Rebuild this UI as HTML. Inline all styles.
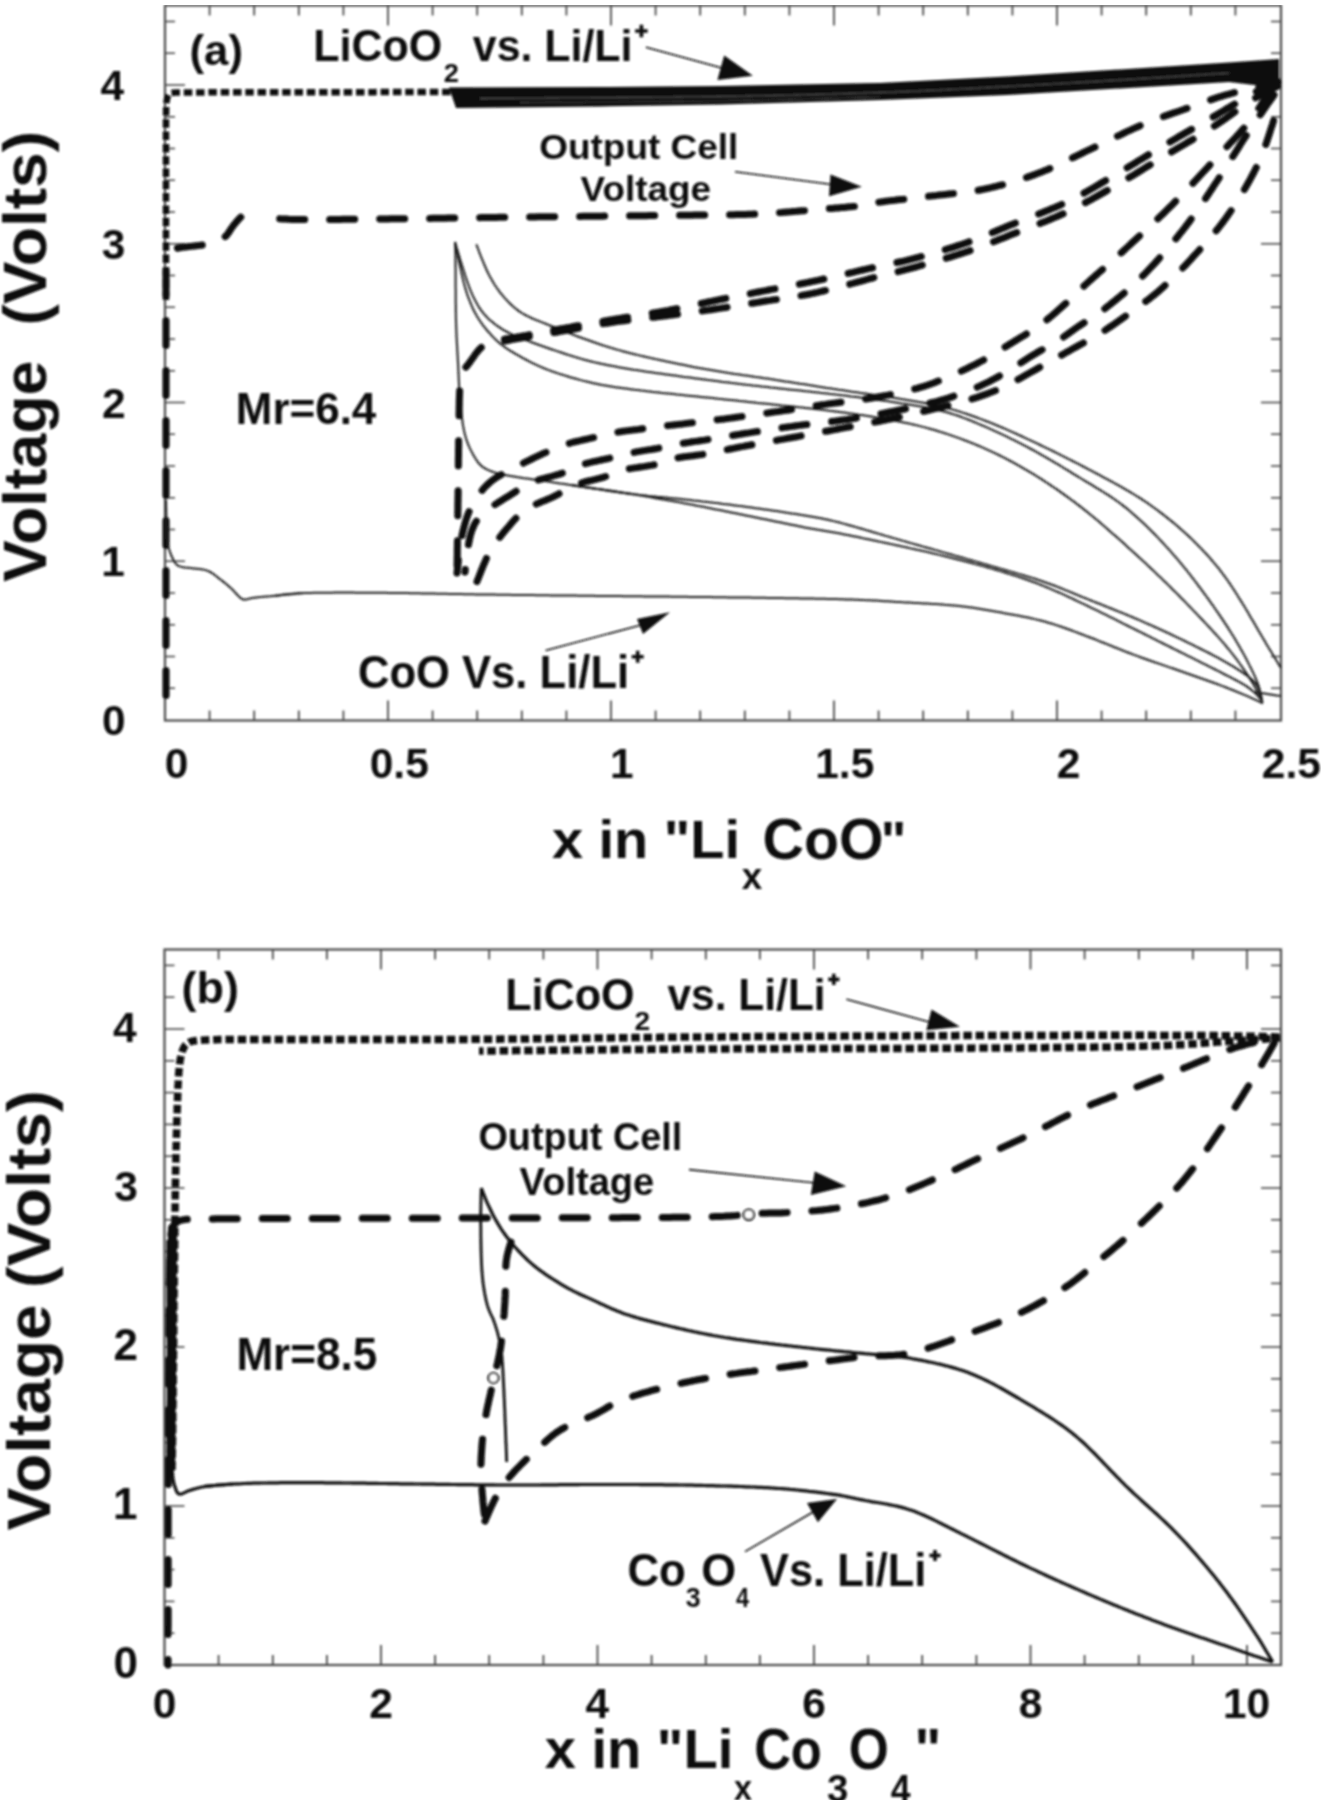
<!DOCTYPE html>
<html><head><meta charset="utf-8"><style>
html,body{margin:0;padding:0;background:#fff;}
svg{display:block;}
text{font-family:'Liberation Sans', sans-serif;font-weight:bold;}
</style></head><body>
<svg width="1322" height="1800" viewBox="0 0 1322 1800">
<rect width="1322" height="1800" fill="#fff"/>
<g filter="url(#soft)">
<line x1="209.6" y1="720.5" x2="209.6" y2="710.5" stroke="#4a4a4a" stroke-width="1.8"/>
<line x1="209.6" y1="5.5" x2="209.6" y2="15.5" stroke="#4a4a4a" stroke-width="1.8"/>
<line x1="254.2" y1="720.5" x2="254.2" y2="710.5" stroke="#4a4a4a" stroke-width="1.8"/>
<line x1="254.2" y1="5.5" x2="254.2" y2="15.5" stroke="#4a4a4a" stroke-width="1.8"/>
<line x1="298.8" y1="720.5" x2="298.8" y2="710.5" stroke="#4a4a4a" stroke-width="1.8"/>
<line x1="298.8" y1="5.5" x2="298.8" y2="15.5" stroke="#4a4a4a" stroke-width="1.8"/>
<line x1="343.4" y1="720.5" x2="343.4" y2="710.5" stroke="#4a4a4a" stroke-width="1.8"/>
<line x1="343.4" y1="5.5" x2="343.4" y2="15.5" stroke="#4a4a4a" stroke-width="1.8"/>
<line x1="388.0" y1="720.5" x2="388.0" y2="700.5" stroke="#4a4a4a" stroke-width="1.8"/>
<line x1="388.0" y1="5.5" x2="388.0" y2="25.5" stroke="#4a4a4a" stroke-width="1.8"/>
<line x1="432.6" y1="720.5" x2="432.6" y2="710.5" stroke="#4a4a4a" stroke-width="1.8"/>
<line x1="432.6" y1="5.5" x2="432.6" y2="15.5" stroke="#4a4a4a" stroke-width="1.8"/>
<line x1="477.2" y1="720.5" x2="477.2" y2="710.5" stroke="#4a4a4a" stroke-width="1.8"/>
<line x1="477.2" y1="5.5" x2="477.2" y2="15.5" stroke="#4a4a4a" stroke-width="1.8"/>
<line x1="521.8" y1="720.5" x2="521.8" y2="710.5" stroke="#4a4a4a" stroke-width="1.8"/>
<line x1="521.8" y1="5.5" x2="521.8" y2="15.5" stroke="#4a4a4a" stroke-width="1.8"/>
<line x1="566.4" y1="720.5" x2="566.4" y2="710.5" stroke="#4a4a4a" stroke-width="1.8"/>
<line x1="566.4" y1="5.5" x2="566.4" y2="15.5" stroke="#4a4a4a" stroke-width="1.8"/>
<line x1="611.0" y1="720.5" x2="611.0" y2="700.5" stroke="#4a4a4a" stroke-width="1.8"/>
<line x1="611.0" y1="5.5" x2="611.0" y2="25.5" stroke="#4a4a4a" stroke-width="1.8"/>
<line x1="655.6" y1="720.5" x2="655.6" y2="710.5" stroke="#4a4a4a" stroke-width="1.8"/>
<line x1="655.6" y1="5.5" x2="655.6" y2="15.5" stroke="#4a4a4a" stroke-width="1.8"/>
<line x1="700.2" y1="720.5" x2="700.2" y2="710.5" stroke="#4a4a4a" stroke-width="1.8"/>
<line x1="700.2" y1="5.5" x2="700.2" y2="15.5" stroke="#4a4a4a" stroke-width="1.8"/>
<line x1="744.8" y1="720.5" x2="744.8" y2="710.5" stroke="#4a4a4a" stroke-width="1.8"/>
<line x1="744.8" y1="5.5" x2="744.8" y2="15.5" stroke="#4a4a4a" stroke-width="1.8"/>
<line x1="789.4" y1="720.5" x2="789.4" y2="710.5" stroke="#4a4a4a" stroke-width="1.8"/>
<line x1="789.4" y1="5.5" x2="789.4" y2="15.5" stroke="#4a4a4a" stroke-width="1.8"/>
<line x1="834.0" y1="720.5" x2="834.0" y2="700.5" stroke="#4a4a4a" stroke-width="1.8"/>
<line x1="834.0" y1="5.5" x2="834.0" y2="25.5" stroke="#4a4a4a" stroke-width="1.8"/>
<line x1="878.6" y1="720.5" x2="878.6" y2="710.5" stroke="#4a4a4a" stroke-width="1.8"/>
<line x1="878.6" y1="5.5" x2="878.6" y2="15.5" stroke="#4a4a4a" stroke-width="1.8"/>
<line x1="923.2" y1="720.5" x2="923.2" y2="710.5" stroke="#4a4a4a" stroke-width="1.8"/>
<line x1="923.2" y1="5.5" x2="923.2" y2="15.5" stroke="#4a4a4a" stroke-width="1.8"/>
<line x1="967.8" y1="720.5" x2="967.8" y2="710.5" stroke="#4a4a4a" stroke-width="1.8"/>
<line x1="967.8" y1="5.5" x2="967.8" y2="15.5" stroke="#4a4a4a" stroke-width="1.8"/>
<line x1="1012.4" y1="720.5" x2="1012.4" y2="710.5" stroke="#4a4a4a" stroke-width="1.8"/>
<line x1="1012.4" y1="5.5" x2="1012.4" y2="15.5" stroke="#4a4a4a" stroke-width="1.8"/>
<line x1="1057.0" y1="720.5" x2="1057.0" y2="700.5" stroke="#4a4a4a" stroke-width="1.8"/>
<line x1="1057.0" y1="5.5" x2="1057.0" y2="25.5" stroke="#4a4a4a" stroke-width="1.8"/>
<line x1="1101.6" y1="720.5" x2="1101.6" y2="710.5" stroke="#4a4a4a" stroke-width="1.8"/>
<line x1="1101.6" y1="5.5" x2="1101.6" y2="15.5" stroke="#4a4a4a" stroke-width="1.8"/>
<line x1="1146.2" y1="720.5" x2="1146.2" y2="710.5" stroke="#4a4a4a" stroke-width="1.8"/>
<line x1="1146.2" y1="5.5" x2="1146.2" y2="15.5" stroke="#4a4a4a" stroke-width="1.8"/>
<line x1="1190.8" y1="720.5" x2="1190.8" y2="710.5" stroke="#4a4a4a" stroke-width="1.8"/>
<line x1="1190.8" y1="5.5" x2="1190.8" y2="15.5" stroke="#4a4a4a" stroke-width="1.8"/>
<line x1="1235.4" y1="720.5" x2="1235.4" y2="710.5" stroke="#4a4a4a" stroke-width="1.8"/>
<line x1="1235.4" y1="5.5" x2="1235.4" y2="15.5" stroke="#4a4a4a" stroke-width="1.8"/>
<line x1="165.0" y1="688.2" x2="175.0" y2="688.2" stroke="#4a4a4a" stroke-width="1.6"/>
<line x1="1281.0" y1="688.2" x2="1271.0" y2="688.2" stroke="#4a4a4a" stroke-width="1.6"/>
<line x1="165.0" y1="656.5" x2="175.0" y2="656.5" stroke="#4a4a4a" stroke-width="1.6"/>
<line x1="1281.0" y1="656.5" x2="1271.0" y2="656.5" stroke="#4a4a4a" stroke-width="1.6"/>
<line x1="165.0" y1="624.8" x2="175.0" y2="624.8" stroke="#4a4a4a" stroke-width="1.6"/>
<line x1="1281.0" y1="624.8" x2="1271.0" y2="624.8" stroke="#4a4a4a" stroke-width="1.6"/>
<line x1="165.0" y1="593.0" x2="175.0" y2="593.0" stroke="#4a4a4a" stroke-width="1.6"/>
<line x1="1281.0" y1="593.0" x2="1271.0" y2="593.0" stroke="#4a4a4a" stroke-width="1.6"/>
<line x1="165.0" y1="561.2" x2="185.0" y2="561.2" stroke="#4a4a4a" stroke-width="1.6"/>
<line x1="1281.0" y1="561.2" x2="1261.0" y2="561.2" stroke="#4a4a4a" stroke-width="1.6"/>
<line x1="165.0" y1="529.5" x2="175.0" y2="529.5" stroke="#4a4a4a" stroke-width="1.6"/>
<line x1="1281.0" y1="529.5" x2="1271.0" y2="529.5" stroke="#4a4a4a" stroke-width="1.6"/>
<line x1="165.0" y1="497.8" x2="175.0" y2="497.8" stroke="#4a4a4a" stroke-width="1.6"/>
<line x1="1281.0" y1="497.8" x2="1271.0" y2="497.8" stroke="#4a4a4a" stroke-width="1.6"/>
<line x1="165.0" y1="466.0" x2="175.0" y2="466.0" stroke="#4a4a4a" stroke-width="1.6"/>
<line x1="1281.0" y1="466.0" x2="1271.0" y2="466.0" stroke="#4a4a4a" stroke-width="1.6"/>
<line x1="165.0" y1="434.2" x2="175.0" y2="434.2" stroke="#4a4a4a" stroke-width="1.6"/>
<line x1="1281.0" y1="434.2" x2="1271.0" y2="434.2" stroke="#4a4a4a" stroke-width="1.6"/>
<line x1="165.0" y1="402.5" x2="185.0" y2="402.5" stroke="#4a4a4a" stroke-width="1.6"/>
<line x1="1281.0" y1="402.5" x2="1261.0" y2="402.5" stroke="#4a4a4a" stroke-width="1.6"/>
<line x1="165.0" y1="370.8" x2="175.0" y2="370.8" stroke="#4a4a4a" stroke-width="1.6"/>
<line x1="1281.0" y1="370.8" x2="1271.0" y2="370.8" stroke="#4a4a4a" stroke-width="1.6"/>
<line x1="165.0" y1="339.0" x2="175.0" y2="339.0" stroke="#4a4a4a" stroke-width="1.6"/>
<line x1="1281.0" y1="339.0" x2="1271.0" y2="339.0" stroke="#4a4a4a" stroke-width="1.6"/>
<line x1="165.0" y1="307.2" x2="175.0" y2="307.2" stroke="#4a4a4a" stroke-width="1.6"/>
<line x1="1281.0" y1="307.2" x2="1271.0" y2="307.2" stroke="#4a4a4a" stroke-width="1.6"/>
<line x1="165.0" y1="275.5" x2="175.0" y2="275.5" stroke="#4a4a4a" stroke-width="1.6"/>
<line x1="1281.0" y1="275.5" x2="1271.0" y2="275.5" stroke="#4a4a4a" stroke-width="1.6"/>
<line x1="165.0" y1="243.8" x2="185.0" y2="243.8" stroke="#4a4a4a" stroke-width="1.6"/>
<line x1="1281.0" y1="243.8" x2="1261.0" y2="243.8" stroke="#4a4a4a" stroke-width="1.6"/>
<line x1="165.0" y1="212.0" x2="175.0" y2="212.0" stroke="#4a4a4a" stroke-width="1.6"/>
<line x1="1281.0" y1="212.0" x2="1271.0" y2="212.0" stroke="#4a4a4a" stroke-width="1.6"/>
<line x1="165.0" y1="180.2" x2="175.0" y2="180.2" stroke="#4a4a4a" stroke-width="1.6"/>
<line x1="1281.0" y1="180.2" x2="1271.0" y2="180.2" stroke="#4a4a4a" stroke-width="1.6"/>
<line x1="165.0" y1="148.5" x2="175.0" y2="148.5" stroke="#4a4a4a" stroke-width="1.6"/>
<line x1="1281.0" y1="148.5" x2="1271.0" y2="148.5" stroke="#4a4a4a" stroke-width="1.6"/>
<line x1="165.0" y1="116.8" x2="175.0" y2="116.8" stroke="#4a4a4a" stroke-width="1.6"/>
<line x1="1281.0" y1="116.8" x2="1271.0" y2="116.8" stroke="#4a4a4a" stroke-width="1.6"/>
<line x1="165.0" y1="85.0" x2="185.0" y2="85.0" stroke="#4a4a4a" stroke-width="1.6"/>
<line x1="1281.0" y1="85.0" x2="1261.0" y2="85.0" stroke="#4a4a4a" stroke-width="1.6"/>
<line x1="165.0" y1="53.2" x2="175.0" y2="53.2" stroke="#4a4a4a" stroke-width="1.6"/>
<line x1="1281.0" y1="53.2" x2="1271.0" y2="53.2" stroke="#4a4a4a" stroke-width="1.6"/>
<line x1="165.0" y1="21.5" x2="175.0" y2="21.5" stroke="#4a4a4a" stroke-width="1.6"/>
<line x1="1281.0" y1="21.5" x2="1271.0" y2="21.5" stroke="#4a4a4a" stroke-width="1.6"/>
<rect x="165.0" y="5.5" width="1116.0" height="715.0" fill="none" stroke="#4a4a4a" stroke-width="2.2"/>
<path d="M166.0,300.0 L166.0,297.0 L166.0,294.0 L166.0,291.0 L166.0,288.0 L166.0,285.0 L166.0,282.0 L166.0,279.0 L166.0,275.9 L166.0,272.9 L166.0,269.9 L166.0,266.9 L166.0,263.9 L166.0,260.9 L166.0,257.9 L166.0,254.9 L166.0,251.9 L166.0,248.9 L166.0,245.9 L166.0,242.9 L166.0,239.9 L166.0,236.9 L166.0,233.9 L166.0,230.9 L166.0,227.8 L166.0,224.8 L166.0,221.8 L166.0,218.8 L166.0,215.8 L166.0,212.8 L166.0,209.8 L166.0,206.8 L166.0,203.8 L166.0,200.8 L166.0,197.8 L166.0,194.8 L166.0,191.8 L166.0,188.8 L166.0,185.8 L166.0,182.7 L166.0,179.7 L166.0,176.7 L166.0,173.7 L166.0,170.7 L166.0,167.7 L166.0,164.7 L166.0,161.7 L166.0,158.7 L166.0,155.7 L166.0,152.7 L166.0,149.7 L166.0,146.7 L166.0,143.7 L166.0,140.7 L166.0,137.6 L166.0,134.6 L166.0,131.6 L166.0,128.6 L166.0,125.6 L166.0,122.6 L166.0,119.6 L166.0,116.6 L166.1,113.6 L166.1,110.6 L166.2,107.6 L166.3,104.6 L166.6,101.7 L167.0,99.0 L167.6,96.7 L168.4,95.0 L169.5,93.8 L171.0,93.1 L173.0,92.8 L175.6,92.6 L178.5,92.5 L181.4,92.5 L184.4,92.5 L187.4,92.4 L190.4,92.4 L193.4,92.4 L196.5,92.4 L199.5,92.4 L202.5,92.4 L205.5,92.4 L208.5,92.3 L211.5,92.3 L214.5,92.3 L217.5,92.3 L220.5,92.3 L223.5,92.3 L226.5,92.3 L229.5,92.3 L232.5,92.3 L235.5,92.3 L238.5,92.3 L241.5,92.3 L244.6,92.3 L247.6,92.3 L250.6,92.3 L253.6,92.3 L256.6,92.3 L259.6,92.3 L262.6,92.3 L265.6,92.3 L268.6,92.3 L271.6,92.3 L274.6,92.3 L277.6,92.3 L280.6,92.3 L283.6,92.3 L286.6,92.3 L289.7,92.3 L292.7,92.3 L295.7,92.3 L298.7,92.3 L301.7,92.3 L304.7,92.3 L307.7,92.3 L310.7,92.3 L313.7,92.3 L316.7,92.3 L319.7,92.3 L322.7,92.3 L325.7,92.3 L328.7,92.2 L331.7,92.2 L334.7,92.2 L337.8,92.2 L340.8,92.2 L343.8,92.2 L346.8,92.2 L349.8,92.2 L352.8,92.2 L355.8,92.2 L358.8,92.2 L361.8,92.2 L364.8,92.2 L367.8,92.2 L370.8,92.2 L373.8,92.2 L376.8,92.1 L379.8,92.1 L382.9,92.1 L385.9,92.1 L388.9,92.1 L391.9,92.1 L394.9,92.1 L397.9,92.1 L400.9,92.1 L403.9,92.1 L406.9,92.1 L409.9,92.1 L412.9,92.1 L415.9,92.1 L418.9,92.1 L421.9,92.1 L424.9,92.1 L428.0,92.0 L431.0,92.0 L434.0,92.0 L437.0,92.0 L440.0,92.0 L443.0,92.0 L446.0,92.0 L449.0,92.0 L451.0,92.0" fill="none" stroke="#0d0d0d" stroke-width="6.5" stroke-linecap="butt" stroke-linejoin="round" stroke-dasharray="8.5 3.8" stroke-dashoffset="0.00" />
<polygon points="449,87.5 600,87 720,86 880,83 1007,76.5 1120,69.5 1229,62.5 1279,59 1279,88 1229,82 1120,88.5 1007,95 880,100 720,104.5 600,106.5 456,108" fill="#0c0c0c"/>
<path d="M480.0,98.5 L483.0,98.5 L486.0,98.5 L489.0,98.4 L492.0,98.4 L495.0,98.4 L498.0,98.4 L501.0,98.3 L504.1,98.3 L507.1,98.3 L510.1,98.3 L513.1,98.3 L516.1,98.2 L519.1,98.2 L522.1,98.2 L525.1,98.2 L528.1,98.2 L531.1,98.1 L534.1,98.1 L537.1,98.1 L540.1,98.1 L543.1,98.1 L546.1,98.0 L549.1,98.0 L552.2,98.0 L555.2,98.0 L558.2,98.0 L561.2,97.9 L564.2,97.9 L567.2,97.9 L570.2,97.9 L573.2,97.9 L576.2,97.8 L579.2,97.8 L582.2,97.8 L585.2,97.8 L588.2,97.8 L591.2,97.7 L594.2,97.7 L597.3,97.7 L600.3,97.7 L603.3,97.7 L606.3,97.6 L609.3,97.6 L612.3,97.6 L615.3,97.6 L618.3,97.5 L621.3,97.5 L624.3,97.5 L627.3,97.5 L630.3,97.4 L633.3,97.4 L636.3,97.4 L639.3,97.4 L642.3,97.3 L645.4,97.3 L648.4,97.3 L651.4,97.3 L654.4,97.2 L657.4,97.2 L660.4,97.2 L663.4,97.2 L666.4,97.1 L669.4,97.1 L672.4,97.1 L675.4,97.0 L678.4,97.0 L681.4,97.0 L684.4,96.9 L687.4,96.9 L690.4,96.9 L693.5,96.8 L696.5,96.8 L699.5,96.8 L702.5,96.7 L705.5,96.7 L708.5,96.7 L711.5,96.6 L714.5,96.6 L717.5,96.5 L720.5,96.5 L723.5,96.4 L726.5,96.4 L729.5,96.4 L732.5,96.3 L735.5,96.3 L738.5,96.2 L741.6,96.2 L744.6,96.1 L747.6,96.0 L750.6,96.0 L753.6,95.9 L756.6,95.9 L759.6,95.8 L762.6,95.8 L765.6,95.7 L768.6,95.6 L771.6,95.6 L774.6,95.5 L777.6,95.4 L780.6,95.4 L783.6,95.3 L786.6,95.2 L789.6,95.2 L792.7,95.1 L795.7,95.0 L798.7,95.0 L801.7,94.9 L804.7,94.8 L807.7,94.7 L810.7,94.7 L813.7,94.6 L816.7,94.5 L819.7,94.4 L822.7,94.3 L825.7,94.2 L828.7,94.2 L831.7,94.1 L834.7,94.0 L837.7,93.9 L840.7,93.8 L843.7,93.7 L846.7,93.6 L849.8,93.5 L852.8,93.4 L855.8,93.3 L858.8,93.2 L861.8,93.1 L864.8,93.0 L867.8,92.9 L870.8,92.8 L873.8,92.7 L876.8,92.6 L879.8,92.5 L882.8,92.4 L885.8,92.3 L888.8,92.2 L891.8,92.1 L894.8,92.0 L897.8,91.8 L900.8,91.7 L903.8,91.6 L906.8,91.5 L909.8,91.3 L912.8,91.2 L915.9,91.1 L918.9,91.0 L921.9,90.8 L924.9,90.7 L927.9,90.5 L930.9,90.4 L933.9,90.3 L936.9,90.1 L939.9,90.0 L942.9,89.8 L945.9,89.7 L948.9,89.5 L951.9,89.4 L954.9,89.2 L957.9,89.1 L960.9,88.9 L963.9,88.8 L966.9,88.6 L969.9,88.5 L972.9,88.3 L975.9,88.1 L978.9,88.0 L981.9,87.8 L984.9,87.7 L987.9,87.5 L990.9,87.3 L993.9,87.2 L996.9,87.0 L999.9,86.9 L1002.9,86.7 L1005.9,86.6 L1008.9,86.4 L1011.9,86.2 L1014.9,86.1 L1017.9,85.9 L1020.9,85.8 L1023.9,85.6 L1026.9,85.4 L1029.9,85.3 L1033.0,85.1 L1036.0,84.9 L1039.0,84.8 L1042.0,84.6 L1045.0,84.4 L1048.0,84.3 L1051.0,84.1 L1054.0,83.9 L1057.0,83.8 L1060.0,83.6 L1063.0,83.4 L1066.0,83.2 L1069.0,83.1 L1072.0,82.9 L1075.0,82.7 L1078.0,82.5 L1081.0,82.4 L1084.0,82.2 L1087.0,82.0 L1090.0,81.8 L1093.0,81.6 L1096.0,81.5 L1099.0,81.3 L1102.0,81.1 L1105.0,80.9 L1108.0,80.7 L1111.0,80.5 L1114.0,80.4 L1117.0,80.2 L1120.0,80.0 L1123.0,79.8 L1126.0,79.6 L1129.0,79.4 L1132.0,79.3 L1135.0,79.1 L1138.0,78.9 L1141.0,78.7 L1144.0,78.5 L1147.0,78.3 L1150.0,78.1 L1153.0,77.9 L1156.0,77.7 L1159.0,77.6 L1162.0,77.4 L1165.0,77.2 L1168.0,77.0 L1171.0,76.8 L1174.0,76.6 L1177.0,76.4 L1180.0,76.2 L1183.0,76.0 L1186.0,75.8 L1189.0,75.6 L1192.0,75.4 L1195.0,75.2 L1198.0,75.0 L1201.0,74.8 L1204.0,74.6 L1207.0,74.4 L1210.0,74.2 L1213.0,74.0 L1216.0,73.8 L1219.0,73.6 L1222.0,73.5 L1225.0,73.3 L1228.0,73.1 L1229.0,73.0" fill="none" stroke="#666" stroke-width="1.3" stroke-linecap="butt" stroke-linejoin="round" opacity="0.7"/>
<path d="M520.0,102.5 L523.0,102.5 L526.0,102.5 L529.0,102.4 L532.0,102.4 L535.0,102.4 L538.1,102.4 L541.1,102.4 L544.1,102.4 L547.1,102.3 L550.1,102.3 L553.1,102.3 L556.1,102.3 L559.1,102.3 L562.1,102.3 L565.1,102.2 L568.1,102.2 L571.1,102.2 L574.2,102.2 L577.2,102.2 L580.2,102.2 L583.2,102.2 L586.2,102.1 L589.2,102.1 L592.2,102.1 L595.2,102.1 L598.2,102.1 L601.2,102.1 L604.2,102.0 L607.3,102.0 L610.3,102.0 L613.3,102.0 L616.3,102.0 L619.3,101.9 L622.3,101.9 L625.3,101.9 L628.3,101.9 L631.3,101.9 L634.3,101.8 L637.3,101.8 L640.4,101.8 L643.4,101.8 L646.4,101.8 L649.4,101.7 L652.4,101.7 L655.4,101.7 L658.4,101.7 L661.4,101.6 L664.4,101.6 L667.4,101.6 L670.4,101.6 L673.4,101.5 L676.5,101.5 L679.5,101.5 L682.5,101.5 L685.5,101.4 L688.5,101.4 L691.5,101.4 L694.5,101.3 L697.5,101.3 L700.5,101.3 L703.5,101.2 L706.5,101.2 L709.6,101.1 L712.6,101.1 L715.6,101.1 L718.6,101.0 L721.6,101.0 L724.6,100.9 L727.6,100.9 L730.6,100.8 L733.6,100.8 L736.6,100.7 L739.6,100.7 L742.6,100.6 L745.7,100.5 L748.7,100.5 L751.7,100.4 L754.7,100.3 L757.7,100.3 L760.7,100.2 L763.7,100.1 L766.7,100.1 L769.7,100.0 L772.7,99.9 L775.7,99.9 L778.7,99.8 L781.7,99.7 L784.8,99.6 L787.8,99.6 L790.8,99.5 L793.8,99.4 L796.8,99.3 L799.8,99.2 L802.8,99.2 L805.8,99.1 L808.8,99.0 L811.8,98.9 L814.8,98.8 L817.8,98.8 L820.8,98.7 L823.9,98.6 L826.9,98.5 L829.9,98.4 L832.9,98.3 L835.9,98.2 L838.9,98.2 L841.9,98.1 L844.9,98.0 L847.9,97.9 L850.9,97.8 L853.9,97.7 L856.9,97.6 L859.9,97.6 L863.0,97.5 L866.0,97.4 L869.0,97.3 L872.0,97.2 L875.0,97.1 L878.0,97.1 L880.0,97.0" fill="none" stroke="#777" stroke-width="1.0" stroke-linecap="butt" stroke-linejoin="round" opacity="0.5"/>
<path d="M166.0,720.0 L166.0,717.0 L166.0,714.0 L166.0,711.0 L166.0,708.0 L166.0,705.0 L166.0,702.0 L166.0,699.0 L166.0,695.9 L166.0,692.9 L166.0,689.9 L166.0,686.9 L166.0,683.9 L166.0,680.9 L166.0,677.9 L166.0,674.9 L166.0,671.9 L166.0,668.9 L166.0,665.9 L166.0,662.9 L166.0,659.9 L166.0,656.9 L166.0,653.9 L166.0,650.8 L166.0,647.8 L166.0,644.8 L166.0,641.8 L166.0,638.8 L166.0,635.8 L166.0,632.8 L166.0,629.8 L166.0,626.8 L166.0,623.8 L166.0,620.8 L166.0,617.8 L166.0,614.8 L166.0,611.8 L166.0,608.8 L166.0,605.8 L166.0,602.7 L166.0,599.7 L166.0,596.7 L166.0,593.7 L166.0,590.7 L166.0,587.7 L166.0,584.7 L166.0,581.7 L166.0,578.7 L166.0,575.7 L166.0,572.7 L166.0,569.7 L166.0,566.7 L166.0,563.7 L166.0,560.7 L166.0,557.6 L166.0,554.6 L166.0,551.6 L166.0,548.6 L166.0,545.6 L166.0,542.6 L166.0,539.6 L166.0,536.6 L166.0,533.6 L166.0,530.6 L166.0,527.6 L166.0,524.6 L166.0,521.6 L166.0,518.6 L166.0,515.6 L166.0,512.5 L166.0,509.5 L166.0,506.5 L166.0,503.5 L166.0,500.5 L166.0,497.5 L166.0,494.5 L166.0,491.5 L166.0,488.5 L166.0,485.5 L166.0,482.5 L166.0,479.5 L166.0,476.5 L166.0,473.5 L166.0,470.5 L166.0,467.4 L166.0,464.4 L166.0,461.4 L166.0,458.4 L166.0,455.4 L166.0,452.4 L166.0,449.4 L166.0,446.4 L166.0,443.4 L166.0,440.4 L166.0,437.4 L166.0,434.4 L166.0,431.4 L166.0,428.4 L166.0,425.4 L166.0,422.4 L166.0,419.3 L166.0,416.3 L166.0,413.3 L166.0,410.3 L166.0,407.3 L166.0,404.3 L166.0,401.3 L166.0,398.3 L166.0,395.3 L166.0,392.3 L166.0,389.3 L166.0,386.3 L166.0,383.3 L166.0,380.3 L166.0,377.3 L166.0,374.2 L166.0,371.2 L166.0,368.2 L166.0,365.2 L166.0,362.2 L166.0,359.2 L166.0,356.2 L166.0,353.2 L166.0,350.2 L166.0,347.2 L166.0,344.2 L166.0,341.2 L166.0,338.2 L166.0,335.2 L166.0,332.2 L166.0,329.1 L166.0,326.1 L166.0,323.1 L166.0,320.1 L166.0,317.1 L166.0,314.1 L166.0,311.1 L166.0,308.1 L166.0,305.1 L166.0,302.1 L166.0,299.1 L166.0,296.1 L166.0,293.1 L166.0,290.1 L166.0,287.1 L166.0,284.0 L166.0,281.0 L166.0,278.0 L166.0,275.0 L166.0,272.0 L166.0,269.0 L166.0,266.0 L166.0,263.0 L166.0,262.0" fill="none" stroke="#0a0a0a" stroke-width="7.0" stroke-linecap="round" stroke-linejoin="round" stroke-dasharray="25 25" stroke-dashoffset="25.45" />
<path d="M166.0,262.0 L167.3,259.3 L168.7,256.6 L170.4,254.1 L172.3,251.7 L174.2,249.6 L176.8,248.4 L179.7,247.7 L182.7,247.3 L185.7,246.9 L188.8,246.6 L191.8,246.3 L194.8,245.9 L197.8,245.6 L200.8,245.2 L203.8,244.9 L206.8,244.4 L209.8,243.9 L212.8,243.3 L215.7,242.4 L218.5,241.3 L221.2,239.9 L223.6,238.1 L225.8,236.1 L227.8,233.8 L229.5,231.3 L231.1,228.7 L232.9,226.2 L234.7,223.9 L236.7,221.5 L238.7,219.2 L240.8,217.1 L243.2,215.2 L245.7,213.6 L248.6,212.8 L251.5,212.9 L254.5,213.6 L257.3,214.6 L260.1,215.7 L262.0,216.5" fill="none" stroke="#0a0a0a" stroke-width="7.0" stroke-linecap="round" stroke-linejoin="round" stroke-dasharray="25 25" stroke-dashoffset="31.53" />
<path d="M268.0,217.5 L271.0,217.9 L274.0,218.2 L276.9,218.5 L279.9,218.8 L282.9,219.0 L285.9,219.1 L288.9,219.3 L291.9,219.4 L294.9,219.4 L297.9,219.5 L300.9,219.5 L303.9,219.5 L306.9,219.5 L310.0,219.5 L313.0,219.5 L316.0,219.5 L319.0,219.5 L322.0,219.5 L325.0,219.5 L328.0,219.4 L331.0,219.4 L334.0,219.4 L337.0,219.4 L340.0,219.4 L343.0,219.3 L346.0,219.3 L349.0,219.3 L352.0,219.3 L355.0,219.2 L358.0,219.2 L361.0,219.2 L364.0,219.1 L367.0,219.1 L370.0,219.1 L373.0,219.0 L376.0,219.0 L379.0,219.0 L382.0,218.9 L385.0,218.9 L388.0,218.9 L391.0,218.8 L394.0,218.8 L397.0,218.8 L400.1,218.7 L403.1,218.7 L406.1,218.7 L409.1,218.6 L412.1,218.6 L415.1,218.6 L418.1,218.5 L421.1,218.5 L424.1,218.5 L427.1,218.4 L430.1,218.4 L433.1,218.3 L436.1,218.3 L439.1,218.3 L442.1,218.2 L445.1,218.2 L448.1,218.1 L451.1,218.1 L454.1,218.0 L457.1,218.0 L460.1,217.9 L463.1,217.9 L466.1,217.9 L469.1,217.8 L472.1,217.8 L475.1,217.7 L478.1,217.7 L481.1,217.6 L484.1,217.6 L487.1,217.5 L490.1,217.5 L493.1,217.4 L496.2,217.4 L499.2,217.3 L502.2,217.3 L505.2,217.3 L508.2,217.2 L511.2,217.2 L514.2,217.1 L517.2,217.1 L520.2,217.1 L523.2,217.0 L526.2,217.0 L529.2,216.9 L532.2,216.9 L535.2,216.9 L538.2,216.8 L541.2,216.8 L544.2,216.8 L547.2,216.7 L550.2,216.7 L553.2,216.7 L556.2,216.6 L559.2,216.6 L562.2,216.6 L565.2,216.5 L568.2,216.5 L571.2,216.5 L574.2,216.4 L577.2,216.4 L580.2,216.4 L583.2,216.3 L586.2,216.3 L589.2,216.3 L592.3,216.2 L595.3,216.2 L598.3,216.2 L601.3,216.2 L604.3,216.1 L607.3,216.1 L610.3,216.1 L613.3,216.0 L616.3,216.0 L619.3,216.0 L622.3,215.9 L625.3,215.9 L628.3,215.9 L631.3,215.8 L634.3,215.8 L637.3,215.8 L640.3,215.7 L643.3,215.7 L646.3,215.7 L649.3,215.6 L652.3,215.6 L655.3,215.6 L658.3,215.5 L661.3,215.5 L664.3,215.5 L667.3,215.4 L670.3,215.4 L673.3,215.4 L676.3,215.3 L679.3,215.3 L682.3,215.3 L685.4,215.2 L688.4,215.2 L691.4,215.2 L694.4,215.1 L697.4,215.1 L700.4,215.1 L703.4,215.0 L706.4,215.0 L709.4,214.9 L712.4,214.9 L715.4,214.9 L718.4,214.8 L721.4,214.8 L724.4,214.8 L727.4,214.7 L730.4,214.7 L733.4,214.7 L736.4,214.6 L739.4,214.6 L742.4,214.5 L745.4,214.4 L748.4,214.3 L751.4,214.2 L754.4,214.1 L757.4,214.0 L760.4,213.8 L763.4,213.7 L766.4,213.5 L769.4,213.3 L772.4,213.1 L775.4,212.9 L778.4,212.7 L781.4,212.5 L784.4,212.2 L787.4,212.0 L790.4,211.8 L793.4,211.5 L796.4,211.3 L799.4,211.0 L802.4,210.8 L805.3,210.6 L808.3,210.3 L811.3,210.1 L814.3,209.8 L817.3,209.6 L820.3,209.4 L823.3,209.1 L826.3,208.9 L829.3,208.6 L832.3,208.4 L835.3,208.1 L838.3,207.9 L841.3,207.6 L844.3,207.4 L847.3,207.1 L850.2,206.8 L853.2,206.5 L856.2,206.2 L859.2,205.8 L862.2,205.3 L865.1,204.8 L868.1,204.3 L871.0,203.7 L873.9,203.1 L876.9,202.6 L879.9,202.1 L882.8,201.7 L885.8,201.3 L888.8,200.9 L891.8,200.5 L894.8,200.2 L897.7,199.8 L900.7,199.5 L903.7,199.2 L906.7,198.8 L909.7,198.5 L912.7,198.1 L915.7,197.8 L918.6,197.5 L921.6,197.1 L924.6,196.8 L927.6,196.4 L930.6,196.1 L933.5,195.7 L936.5,195.4 L939.5,195.0 L942.5,194.7 L945.5,194.4 L948.5,194.1 L951.5,193.8 L954.5,193.5 L957.4,193.1 L960.4,192.8 L963.4,192.4 L966.4,192.1 L969.4,191.7 L972.3,191.2 L975.3,190.8 L978.3,190.3 L981.2,189.7 L984.2,189.1 L987.1,188.5 L990.0,187.9 L992.9,187.2 L995.9,186.5 L998.8,185.7 L1001.7,185.0 L1004.6,184.2 L1007.5,183.4 L1010.4,182.6 L1013.2,181.7 L1016.1,180.8 L1019.0,179.9 L1021.8,179.0 L1024.7,178.1 L1027.5,177.1 L1030.4,176.1 L1033.2,175.1 L1036.0,174.1 L1038.8,173.0 L1041.6,171.9 L1044.4,170.8 L1047.2,169.7 L1049.9,168.5 L1052.7,167.3 L1055.4,166.0 L1058.2,164.8 L1060.9,163.5 L1063.6,162.2 L1066.3,160.9 L1069.0,159.6 L1071.7,158.3 L1074.4,157.0 L1077.1,155.7 L1079.8,154.3 L1082.5,153.0 L1085.2,151.7 L1087.9,150.4 L1090.6,149.1 L1093.3,147.8 L1096.1,146.6 L1098.8,145.3 L1101.5,144.0 L1104.2,142.7 L1106.9,141.4 L1109.6,140.0 L1112.3,138.7 L1115.0,137.4 L1117.7,136.1 L1120.4,134.8 L1123.1,133.5 L1125.8,132.2 L1128.5,130.9 L1131.3,129.7 L1134.0,128.4 L1136.7,127.2 L1139.5,126.0 L1142.2,124.8 L1145.0,123.6 L1147.8,122.5 L1150.6,121.4 L1153.4,120.3 L1156.2,119.2 L1159.0,118.2 L1161.8,117.1 L1164.6,116.1 L1167.5,115.1 L1170.3,114.1 L1173.1,113.1 L1176.0,112.2 L1178.8,111.2 L1181.7,110.2 L1184.5,109.2 L1187.3,108.3 L1190.2,107.3 L1193.0,106.3 L1195.8,105.2 L1198.7,104.2 L1201.5,103.2 L1204.3,102.2 L1207.1,101.1 L1209.9,100.1 L1212.8,99.1 L1215.6,98.1 L1218.5,97.2 L1221.3,96.3 L1224.2,95.4 L1227.1,94.6 L1230.0,93.8 L1232.9,93.0 L1235.8,92.3 L1238.7,91.6 L1241.7,91.0 L1244.6,90.3 L1247.5,89.7 L1250.5,89.1 L1253.4,88.5 L1256.4,87.9 L1259.3,87.3 L1262.3,86.7 L1265.2,86.1 L1268.1,85.6 L1271.1,85.0 L1274.0,84.4 L1276.0,84.0" fill="none" stroke="#0a0a0a" stroke-width="7.0" stroke-linecap="round" stroke-linejoin="round" stroke-dasharray="25 25" stroke-dashoffset="38.22" />
<path d="M166.0,500.0 L166.1,503.0 L166.1,506.1 L166.2,509.1 L166.2,512.1 L166.3,515.1 L166.3,518.2 L166.4,521.2 L166.4,524.2 L166.5,527.2 L166.6,530.3 L166.7,533.3 L166.9,536.3 L167.1,539.3 L167.5,542.3 L168.0,545.3 L168.8,548.2 L169.7,551.1 L170.7,554.0 L171.9,556.8 L173.2,559.5 L174.6,562.1 L176.4,564.5 L178.8,566.1 L181.7,566.9 L184.7,567.4 L187.7,567.7 L190.7,568.1 L193.7,568.4 L196.7,568.7 L199.7,569.0 L202.7,569.4 L205.6,570.1 L208.5,571.1 L211.1,572.5 L213.7,574.2 L216.1,576.0 L218.4,577.9 L220.8,579.8 L223.2,581.6 L225.6,583.5 L227.9,585.4 L230.2,587.4 L232.4,589.5 L234.4,591.7 L236.5,594.0 L238.6,596.1 L240.8,598.2 L243.2,599.6 L246.0,599.6 L248.9,598.8 L251.8,598.1 L254.8,597.7 L257.8,597.3 L260.8,597.1 L263.8,596.8 L266.8,596.5 L269.9,596.3 L272.9,596.0 L275.9,595.7 L278.9,595.4 L281.9,595.1 L284.9,594.8 L287.9,594.5 L291.0,594.2 L294.0,593.9 L297.0,593.6 L300.0,593.3 L303.0,593.0" fill="none" stroke="#1c1c1c" stroke-width="2.0" stroke-linecap="butt" stroke-linejoin="round" />
<path d="M275.0,595.8 L278.0,595.4 L281.0,595.0 L283.9,594.6 L286.9,594.3 L289.9,594.0 L292.9,593.7 L295.9,593.5 L298.9,593.3 L301.9,593.2 L304.9,593.0 L307.9,593.0 L310.9,592.9 L313.9,592.8 L316.9,592.8 L319.9,592.7 L322.9,592.7 L325.9,592.7 L328.9,592.7 L331.9,592.7 L334.9,592.6 L337.9,592.6 L341.0,592.6 L344.0,592.6 L347.0,592.6 L350.0,592.6 L353.0,592.6 L356.0,592.7 L359.0,592.7 L362.0,592.7 L365.0,592.7 L368.0,592.7 L371.0,592.7 L374.0,592.7 L377.0,592.8 L380.0,592.8 L383.0,592.8 L386.0,592.8 L389.0,592.9 L392.0,592.9 L395.1,593.0 L398.1,593.0 L401.1,593.0 L404.1,593.1 L407.1,593.1 L410.1,593.2 L413.1,593.2 L416.1,593.3 L419.1,593.3 L422.1,593.4 L425.1,593.4 L428.1,593.5 L431.1,593.6 L434.1,593.6 L437.1,593.7 L440.1,593.7 L443.1,593.8 L446.1,593.8 L449.1,593.9 L452.2,594.0 L455.2,594.0 L458.2,594.1 L461.2,594.1 L464.2,594.2 L467.2,594.2 L470.2,594.3 L473.2,594.3 L476.2,594.4 L479.2,594.4 L482.2,594.5 L485.2,594.5 L488.2,594.5 L491.2,594.6 L494.2,594.6 L497.2,594.7 L500.2,594.7 L503.2,594.8 L506.2,594.8 L509.3,594.8 L512.3,594.9 L515.3,594.9 L518.3,595.0 L521.3,595.0 L524.3,595.0 L527.3,595.1 L530.3,595.1 L533.3,595.1 L536.3,595.2 L539.3,595.2 L542.3,595.3 L545.3,595.3 L548.3,595.3 L551.3,595.4 L554.3,595.4 L557.3,595.4 L560.3,595.5 L563.4,595.5 L566.4,595.5 L569.4,595.6 L572.4,595.6 L575.4,595.6 L578.4,595.7 L581.4,595.7 L584.4,595.7 L587.4,595.8 L590.4,595.8 L593.4,595.8 L596.4,595.9 L599.4,595.9 L602.4,595.9 L605.4,596.0 L608.4,596.0 L611.4,596.0 L614.4,596.1 L617.4,596.1 L620.5,596.1 L623.5,596.2 L626.5,596.2 L629.5,596.2 L632.5,596.2 L635.5,596.3 L638.5,596.3 L641.5,596.3 L644.5,596.4 L647.5,596.4 L650.5,596.4 L653.5,596.5 L656.5,596.5 L659.5,596.5 L662.5,596.6 L665.5,596.6 L668.5,596.6 L671.5,596.7 L674.6,596.7 L677.6,596.7 L680.6,596.8 L683.6,596.8 L686.6,596.8 L689.6,596.9 L692.6,596.9 L695.6,596.9 L698.6,597.0 L701.6,597.0 L704.6,597.1 L707.6,597.1 L710.6,597.1 L713.6,597.2 L716.6,597.2 L719.6,597.3 L722.6,597.3 L725.6,597.3 L728.7,597.4 L731.7,597.4 L734.7,597.4 L737.7,597.5 L740.7,597.5 L743.7,597.6 L746.7,597.6 L749.7,597.6 L752.7,597.7 L755.7,597.7 L758.7,597.8 L761.7,597.8 L764.7,597.8 L767.7,597.9 L770.7,597.9 L773.7,598.0 L776.7,598.0 L779.7,598.1 L782.7,598.1 L785.8,598.2 L788.8,598.2 L791.8,598.2 L794.8,598.3 L797.8,598.3 L800.8,598.4 L803.8,598.4 L806.8,598.5 L809.8,598.6 L812.8,598.6 L815.8,598.7 L818.8,598.7 L821.8,598.8 L824.8,598.8 L827.8,598.9 L830.8,599.0 L833.8,599.1 L836.8,599.1 L839.8,599.2 L842.8,599.3 L845.9,599.4 L848.9,599.5 L851.9,599.6 L854.9,599.7 L857.9,599.8 L860.9,599.9 L863.9,600.1 L866.9,600.2 L869.9,600.3 L872.9,600.5 L875.9,600.6 L878.9,600.8 L881.9,601.0 L884.9,601.2 L887.9,601.3 L890.9,601.5 L893.9,601.7 L896.9,601.9 L899.9,602.1 L902.9,602.3 L905.9,602.4 L908.9,602.6 L911.9,602.8 L914.9,603.0 L917.9,603.1 L920.9,603.3 L923.9,603.5 L926.9,603.6 L929.9,603.8 L932.9,604.0 L935.9,604.1 L938.9,604.3 L941.9,604.5 L944.9,604.8 L947.9,605.0 L950.9,605.2 L953.9,605.5 L956.9,605.8 L959.9,606.1 L962.8,606.4 L965.8,606.8 L968.8,607.2 L971.8,607.6 L974.7,608.0 L977.7,608.5 L980.7,609.0 L983.6,609.5 L986.6,610.0 L989.6,610.5 L992.5,611.0 L995.5,611.6 L998.4,612.1 L1001.4,612.6 L1004.4,613.2 L1007.3,613.7 L1010.3,614.2 L1013.2,614.7 L1016.2,615.3 L1019.2,615.8 L1022.1,616.4 L1025.1,617.0 L1028.0,617.6 L1030.9,618.2 L1033.9,618.9 L1036.8,619.6 L1039.7,620.3 L1042.6,621.0 L1045.5,621.8 L1048.4,622.7 L1051.3,623.5 L1054.1,624.4 L1057.0,625.4 L1059.8,626.3 L1062.7,627.3 L1065.5,628.3 L1068.3,629.3 L1071.2,630.3 L1074.0,631.4 L1076.8,632.4 L1079.6,633.5 L1082.4,634.5 L1085.2,635.6 L1088.1,636.7 L1090.9,637.8 L1093.7,638.8 L1096.5,639.9 L1099.2,641.1 L1102.0,642.2 L1104.8,643.3 L1107.6,644.4 L1110.4,645.5 L1113.2,646.7 L1116.0,647.8 L1118.8,648.9 L1121.6,650.0 L1124.3,651.1 L1127.1,652.2 L1130.0,653.3 L1132.8,654.4 L1135.6,655.4 L1138.4,656.4 L1141.2,657.5 L1144.1,658.5 L1146.9,659.5 L1149.7,660.5 L1152.6,661.5 L1155.4,662.5 L1158.2,663.4 L1161.1,664.4 L1163.9,665.4 L1166.8,666.4 L1169.6,667.4 L1172.5,668.3 L1175.3,669.3 L1178.1,670.3 L1181.0,671.3 L1183.8,672.3 L1186.6,673.3 L1189.5,674.3 L1192.3,675.2 L1195.2,676.2 L1198.0,677.2 L1200.8,678.2 L1203.7,679.2 L1206.5,680.2 L1209.3,681.2 L1212.2,682.2 L1215.0,683.3 L1217.8,684.3 L1220.6,685.4 L1223.4,686.4 L1226.2,687.5 L1229.0,688.6 L1231.8,689.7 L1234.6,690.8 L1237.4,692.0 L1240.2,693.1 L1243.0,694.3 L1245.7,695.4 L1248.5,696.6 L1251.2,697.8 L1254.0,699.1 L1256.7,700.4 L1259.4,701.7 L1262.1,703.0 L1263.0,703.4" fill="none" stroke="#1c1c1c" stroke-width="2.0" stroke-linecap="butt" stroke-linejoin="round" />
<path d="M1255.0,692.0 L1258.1,692.5 L1261.2,693.0 L1264.4,693.4 L1267.5,693.9 L1270.6,694.4 L1273.7,694.9 L1276.8,695.4 L1280.0,695.8 L1281.0,696.0" fill="none" stroke="#1c1c1c" stroke-width="2.0" stroke-linecap="butt" stroke-linejoin="round" />
<path d="M476.3,244.4 L477.4,247.2 L478.5,250.0 L479.5,252.8 L480.6,255.6 L481.7,258.4 L482.9,261.2 L484.0,264.0 L485.2,266.7 L486.4,269.5 L487.7,272.2 L489.0,274.9 L490.4,277.5 L491.9,280.1 L493.4,282.7 L495.0,285.2 L496.7,287.7 L498.4,290.2 L500.2,292.6 L502.1,294.9 L504.0,297.2 L506.0,299.4 L508.1,301.6 L510.2,303.7 L512.4,305.8 L514.6,307.7 L516.9,309.6 L519.3,311.4 L521.8,313.0 L524.4,314.5 L527.0,315.9 L529.7,317.2 L532.4,318.5 L535.2,319.6 L538.0,320.7 L540.8,321.9 L543.5,322.9 L546.3,324.0 L549.1,325.2 L551.9,326.3 L554.7,327.4 L557.5,328.5 L560.3,329.6 L563.1,330.7 L565.9,331.8 L568.7,332.9 L571.5,334.0 L574.3,335.1 L577.1,336.2 L579.9,337.2 L582.7,338.3 L585.6,339.3 L588.4,340.3 L591.2,341.3 L594.0,342.3 L596.9,343.3 L599.7,344.3 L602.6,345.2 L605.5,346.1 L608.3,347.0 L611.2,347.9 L614.1,348.8 L617.0,349.6 L619.9,350.4 L622.7,351.2 L625.7,352.0 L628.6,352.8 L631.5,353.5 L634.4,354.2 L637.3,354.9 L640.2,355.6 L643.2,356.3 L646.1,357.0 L649.0,357.6 L652.0,358.3 L654.9,358.9 L657.8,359.6 L660.8,360.2 L663.7,360.8 L666.7,361.5 L669.6,362.1 L672.5,362.7 L675.5,363.3 L678.4,363.9 L681.4,364.5 L684.3,365.1 L687.3,365.7 L690.2,366.3 L693.2,366.9 L696.1,367.4 L699.1,368.0 L702.0,368.5 L705.0,369.1 L707.9,369.6 L710.9,370.1 L713.9,370.6 L716.8,371.1 L719.8,371.6 L722.8,372.1 L725.7,372.5 L728.7,373.0 L731.7,373.4 L734.6,373.9 L737.6,374.3 L740.6,374.7 L743.6,375.2 L746.5,375.6 L749.5,376.0 L752.5,376.4 L755.5,376.9 L758.4,377.3 L761.4,377.7 L764.4,378.2 L767.4,378.6 L770.3,379.1 L773.3,379.5 L776.3,380.0 L779.3,380.4 L782.2,380.9 L785.2,381.4 L788.2,381.8 L791.1,382.3 L794.1,382.8 L797.1,383.2 L800.0,383.7 L803.0,384.1 L806.0,384.6 L809.0,385.1 L811.9,385.5 L814.9,386.0 L817.9,386.5 L820.8,386.9 L823.8,387.4 L826.8,387.9 L829.7,388.3 L832.7,388.8 L835.7,389.2 L838.7,389.7 L841.6,390.1 L844.6,390.6 L847.6,391.0 L850.5,391.5 L853.5,391.9 L856.5,392.3 L859.5,392.8 L862.4,393.2 L865.4,393.6 L868.4,394.1 L871.4,394.5 L874.3,394.9 L877.3,395.3 L880.3,395.8 L883.3,396.2 L886.2,396.7 L889.2,397.1 L892.2,397.6 L895.2,398.0 L898.1,398.5 L901.1,399.0 L904.1,399.4 L907.0,399.9 L910.0,400.4 L913.0,400.9 L915.9,401.4 L918.9,402.0 L921.8,402.5 L924.8,403.0 L927.7,403.6 L930.7,404.2 L933.6,404.8 L936.6,405.4 L939.5,406.1 L942.4,406.8 L945.3,407.5 L948.2,408.3 L951.1,409.1 L954.0,409.9 L956.9,410.8 L959.8,411.6 L962.6,412.6 L965.5,413.5 L968.3,414.5 L971.2,415.5 L974.0,416.5 L976.8,417.5 L979.6,418.6 L982.4,419.6 L985.2,420.7 L988.0,421.8 L990.8,422.9 L993.6,424.0 L996.4,425.2 L999.2,426.3 L1002.0,427.5 L1004.7,428.7 L1007.5,429.9 L1010.2,431.1 L1013.0,432.3 L1015.7,433.5 L1018.5,434.8 L1021.2,436.0 L1023.9,437.3 L1026.6,438.6 L1029.4,439.8 L1032.1,441.1 L1034.8,442.4 L1037.5,443.7 L1040.2,445.0 L1042.9,446.3 L1045.6,447.6 L1048.3,448.9 L1051.0,450.2 L1053.7,451.5 L1056.4,452.9 L1059.1,454.2 L1061.8,455.6 L1064.5,456.9 L1067.2,458.3 L1069.9,459.6 L1072.5,461.0 L1075.2,462.4 L1077.9,463.7 L1080.6,465.1 L1083.2,466.5 L1085.9,467.9 L1088.5,469.3 L1091.2,470.7 L1093.9,472.1 L1096.5,473.5 L1099.2,474.9 L1101.8,476.3 L1104.5,477.8 L1107.1,479.2 L1109.8,480.6 L1112.4,482.0 L1115.0,483.5 L1117.7,484.9 L1120.3,486.4 L1122.9,487.9 L1125.5,489.4 L1128.1,490.9 L1130.7,492.4 L1133.3,494.0 L1135.8,495.5 L1138.4,497.1 L1140.9,498.7 L1143.4,500.4 L1145.9,502.0 L1148.4,503.7 L1150.9,505.5 L1153.3,507.2 L1155.8,509.0 L1158.2,510.8 L1160.6,512.6 L1163.0,514.4 L1165.3,516.2 L1167.7,518.1 L1170.0,520.0 L1172.4,521.9 L1174.7,523.8 L1177.0,525.7 L1179.3,527.7 L1181.5,529.7 L1183.8,531.7 L1186.0,533.7 L1188.2,535.7 L1190.4,537.8 L1192.6,539.9 L1194.7,542.0 L1196.8,544.1 L1198.9,546.2 L1201.0,548.4 L1203.1,550.6 L1205.1,552.8 L1207.2,555.0 L1209.2,557.2 L1211.2,559.5 L1213.1,561.8 L1215.1,564.1 L1217.0,566.4 L1218.9,568.7 L1220.7,571.1 L1222.5,573.5 L1224.3,575.9 L1226.1,578.3 L1227.8,580.8 L1229.5,583.2 L1231.2,585.7 L1232.9,588.2 L1234.5,590.8 L1236.1,593.3 L1237.7,595.8 L1239.3,598.4 L1240.9,600.9 L1242.5,603.5 L1244.1,606.0 L1245.6,608.6 L1247.2,611.2 L1248.7,613.8 L1250.2,616.4 L1251.7,619.0 L1253.3,621.6 L1254.8,624.2 L1256.3,626.8 L1257.8,629.4 L1259.3,632.0 L1260.8,634.5 L1262.3,637.1 L1263.9,639.7 L1265.4,642.3 L1266.9,644.9 L1268.5,647.5 L1270.0,650.0 L1271.6,652.6 L1273.2,655.2 L1274.7,657.7 L1276.3,660.3 L1277.9,662.9 L1279.4,665.4 L1281.0,668.0" fill="none" stroke="#1c1c1c" stroke-width="2.0" stroke-linecap="butt" stroke-linejoin="round" />
<path d="M455.0,242.0 L455.9,244.9 L456.7,247.8 L457.6,250.6 L458.4,253.5 L459.3,256.4 L460.1,259.3 L461.0,262.1 L461.9,265.0 L462.8,267.9 L463.7,270.8 L464.6,273.6 L465.5,276.5 L466.5,279.3 L467.4,282.2 L468.5,285.0 L469.5,287.8 L470.6,290.6 L471.8,293.3 L473.0,296.1 L474.3,298.8 L475.7,301.4 L477.1,304.0 L478.6,306.6 L480.3,309.1 L482.0,311.5 L483.9,313.8 L485.9,316.0 L487.9,318.2 L490.1,320.2 L492.4,322.1 L494.7,324.0 L497.1,325.8 L499.6,327.4 L502.1,329.1 L504.7,330.6 L507.3,332.0 L509.9,333.4 L512.6,334.7 L515.4,335.9 L518.1,337.1 L520.9,338.2 L523.7,339.3 L526.5,340.4 L529.3,341.4 L532.2,342.5 L535.0,343.5 L537.8,344.5 L540.6,345.5 L543.5,346.5 L546.3,347.5 L549.1,348.5 L552.0,349.5 L554.8,350.4 L557.7,351.4 L560.5,352.3 L563.4,353.3 L566.2,354.2 L569.1,355.1 L571.9,356.0 L574.8,356.9 L577.7,357.8 L580.6,358.6 L583.5,359.5 L586.4,360.2 L589.3,361.0 L592.2,361.7 L595.1,362.4 L598.0,363.0 L601.0,363.7 L603.9,364.3 L606.8,364.9 L609.8,365.5 L612.7,366.1 L615.7,366.6 L618.6,367.2 L621.6,367.7 L624.6,368.2 L627.5,368.7 L630.5,369.2 L633.4,369.7 L636.4,370.1 L639.4,370.6 L642.4,371.0 L645.3,371.5 L648.3,371.9 L651.3,372.3 L654.2,372.8 L657.2,373.2 L660.2,373.6 L663.2,374.0 L666.1,374.4 L669.1,374.8 L672.1,375.2 L675.1,375.6 L678.0,376.1 L681.0,376.5 L684.0,376.9 L687.0,377.2 L689.9,377.6 L692.9,378.0 L695.9,378.4 L698.9,378.8 L701.9,379.2 L704.8,379.6 L707.8,380.0 L710.8,380.3 L713.8,380.7 L716.8,381.1 L719.7,381.5 L722.7,381.9 L725.7,382.2 L728.7,382.6 L731.7,383.0 L734.6,383.3 L737.6,383.7 L740.6,384.1 L743.6,384.4 L746.6,384.8 L749.6,385.1 L752.5,385.5 L755.5,385.8 L758.5,386.1 L761.5,386.5 L764.5,386.8 L767.5,387.1 L770.4,387.5 L773.4,387.8 L776.4,388.1 L779.4,388.4 L782.4,388.7 L785.4,389.1 L788.4,389.4 L791.3,389.7 L794.3,390.0 L797.3,390.3 L800.3,390.6 L803.3,390.9 L806.3,391.3 L809.3,391.6 L812.3,391.9 L815.2,392.2 L818.2,392.5 L821.2,392.9 L824.2,393.2 L827.2,393.5 L830.2,393.9 L833.2,394.2 L836.1,394.6 L839.1,394.9 L842.1,395.3 L845.1,395.6 L848.1,396.0 L851.0,396.4 L854.0,396.7 L857.0,397.1 L860.0,397.5 L863.0,397.9 L865.9,398.3 L868.9,398.6 L871.9,399.0 L874.9,399.4 L877.8,399.9 L880.8,400.3 L883.8,400.7 L886.8,401.1 L889.7,401.6 L892.7,402.0 L895.7,402.4 L898.7,402.9 L901.6,403.4 L904.6,403.8 L907.6,404.3 L910.5,404.8 L913.5,405.3 L916.4,405.8 L919.4,406.3 L922.4,406.8 L925.3,407.3 L928.3,407.9 L931.2,408.5 L934.1,409.1 L937.1,409.8 L940.0,410.5 L942.9,411.2 L945.8,412.0 L948.7,412.8 L951.5,413.7 L954.4,414.6 L957.3,415.5 L960.1,416.5 L962.9,417.6 L965.7,418.6 L968.5,419.7 L971.3,420.8 L974.1,422.0 L976.8,423.1 L979.6,424.3 L982.4,425.5 L985.1,426.7 L987.9,427.9 L990.6,429.1 L993.3,430.4 L996.1,431.6 L998.8,432.9 L1001.5,434.2 L1004.2,435.4 L1006.9,436.7 L1009.6,438.1 L1012.3,439.4 L1015.0,440.7 L1017.7,442.1 L1020.4,443.4 L1023.1,444.8 L1025.7,446.2 L1028.4,447.6 L1031.0,449.0 L1033.7,450.4 L1036.3,451.9 L1038.9,453.3 L1041.5,454.8 L1044.2,456.3 L1046.8,457.8 L1049.4,459.3 L1051.9,460.8 L1054.5,462.4 L1057.1,463.9 L1059.7,465.4 L1062.2,467.0 L1064.8,468.6 L1067.4,470.1 L1069.9,471.7 L1072.5,473.3 L1075.0,474.8 L1077.6,476.4 L1080.2,478.0 L1082.7,479.5 L1085.3,481.1 L1087.9,482.6 L1090.5,484.2 L1093.0,485.7 L1095.6,487.3 L1098.2,488.8 L1100.7,490.4 L1103.3,492.0 L1105.8,493.6 L1108.4,495.2 L1110.9,496.8 L1113.4,498.5 L1115.8,500.2 L1118.3,502.0 L1120.7,503.8 L1123.1,505.6 L1125.4,507.4 L1127.8,509.3 L1130.1,511.2 L1132.3,513.2 L1134.6,515.2 L1136.9,517.2 L1139.1,519.2 L1141.3,521.2 L1143.5,523.3 L1145.6,525.3 L1147.8,527.4 L1149.9,529.5 L1152.1,531.7 L1154.2,533.8 L1156.3,535.9 L1158.4,538.1 L1160.4,540.3 L1162.5,542.5 L1164.5,544.7 L1166.5,546.9 L1168.6,549.1 L1170.6,551.4 L1172.5,553.6 L1174.5,555.9 L1176.5,558.2 L1178.4,560.4 L1180.3,562.7 L1182.3,565.1 L1184.2,567.4 L1186.1,569.7 L1187.9,572.0 L1189.8,574.4 L1191.7,576.8 L1193.5,579.1 L1195.3,581.5 L1197.1,583.9 L1198.9,586.3 L1200.7,588.7 L1202.5,591.1 L1204.3,593.6 L1206.1,596.0 L1207.8,598.4 L1209.6,600.9 L1211.3,603.3 L1213.1,605.7 L1214.8,608.2 L1216.5,610.7 L1218.2,613.1 L1219.9,615.6 L1221.6,618.1 L1223.3,620.6 L1224.9,623.1 L1226.6,625.6 L1228.2,628.1 L1229.8,630.7 L1231.4,633.2 L1233.0,635.8 L1234.6,638.3 L1236.1,640.9 L1237.6,643.5 L1239.1,646.1 L1240.6,648.7 L1242.1,651.3 L1243.5,653.9 L1245.0,656.6 L1246.4,659.2 L1247.8,661.9 L1249.1,664.6 L1250.5,667.3 L1251.8,669.9 L1253.1,672.6 L1254.4,675.4 L1255.6,678.1 L1256.7,680.9 L1257.8,683.7 L1258.8,686.5 L1259.6,689.3 L1260.4,692.2 L1261.0,695.1 L1261.6,698.0 L1262.0,700.0" fill="none" stroke="#1c1c1c" stroke-width="2.0" stroke-linecap="butt" stroke-linejoin="round" />
<path d="M455.0,242.0 L455.6,244.9 L456.2,247.9 L456.7,250.8 L457.3,253.8 L457.9,256.7 L458.6,259.7 L459.2,262.6 L459.8,265.6 L460.5,268.5 L461.1,271.4 L461.8,274.3 L462.5,277.3 L463.2,280.2 L463.9,283.1 L464.7,286.0 L465.5,288.9 L466.4,291.8 L467.3,294.6 L468.3,297.4 L469.4,300.2 L470.5,303.0 L471.7,305.8 L472.9,308.5 L474.2,311.2 L475.6,313.8 L477.1,316.4 L478.7,319.0 L480.3,321.5 L482.0,323.9 L483.8,326.3 L485.7,328.7 L487.6,331.0 L489.6,333.2 L491.6,335.5 L493.7,337.6 L495.8,339.7 L498.0,341.7 L500.3,343.7 L502.6,345.5 L505.0,347.3 L507.5,349.0 L510.0,350.6 L512.6,352.1 L515.1,353.7 L517.8,355.2 L520.4,356.6 L523.0,358.1 L525.6,359.5 L528.3,360.9 L531.0,362.3 L533.7,363.6 L536.4,364.9 L539.1,366.1 L541.9,367.3 L544.6,368.5 L547.4,369.6 L550.2,370.6 L553.1,371.7 L555.9,372.6 L558.7,373.6 L561.6,374.5 L564.5,375.4 L567.3,376.3 L570.2,377.2 L573.1,378.0 L576.0,378.8 L578.9,379.6 L581.8,380.4 L584.7,381.1 L587.6,381.8 L590.6,382.5 L593.5,383.2 L596.4,383.8 L599.4,384.4 L602.3,385.0 L605.3,385.5 L608.2,386.0 L611.2,386.5 L614.2,387.0 L617.1,387.4 L620.1,387.8 L623.1,388.2 L626.1,388.6 L629.0,389.0 L632.0,389.4 L635.0,389.8 L638.0,390.1 L641.0,390.5 L644.0,390.8 L646.9,391.2 L649.9,391.5 L652.9,391.9 L655.9,392.2 L658.9,392.5 L661.9,392.9 L664.9,393.2 L667.8,393.5 L670.8,393.8 L673.8,394.1 L676.8,394.5 L679.8,394.8 L682.8,395.1 L685.8,395.4 L688.8,395.7 L691.8,396.0 L694.7,396.3 L697.7,396.6 L700.7,396.9 L703.7,397.2 L706.7,397.5 L709.7,397.8 L712.7,398.1 L715.7,398.4 L718.7,398.8 L721.6,399.1 L724.6,399.4 L727.6,399.7 L730.6,400.0 L733.6,400.3 L736.6,400.6 L739.6,401.0 L742.6,401.3 L745.6,401.6 L748.5,401.9 L751.5,402.2 L754.5,402.5 L757.5,402.9 L760.5,403.2 L763.5,403.5 L766.5,403.8 L769.5,404.1 L772.4,404.4 L775.4,404.7 L778.4,405.0 L781.4,405.4 L784.4,405.7 L787.4,406.0 L790.4,406.3 L793.4,406.6 L796.4,406.9 L799.3,407.3 L802.3,407.6 L805.3,407.9 L808.3,408.2 L811.3,408.6 L814.3,408.9 L817.3,409.3 L820.2,409.6 L823.2,410.0 L826.2,410.3 L829.2,410.7 L832.2,411.0 L835.2,411.4 L838.1,411.8 L841.1,412.2 L844.1,412.6 L847.1,413.0 L850.1,413.4 L853.0,413.8 L856.0,414.2 L859.0,414.7 L862.0,415.1 L864.9,415.6 L867.9,416.0 L870.9,416.5 L873.8,417.0 L876.8,417.4 L879.8,417.9 L882.7,418.5 L885.7,419.0 L888.6,419.5 L891.6,420.1 L894.5,420.6 L897.5,421.2 L900.4,421.8 L903.4,422.4 L906.3,423.0 L909.3,423.6 L912.2,424.3 L915.1,424.9 L918.0,425.6 L921.0,426.4 L923.9,427.1 L926.8,427.9 L929.7,428.7 L932.6,429.5 L935.4,430.3 L938.3,431.2 L941.2,432.1 L944.0,433.0 L946.9,433.9 L949.7,434.9 L952.6,435.9 L955.4,436.9 L958.3,437.9 L961.1,438.9 L963.9,440.0 L966.7,441.0 L969.5,442.1 L972.3,443.2 L975.1,444.4 L977.8,445.5 L980.6,446.7 L983.4,447.9 L986.1,449.1 L988.8,450.3 L991.6,451.6 L994.3,452.9 L997.0,454.2 L999.7,455.5 L1002.4,456.9 L1005.1,458.2 L1007.7,459.6 L1010.4,461.0 L1013.0,462.4 L1015.7,463.9 L1018.3,465.3 L1020.9,466.8 L1023.5,468.3 L1026.1,469.8 L1028.7,471.3 L1031.3,472.9 L1033.9,474.4 L1036.4,476.0 L1039.0,477.6 L1041.5,479.2 L1044.0,480.8 L1046.5,482.5 L1049.0,484.1 L1051.5,485.8 L1054.0,487.5 L1056.5,489.2 L1059.0,490.9 L1061.4,492.6 L1063.9,494.4 L1066.3,496.1 L1068.8,497.9 L1071.2,499.7 L1073.6,501.4 L1076.0,503.3 L1078.4,505.1 L1080.8,506.9 L1083.1,508.7 L1085.5,510.6 L1087.9,512.5 L1090.2,514.4 L1092.5,516.3 L1094.8,518.2 L1097.1,520.1 L1099.4,522.0 L1101.7,524.0 L1104.0,525.9 L1106.3,527.9 L1108.5,529.9 L1110.8,531.9 L1113.0,533.9 L1115.3,535.8 L1117.5,537.8 L1119.8,539.8 L1122.0,541.8 L1124.3,543.8 L1126.5,545.9 L1128.7,547.9 L1131.0,549.9 L1133.2,551.9 L1135.4,553.9 L1137.6,556.0 L1139.8,558.0 L1142.0,560.0 L1144.2,562.1 L1146.4,564.1 L1148.6,566.2 L1150.8,568.3 L1153.0,570.3 L1155.2,572.4 L1157.3,574.5 L1159.5,576.6 L1161.7,578.6 L1163.8,580.7 L1166.0,582.8 L1168.1,584.9 L1170.3,587.0 L1172.4,589.2 L1174.5,591.3 L1176.7,593.4 L1178.8,595.5 L1180.9,597.7 L1183.0,599.8 L1185.1,601.9 L1187.2,604.1 L1189.3,606.2 L1191.4,608.4 L1193.5,610.6 L1195.6,612.7 L1197.6,614.9 L1199.7,617.1 L1201.8,619.3 L1203.8,621.4 L1205.9,623.6 L1207.9,625.8 L1210.0,628.0 L1212.0,630.2 L1214.1,632.5 L1216.1,634.7 L1218.1,636.9 L1220.1,639.2 L1222.1,641.4 L1224.0,643.7 L1226.0,646.0 L1227.9,648.3 L1229.8,650.6 L1231.7,653.0 L1233.5,655.3 L1235.4,657.7 L1237.2,660.1 L1238.9,662.5 L1240.7,665.0 L1242.4,667.4 L1244.1,669.9 L1245.8,672.4 L1247.5,674.9 L1249.1,677.4 L1250.7,679.9 L1252.3,682.5 L1253.8,685.1 L1255.3,687.7 L1256.8,690.3 L1258.3,692.9 L1259.7,695.6 L1261.1,698.2 L1262.0,700.0" fill="none" stroke="#1c1c1c" stroke-width="2.0" stroke-linecap="butt" stroke-linejoin="round" />
<path d="M455.0,242.0 L455.1,245.0 L455.2,248.0 L455.3,251.0 L455.4,254.0 L455.4,257.1 L455.5,260.1 L455.5,263.1 L455.5,266.1 L455.6,269.1 L455.6,272.1 L455.6,275.1 L455.6,278.1 L455.6,281.2 L455.6,284.2 L455.6,287.2 L455.7,290.2 L455.7,293.2 L455.7,296.2 L455.7,299.2 L455.7,302.2 L455.8,305.3 L455.8,308.3 L455.8,311.3 L455.9,314.3 L455.9,317.3 L456.0,320.3 L456.1,323.3 L456.2,326.3 L456.3,329.3 L456.4,332.4 L456.5,335.4 L456.7,338.4 L456.8,341.4 L457.0,344.4 L457.2,347.4 L457.3,350.4 L457.5,353.4 L457.7,356.4 L457.8,359.4 L458.0,362.4 L458.2,365.4 L458.3,368.4 L458.4,371.5 L458.6,374.5 L458.7,377.5 L458.8,380.5 L459.0,383.5 L459.1,386.5 L459.3,389.5 L459.5,392.5 L459.7,395.5 L459.9,398.5 L460.2,401.5 L460.5,404.5 L460.8,407.5 L461.1,410.5 L461.4,413.5 L461.8,416.5 L462.2,419.5 L462.6,422.5 L463.0,425.4 L463.6,428.4 L464.2,431.4 L464.9,434.3 L465.7,437.2 L466.6,440.1 L467.6,442.9 L468.7,445.7 L469.9,448.4 L471.3,451.1 L472.7,453.8 L474.2,456.4 L475.8,459.0 L477.4,461.5 L479.3,463.8 L481.4,465.9 L483.7,467.7 L486.3,469.2 L489.0,470.4 L491.8,471.5 L494.7,472.4 L497.6,473.2 L500.5,473.9 L503.5,474.6 L506.4,475.2 L509.4,475.8 L512.3,476.3 L515.3,476.8 L518.3,477.3 L521.2,477.7 L524.2,478.2 L527.2,478.6 L530.2,479.0 L533.2,479.4 L536.2,479.8 L539.1,480.3 L542.1,480.7 L545.1,481.1 L548.1,481.6 L551.1,482.0 L554.0,482.5 L557.0,482.9 L560.0,483.4 L563.0,483.8 L565.9,484.2 L568.9,484.7 L571.9,485.1 L574.9,485.6 L577.9,486.0 L580.8,486.5 L583.8,486.9 L586.8,487.4 L589.8,487.8 L592.8,488.2 L595.7,488.7 L598.7,489.1 L601.7,489.6 L604.7,490.0 L607.7,490.5 L610.6,490.9 L613.6,491.3 L616.6,491.8 L619.6,492.2 L622.6,492.7 L625.5,493.1 L628.5,493.6 L631.5,494.0" fill="none" stroke="#1c1c1c" stroke-width="2.0" stroke-linecap="butt" stroke-linejoin="round" />
<path d="M571.0,485.0 L574.0,485.5 L576.9,485.9 L579.9,486.4 L582.9,486.8 L585.8,487.3 L588.8,487.8 L591.8,488.2 L594.8,488.7 L597.7,489.1 L600.7,489.6 L603.7,490.0 L606.6,490.5 L609.6,490.9 L612.6,491.4 L615.5,491.8 L618.5,492.2 L621.5,492.6 L624.5,493.0 L627.5,493.4 L630.4,493.8 L633.4,494.2 L636.4,494.5 L639.4,494.9 L642.4,495.2 L645.4,495.5 L648.3,495.9 L651.3,496.2 L654.3,496.5 L657.3,496.8 L660.3,497.0 L663.3,497.3 L666.3,497.6 L669.3,497.9 L672.3,498.2 L675.3,498.5 L678.2,498.8 L681.2,499.1 L684.2,499.4 L687.2,499.7 L690.2,500.0 L693.2,500.4 L696.2,500.7 L699.2,501.0 L702.1,501.4 L705.1,501.7 L708.1,502.1 L711.1,502.4 L714.1,502.8 L717.1,503.1 L720.0,503.5 L723.0,503.9 L726.0,504.2 L729.0,504.6 L732.0,505.0 L734.9,505.4 L737.9,505.8 L740.9,506.1 L743.9,506.5 L746.9,506.9 L749.8,507.3 L752.8,507.7 L755.8,508.2 L758.8,508.6 L761.7,509.0 L764.7,509.4 L767.7,509.8 L770.7,510.3 L773.6,510.7 L776.6,511.1 L779.6,511.6 L782.5,512.0 L785.5,512.5 L788.5,512.9 L791.5,513.4 L794.4,513.8 L797.4,514.3 L800.4,514.8 L803.3,515.2 L806.3,515.7 L809.3,516.2 L812.2,516.7 L815.2,517.2 L818.1,517.8 L821.1,518.3 L824.0,518.9 L827.0,519.5 L829.9,520.2 L832.8,520.9 L835.7,521.6 L838.6,522.3 L841.5,523.1 L844.4,523.9 L847.3,524.7 L850.2,525.5 L853.1,526.3 L856.0,527.1 L858.9,528.0 L861.8,528.8 L864.7,529.6 L867.6,530.5 L870.4,531.3 L873.3,532.2 L876.2,533.0 L879.1,533.9 L882.0,534.7 L884.8,535.6 L887.7,536.4 L890.6,537.3 L893.5,538.1 L896.4,538.9 L899.3,539.8 L902.2,540.6 L905.0,541.4 L907.9,542.3 L910.8,543.1 L913.7,543.9 L916.6,544.7 L919.5,545.5 L922.4,546.4 L925.3,547.2 L928.2,548.0 L931.1,548.8 L933.9,549.6 L936.8,550.4 L939.7,551.3 L942.6,552.1 L945.5,552.9 L948.4,553.7 L951.3,554.5 L954.2,555.4 L957.1,556.2 L960.0,557.0 L962.9,557.8 L965.7,558.6 L968.6,559.5 L971.5,560.3 L974.4,561.1 L977.3,561.9 L980.2,562.8 L983.1,563.6 L986.0,564.4 L988.9,565.3 L991.7,566.1 L994.6,566.9 L997.5,567.8 L1000.4,568.6 L1003.3,569.4 L1006.2,570.3 L1009.1,571.1 L1011.9,571.9 L1014.8,572.8 L1017.7,573.6 L1020.6,574.4 L1023.5,575.3 L1026.4,576.2 L1029.2,577.0 L1032.1,577.9 L1035.0,578.8 L1037.8,579.8 L1040.7,580.7 L1043.5,581.7 L1046.3,582.7 L1049.2,583.7 L1052.0,584.8 L1054.8,585.8 L1057.6,586.9 L1060.4,588.0 L1063.2,589.1 L1065.9,590.3 L1068.7,591.4 L1071.5,592.5 L1074.3,593.7 L1077.1,594.8 L1079.8,596.0 L1082.6,597.1 L1085.4,598.2 L1088.2,599.4 L1091.0,600.5 L1093.8,601.6 L1096.6,602.7 L1099.4,603.8 L1102.2,604.9 L1104.9,606.0 L1107.7,607.1 L1110.5,608.2 L1113.3,609.3 L1116.1,610.5 L1118.9,611.6 L1121.7,612.7 L1124.5,613.9 L1127.2,615.0 L1130.0,616.2 L1132.8,617.3 L1135.5,618.5 L1138.3,619.7 L1141.1,620.9 L1143.8,622.1 L1146.6,623.3 L1149.3,624.5 L1152.0,625.7 L1154.8,627.0 L1157.5,628.2 L1160.3,629.5 L1163.0,630.7 L1165.7,632.0 L1168.4,633.2 L1171.2,634.5 L1173.9,635.8 L1176.6,637.1 L1179.3,638.4 L1182.0,639.7 L1184.7,641.0 L1187.4,642.3 L1190.1,643.6 L1192.8,644.9 L1195.5,646.3 L1198.2,647.6 L1200.9,649.0 L1203.6,650.3 L1206.2,651.7 L1208.9,653.0 L1211.6,654.4 L1214.2,655.8 L1216.9,657.2 L1219.5,658.6 L1222.2,660.1 L1224.8,661.6 L1227.4,663.1 L1230.0,664.6 L1232.6,666.1 L1235.1,667.7 L1237.7,669.3 L1240.2,670.9 L1242.7,672.6 L1245.2,674.3 L1247.6,676.0 L1249.9,677.8 L1252.1,679.7 L1254.1,681.8 L1256.0,684.0 L1257.5,686.3 L1258.8,688.9 L1259.9,691.5 L1260.7,694.3 L1261.3,697.1 L1261.8,700.0 L1262.0,701.0" fill="none" stroke="#1c1c1c" stroke-width="2.0" stroke-linecap="butt" stroke-linejoin="round" />
<path d="M571.0,485.0 L574.0,485.4 L577.0,485.9 L579.9,486.3 L582.9,486.7 L585.9,487.2 L588.9,487.6 L591.8,488.0 L594.8,488.5 L597.8,488.9 L600.8,489.3 L603.7,489.8 L606.7,490.2 L609.7,490.6 L612.7,491.1 L615.6,491.5 L618.6,492.0 L621.6,492.5 L624.6,492.9 L627.5,493.4 L630.5,493.9 L633.5,494.3 L636.4,494.8 L639.4,495.3 L642.4,495.8 L645.3,496.3 L648.3,496.8 L651.3,497.3 L654.2,497.9 L657.2,498.4 L660.1,498.9 L663.1,499.4 L666.1,499.9 L669.0,500.5 L672.0,501.0 L674.9,501.5 L677.9,502.1 L680.9,502.6 L683.8,503.2 L686.8,503.7 L689.7,504.3 L692.7,504.8 L695.6,505.4 L698.6,506.0 L701.5,506.5 L704.5,507.1 L707.4,507.7 L710.4,508.3 L713.3,508.9 L716.3,509.5 L719.2,510.0 L722.2,510.6 L725.1,511.2 L728.1,511.8 L731.0,512.4 L734.0,513.0 L736.9,513.6 L739.9,514.2 L742.8,514.8 L745.8,515.4 L748.7,516.0 L751.7,516.6 L754.6,517.2 L757.6,517.8 L760.5,518.4 L763.5,519.0 L766.4,519.6 L769.4,520.2 L772.3,520.8 L775.2,521.4 L778.2,522.0 L781.1,522.6 L784.1,523.2 L787.0,523.8 L790.0,524.4 L792.9,525.0 L795.9,525.6 L798.8,526.2 L801.8,526.8 L804.7,527.4 L807.7,527.9 L810.6,528.5 L813.6,529.0 L816.6,529.6 L819.5,530.1 L822.5,530.6 L825.4,531.1 L828.4,531.6 L831.4,532.1 L834.3,532.6 L837.3,533.1 L840.3,533.6 L843.2,534.2 L846.2,534.8 L849.1,535.3 L852.1,535.9 L855.0,536.5 L858.0,537.1 L860.9,537.7 L863.9,538.4 L866.8,539.0 L869.7,539.6 L872.7,540.2 L875.6,540.8 L878.6,541.4 L881.5,542.1 L884.5,542.7 L887.4,543.3 L890.3,543.9 L893.3,544.6 L896.2,545.2 L899.2,545.8 L902.1,546.5 L905.0,547.1 L908.0,547.7 L910.9,548.4 L913.9,549.0 L916.8,549.7 L919.7,550.3 L922.7,551.0 L925.6,551.6 L928.5,552.3 L931.5,553.0 L934.4,553.7 L937.3,554.4 L940.2,555.1 L943.1,555.8 L946.1,556.5 L949.0,557.3 L951.9,558.0 L954.8,558.7 L957.7,559.5 L960.6,560.2 L963.6,561.0 L966.5,561.8 L969.4,562.5 L972.3,563.3 L975.2,564.1 L978.1,564.8 L981.0,565.6 L983.9,566.4 L986.8,567.2 L989.7,568.1 L992.6,568.9 L995.5,569.7 L998.3,570.6 L1001.2,571.4 L1004.1,572.3 L1007.0,573.2 L1009.9,574.1 L1012.7,575.0 L1015.6,575.9 L1018.4,576.8 L1021.3,577.8 L1024.1,578.8 L1027.0,579.8 L1029.8,580.8 L1032.6,581.8 L1035.5,582.8 L1038.3,583.9 L1041.1,585.0 L1043.9,586.1 L1046.6,587.2 L1049.4,588.4 L1052.2,589.6 L1055.0,590.8 L1057.7,592.0 L1060.5,593.2 L1063.2,594.4 L1065.9,595.7 L1068.6,597.0 L1071.4,598.2 L1074.1,599.5 L1076.8,600.8 L1079.5,602.1 L1082.2,603.4 L1085.0,604.7 L1087.7,606.0 L1090.4,607.3 L1093.1,608.6 L1095.8,609.9 L1098.5,611.2 L1101.2,612.6 L1103.9,613.9 L1106.6,615.2 L1109.3,616.6 L1112.0,617.9 L1114.7,619.2 L1117.4,620.6 L1120.0,621.9 L1122.7,623.3 L1125.4,624.6 L1128.1,626.0 L1130.8,627.3 L1133.5,628.6 L1136.2,630.0 L1138.9,631.3 L1141.6,632.7 L1144.3,634.0 L1146.9,635.4 L1149.6,636.7 L1152.3,638.1 L1155.0,639.4 L1157.7,640.8 L1160.4,642.1 L1163.1,643.5 L1165.8,644.8 L1168.5,646.2 L1171.1,647.5 L1173.8,648.9 L1176.5,650.2 L1179.2,651.5 L1181.9,652.9 L1184.6,654.2 L1187.3,655.6 L1190.0,656.9 L1192.7,658.2 L1195.4,659.6 L1198.1,660.9 L1200.8,662.3 L1203.4,663.6 L1206.1,664.9 L1208.8,666.3 L1211.5,667.7 L1214.2,669.0 L1216.9,670.4 L1219.6,671.7 L1222.2,673.1 L1224.9,674.5 L1227.6,675.8 L1230.3,677.2 L1232.9,678.6 L1235.6,680.0 L1238.2,681.4 L1240.9,682.9 L1243.5,684.4 L1246.0,685.9 L1248.5,687.6 L1250.8,689.4 L1253.1,691.3 L1255.3,693.3 L1257.3,695.4 L1259.3,697.6 L1261.2,700.0 L1263.0,702.3" fill="none" stroke="#1c1c1c" stroke-width="2.0" stroke-linecap="butt" stroke-linejoin="round" />
<path d="M457.0,573.0 L457.0,570.0 L457.1,567.0 L457.1,564.0 L457.2,561.0 L457.2,558.0 L457.3,555.0 L457.3,552.0 L457.3,549.0 L457.4,546.0 L457.4,543.0 L457.5,539.9 L457.5,536.9 L457.5,533.9 L457.6,530.9 L457.6,527.9 L457.7,524.9 L457.7,521.9 L457.7,518.9 L457.8,515.9 L457.8,512.9 L457.9,509.9 L457.9,506.9 L457.9,503.9 L458.0,500.9 L458.0,497.9 L458.1,494.9 L458.1,491.9 L458.1,488.9 L458.2,485.9 L458.2,482.9 L458.2,479.8 L458.3,476.8 L458.3,473.8 L458.3,470.8 L458.3,467.8 L458.4,464.8 L458.4,461.8 L458.4,458.8 L458.5,455.8 L458.5,452.8 L458.5,449.8 L458.6,446.8 L458.6,443.8 L458.6,440.8 L458.7,437.8 L458.7,434.8 L458.8,431.8 L458.8,428.8 L458.9,425.8 L458.9,422.8 L459.0,419.7 L459.1,416.7 L459.1,413.7 L459.2,410.7 L459.2,407.7 L459.3,404.7 L459.3,401.7 L459.4,398.7 L459.5,395.7 L459.6,392.7 L459.7,389.7 L459.9,386.7 L460.2,383.7 L460.6,380.7 L461.1,377.8 L461.8,374.9 L462.8,372.0 L464.2,369.4 L466.0,367.0 L467.9,364.7 L469.7,362.3 L471.5,359.8 L473.2,357.4 L474.9,354.9 L476.7,352.5 L478.6,350.2 L480.7,348.0 L483.0,346.1 L485.5,344.5 L488.3,343.3 L491.1,342.3 L494.0,341.5 L496.9,340.8 L499.8,340.1 L502.7,339.4 L505.7,338.9 L508.7,338.5 L511.7,338.1 L514.6,337.6 L517.6,337.0 L520.5,336.5 L523.5,335.9 L526.4,335.4 L529.4,334.8 L532.3,334.2 L535.3,333.7 L538.3,333.1 L541.2,332.6 L544.2,332.0 L547.1,331.5 L550.1,330.9 L553.0,330.3 L556.0,329.8 L558.9,329.3 L561.9,328.7 L564.8,328.2 L567.8,327.6 L570.8,327.1 L573.7,326.5 L576.7,326.0 L579.6,325.5 L582.6,324.9 L585.5,324.4 L588.5,323.9 L591.5,323.3 L594.4,322.8 L597.4,322.3 L600.3,321.8 L603.3,321.3 L606.3,320.8 L609.2,320.2 L612.2,319.7 L615.1,319.2 L618.1,318.7 L621.1,318.3 L624.0,317.8 L627.0,317.3 L630.0,316.8 L632.9,316.3 L635.9,315.9 L638.9,315.4 L641.8,314.9 L644.8,314.4 L647.8,314.0 L650.7,313.5 L653.7,313.0 L656.7,312.5 L659.6,312.0 L662.6,311.4 L665.5,310.9 L668.5,310.4 L671.5,309.8 L674.4,309.2 L677.4,308.6 L680.3,308.0 L683.2,307.4 L686.2,306.8 L689.1,306.2 L692.1,305.5 L695.0,304.9 L697.9,304.2 L700.9,303.6 L703.8,303.0 L706.7,302.3 L709.7,301.7 L712.6,301.1 L715.6,300.5 L718.5,299.9 L721.4,299.3 L724.4,298.7 L727.3,298.1 L730.3,297.5 L733.2,296.9 L736.2,296.3 L739.1,295.8 L742.1,295.2 L745.0,294.6 L748.0,294.0 L750.9,293.5 L753.9,292.9 L756.8,292.3 L759.8,291.7 L762.7,291.1 L765.7,290.6 L768.6,290.0 L771.6,289.4 L774.5,288.9 L777.5,288.3 L780.4,287.7 L783.4,287.2 L786.3,286.6 L789.3,286.1 L792.2,285.5 L795.2,284.9 L798.1,284.4 L801.1,283.8 L804.0,283.2 L807.0,282.6 L809.9,282.0 L812.9,281.4 L815.8,280.8 L818.8,280.1 L821.7,279.5 L824.6,278.8 L827.6,278.2 L830.5,277.5 L833.4,276.8 L836.3,276.2 L839.3,275.5 L842.2,274.8 L845.1,274.1 L848.1,273.4 L851.0,272.8 L853.9,272.1 L856.8,271.4 L859.8,270.7 L862.7,270.0 L865.6,269.3 L868.5,268.6 L871.5,268.0 L874.4,267.3 L877.3,266.6 L880.2,265.9 L883.2,265.3 L886.1,264.7 L889.1,264.1 L892.0,263.5 L895.0,262.9 L897.9,262.3 L900.9,261.7 L903.8,261.1 L906.7,260.4 L909.6,259.6 L912.5,258.9 L915.4,258.1 L918.3,257.3 L921.2,256.5 L924.1,255.7 L927.0,254.9 L929.9,254.1 L932.8,253.3 L935.7,252.4 L938.6,251.6 L941.5,250.8 L944.3,249.9 L947.2,249.0 L950.1,248.2 L953.0,247.3 L955.8,246.4 L958.7,245.4 L961.6,244.5 L964.4,243.5 L967.2,242.6 L970.1,241.5 L972.9,240.5 L975.7,239.4 L978.5,238.4 L981.3,237.2 L984.1,236.1 L986.9,235.0 L989.6,233.8 L992.4,232.6 L995.2,231.5 L997.9,230.3 L1000.7,229.1 L1003.5,228.0 L1006.2,226.8 L1009.0,225.6 L1011.8,224.5 L1014.6,223.4 L1017.4,222.3 L1020.2,221.2 L1023.0,220.1 L1025.8,219.0 L1028.6,217.9 L1031.4,216.8 L1034.2,215.7 L1037.0,214.6 L1039.8,213.6 L1042.6,212.5 L1045.4,211.3 L1048.2,210.2 L1050.9,209.1 L1053.7,207.9 L1056.5,206.8 L1059.2,205.6 L1062.0,204.3 L1064.7,203.1 L1067.4,201.8 L1070.1,200.5 L1072.8,199.1 L1075.5,197.7 L1078.1,196.3 L1080.8,194.9 L1083.4,193.5 L1086.0,192.0 L1088.6,190.5 L1091.3,189.0 L1093.9,187.5 L1096.4,186.0 L1099.0,184.4 L1101.6,182.9 L1104.2,181.4 L1106.8,179.8 L1109.4,178.3 L1112.0,176.8 L1114.6,175.3 L1117.1,173.7 L1119.7,172.2 L1122.3,170.7 L1124.9,169.1 L1127.5,167.6 L1130.0,166.0 L1132.6,164.5 L1135.2,162.9 L1137.7,161.3 L1140.3,159.8 L1142.9,158.2 L1145.4,156.6 L1148.0,155.1 L1150.5,153.5 L1153.1,151.9 L1155.7,150.4 L1158.3,148.8 L1160.8,147.3 L1163.4,145.7 L1166.0,144.2 L1168.6,142.7 L1171.2,141.2 L1173.8,139.7 L1176.4,138.2 L1179.0,136.6 L1181.6,135.1 L1184.2,133.6 L1186.8,132.1 L1189.4,130.6 L1192.0,129.1 L1194.6,127.6 L1197.2,126.1 L1199.8,124.6 L1202.4,123.1 L1205.0,121.6 L1207.6,120.1 L1210.2,118.6 L1212.8,117.1 L1215.4,115.6 L1218.0,114.1 L1220.6,112.5 L1223.2,111.0 L1225.7,109.4 L1228.3,107.9 L1230.9,106.3 L1233.5,104.8 L1236.0,103.2 L1238.6,101.7 L1241.2,100.1 L1243.8,98.6 L1246.4,97.1 L1249.0,95.6 L1251.6,94.2 L1254.3,92.8 L1257.0,91.4 L1259.7,90.1 L1262.4,88.8 L1265.1,87.6 L1267.9,86.4 L1270.6,85.2 L1273.4,84.0 L1276.2,82.8 L1278.0,82.0" fill="none" stroke="#0a0a0a" stroke-width="7.0" stroke-linecap="round" stroke-linejoin="round" stroke-dasharray="25 25" stroke-dashoffset="42.83" />
<path d="M500.0,342.0 L502.9,341.4 L505.9,340.8 L508.8,340.2 L511.8,339.6 L514.7,339.1 L517.7,338.6 L520.6,338.0 L523.6,337.5 L526.6,337.1 L529.5,336.6 L532.5,336.1 L535.5,335.6 L538.4,335.1 L541.4,334.6 L544.4,334.1 L547.3,333.6 L550.3,333.1 L553.2,332.6 L556.2,332.2 L559.2,331.6 L562.1,331.1 L565.1,330.6 L568.0,330.1 L571.0,329.6 L574.0,329.0 L576.9,328.5 L579.9,327.9 L582.8,327.3 L585.8,326.8 L588.7,326.2 L591.7,325.7 L594.6,325.2 L597.6,324.6 L600.5,324.1 L603.5,323.6 L606.5,323.2 L609.4,322.7 L612.4,322.3 L615.4,321.8 L618.4,321.4 L621.3,321.0 L624.3,320.7 L627.3,320.3 L630.3,319.9 L633.3,319.6 L636.2,319.2 L639.2,318.9 L642.2,318.5 L645.2,318.2 L648.2,317.8 L651.2,317.5 L654.1,317.2 L657.1,316.8 L660.1,316.4 L663.1,316.1 L666.1,315.7 L669.1,315.3 L672.0,314.9 L675.0,314.6 L678.0,314.2 L681.0,313.8 L683.9,313.4 L686.9,313.0 L689.9,312.6 L692.9,312.2 L695.9,311.8 L698.8,311.4 L701.8,311.0 L704.8,310.5 L707.7,310.1 L710.7,309.7 L713.7,309.2 L716.7,308.8 L719.6,308.4 L722.6,307.9 L725.6,307.5 L728.5,307.0 L731.5,306.5 L734.5,306.1 L737.4,305.6 L740.4,305.1 L743.4,304.7 L746.3,304.2 L749.3,303.7 L752.3,303.2 L755.2,302.7 L758.2,302.3 L761.2,301.8 L764.1,301.3 L767.1,300.8 L770.1,300.4 L773.0,299.9 L776.0,299.5 L779.0,299.0 L782.0,298.6 L784.9,298.1 L787.9,297.7 L790.9,297.2 L793.8,296.8 L796.8,296.3 L799.8,295.8 L802.7,295.3 L805.7,294.8 L808.6,294.2 L811.6,293.6 L814.5,293.0 L817.4,292.4 L820.4,291.7 L823.3,291.0 L826.2,290.3 L829.1,289.6 L832.0,288.9 L835.0,288.1 L837.9,287.4 L840.8,286.6 L843.7,285.8 L846.6,285.1 L849.5,284.3 L852.4,283.5 L855.3,282.7 L858.2,281.9 L861.1,281.1 L864.0,280.3 L866.9,279.5 L869.8,278.7 L872.7,278.0 L875.6,277.2 L878.5,276.4 L881.4,275.7 L884.3,274.9 L887.2,274.2 L890.1,273.5 L893.0,272.8 L896.0,272.1 L898.9,271.4 L901.8,270.7 L904.7,269.9 L907.6,269.2 L910.5,268.4 L913.4,267.6 L916.3,266.8 L919.2,266.0 L922.1,265.2 L925.0,264.4 L927.9,263.5 L930.8,262.7 L933.6,261.9 L936.5,261.1 L939.4,260.2 L942.3,259.4 L945.2,258.5 L948.1,257.7 L950.9,256.8 L953.8,255.9 L956.7,255.0 L959.5,254.1 L962.4,253.2 L965.2,252.2 L968.1,251.3 L970.9,250.3 L973.8,249.3 L976.6,248.3 L979.4,247.2 L982.2,246.2 L985.0,245.1 L987.8,244.0 L990.6,242.9 L993.4,241.8 L996.2,240.7 L999.0,239.6 L1001.8,238.5 L1004.6,237.4 L1007.4,236.3 L1010.1,235.1 L1012.9,234.0 L1015.7,232.9 L1018.5,231.8 L1021.3,230.7 L1024.1,229.7 L1026.9,228.6 L1029.7,227.5 L1032.5,226.4 L1035.3,225.3 L1038.1,224.2 L1040.9,223.1 L1043.7,222.0 L1046.5,220.9 L1049.3,219.7 L1052.0,218.6 L1054.8,217.4 L1057.6,216.2 L1060.3,215.0 L1063.1,213.8 L1065.8,212.5 L1068.5,211.2 L1071.2,209.9 L1073.9,208.6 L1076.6,207.3 L1079.3,205.9 L1081.9,204.5 L1084.6,203.1 L1087.2,201.7 L1089.9,200.2 L1092.5,198.8 L1095.1,197.3 L1097.7,195.9 L1100.4,194.4 L1103.0,192.9 L1105.6,191.4 L1108.2,189.9 L1110.8,188.4 L1113.4,186.9 L1116.0,185.4 L1118.6,183.9 L1121.2,182.4 L1123.8,180.9 L1126.3,179.3 L1128.9,177.8 L1131.5,176.2 L1134.1,174.7 L1136.6,173.1 L1139.2,171.6 L1141.8,170.0 L1144.3,168.4 L1146.9,166.8 L1149.4,165.3 L1152.0,163.7 L1154.6,162.1 L1157.1,160.6 L1159.7,159.0 L1162.3,157.5 L1164.8,155.9 L1167.4,154.4 L1170.0,152.8 L1172.6,151.3 L1175.2,149.8 L1177.7,148.2 L1180.3,146.7 L1182.9,145.2 L1185.5,143.7 L1188.1,142.1 L1190.7,140.6 L1193.3,139.1 L1195.8,137.5 L1198.4,136.0 L1201.0,134.4 L1203.6,132.9 L1206.1,131.3 L1208.7,129.7 L1211.2,128.1 L1213.7,126.5 L1216.2,124.8 L1218.7,123.2 L1221.2,121.5 L1223.7,119.8 L1226.2,118.1 L1228.6,116.3 L1231.1,114.6 L1233.5,112.8 L1236.0,111.1 L1238.4,109.4 L1240.8,107.6 L1243.3,105.9 L1245.8,104.2 L1248.3,102.5 L1250.8,100.9 L1253.3,99.3 L1255.9,97.7 L1258.5,96.2 L1261.1,94.7 L1263.7,93.3 L1266.4,91.9 L1269.1,90.5 L1271.7,89.2 L1274.4,87.8 L1277.1,86.5 L1278.0,86.0" fill="none" stroke="#0a0a0a" stroke-width="7.0" stroke-linecap="round" stroke-linejoin="round" stroke-dasharray="25 25" stroke-dashoffset="45.26" />
<path d="M1272.0,88.0 L1270.4,90.5 L1268.7,93.0 L1267.1,95.6 L1265.5,98.1 L1263.8,100.6 L1262.2,103.1 L1260.6,105.6 L1258.9,108.1 L1257.2,110.6 L1255.5,113.1 L1253.7,115.5 L1252.0,117.9 L1250.2,120.3 L1248.3,122.7 L1246.4,125.0 L1244.5,127.4 L1242.6,129.6 L1240.6,131.9 L1238.6,134.1 L1236.6,136.4 L1234.5,138.6 L1232.5,140.8 L1230.4,142.9 L1228.4,145.1 L1226.3,147.3 L1224.2,149.5 L1222.2,151.7 L1220.1,153.9 L1218.1,156.1 L1216.0,158.3 L1214.0,160.5 L1211.9,162.7 L1209.9,164.9 L1207.9,167.1 L1205.8,169.3 L1203.8,171.5 L1201.8,173.7 L1199.7,175.9 L1197.7,178.1 L1195.6,180.3 L1193.6,182.5 L1191.5,184.7 L1189.5,186.9 L1187.4,189.1 L1185.3,191.2 L1183.3,193.4 L1181.2,195.6 L1179.1,197.7 L1177.0,199.9 L1174.9,202.0 L1172.8,204.2 L1170.7,206.3 L1168.5,208.4 L1166.4,210.5 L1164.3,212.6 L1162.1,214.7 L1159.9,216.8 L1157.8,218.9 L1155.6,220.9 L1153.4,223.0 L1151.2,225.1 L1149.0,227.1 L1146.8,229.2 L1144.6,231.2 L1142.4,233.3 L1140.2,235.3 L1138.0,237.3 L1135.8,239.4 L1133.6,241.4 L1131.4,243.4 L1129.2,245.5 L1127.0,247.5 L1124.8,249.5 L1122.6,251.6 L1120.3,253.6 L1118.1,255.6 L1115.9,257.6 L1113.6,259.6 L1111.4,261.6 L1109.1,263.6 L1106.9,265.6 L1104.6,267.6 L1102.4,269.6 L1100.1,271.5 L1097.9,273.5 L1095.6,275.5 L1093.4,277.5 L1091.1,279.5 L1088.9,281.5 L1086.7,283.5 L1084.5,285.5 L1082.3,287.6 L1080.1,289.6 L1077.9,291.7 L1075.7,293.8 L1073.6,295.9 L1071.4,298.0 L1069.3,300.1 L1067.1,302.2 L1064.9,304.2 L1062.7,306.2 L1060.5,308.2 L1058.2,310.2 L1056.0,312.2 L1053.7,314.1 L1051.4,316.1 L1049.1,318.0 L1046.7,319.9 L1044.3,321.7 L1041.9,323.5 L1039.5,325.3 L1037.1,327.0 L1034.6,328.7 L1032.1,330.3 L1029.5,332.0 L1027.0,333.6 L1024.5,335.2 L1021.9,336.7 L1019.3,338.3 L1016.8,339.9 L1014.2,341.4 L1011.7,343.0 L1009.1,344.6 L1006.5,346.2 L1004.0,347.7 L1001.4,349.3 L998.9,350.9 L996.3,352.5 L993.8,354.1 L991.2,355.6 L988.6,357.1 L986.0,358.6 L983.4,360.1 L980.7,361.5 L978.1,362.9 L975.4,364.3 L972.7,365.6 L970.0,366.9 L967.3,368.3 L964.6,369.6 L961.9,370.9 L959.2,372.1 L956.5,373.4 L953.7,374.6 L951.0,375.9 L948.2,377.1 L945.5,378.2 L942.7,379.4 L939.9,380.5 L937.1,381.6 L934.3,382.7 L931.5,383.7 L928.7,384.7 L925.8,385.7 L923.0,386.6 L920.1,387.4 L917.2,388.3 L914.3,389.1 L911.4,389.8 L908.5,390.6 L905.6,391.3 L902.7,391.9 L899.7,392.6 L896.8,393.2 L893.9,393.9 L890.9,394.5 L888.0,395.1 L885.0,395.6 L882.1,396.2 L879.1,396.8 L876.2,397.3 L873.2,397.8 L870.2,398.3 L867.3,398.8 L864.3,399.2 L861.3,399.7 L858.4,400.1 L855.4,400.5 L852.4,400.8 L849.4,401.2 L846.5,401.6 L843.5,402.0 L840.5,402.3 L837.5,402.7 L834.5,403.1 L831.6,403.5 L828.6,403.9 L825.6,404.4 L822.6,404.8 L819.7,405.2 L816.7,405.7 L813.7,406.1 L810.8,406.6 L807.8,407.0 L804.8,407.5 L801.9,407.9 L798.9,408.4 L795.9,408.8 L792.9,409.3 L790.0,409.7 L787.0,410.2 L784.0,410.6 L781.1,411.0 L778.1,411.5 L775.1,411.9 L772.2,412.3 L769.2,412.8 L766.2,413.2 L763.2,413.6 L760.3,414.0 L757.3,414.4 L754.3,414.9 L751.3,415.3 L748.4,415.7 L745.4,416.1 L742.4,416.5 L739.4,416.9 L736.5,417.3 L733.5,417.7 L730.5,418.1 L727.5,418.5 L724.6,418.9 L721.6,419.2 L718.6,419.6 L715.6,420.0 L712.6,420.3 L709.6,420.7 L706.7,421.0 L703.7,421.4 L700.7,421.7 L697.7,422.1 L694.7,422.4 L691.8,422.8 L688.8,423.1 L685.8,423.5 L682.8,423.9 L679.8,424.2 L676.8,424.6 L673.9,424.9 L670.9,425.3 L667.9,425.6 L664.9,426.0 L661.9,426.4 L659.0,426.7 L656.0,427.1 L653.0,427.5 L650.0,427.8 L647.0,428.2 L644.1,428.6 L641.1,429.0 L638.1,429.4 L635.1,429.7 L632.1,430.1 L629.2,430.5 L626.2,430.9 L623.2,431.3 L620.2,431.7 L617.3,432.2 L614.3,432.7 L611.4,433.2 L608.4,433.8 L605.5,434.5 L602.6,435.2 L599.7,436.0 L596.8,436.7 L593.9,437.5 L590.9,438.2 L588.0,438.9 L585.1,439.5 L582.2,440.2 L579.2,440.9 L576.3,441.5 L573.4,442.2 L570.5,443.0 L567.6,443.8 L564.7,444.7 L561.9,445.7 L559.1,446.7 L556.3,447.8 L553.5,448.9 L550.7,450.1 L548.0,451.3 L545.3,452.6 L542.5,453.8 L539.8,455.1 L537.1,456.4 L534.4,457.7 L531.7,459.0 L529.0,460.3 L526.3,461.6 L523.6,463.0 L520.9,464.4 L518.3,465.7 L515.6,467.1 L513.0,468.5 L510.3,469.9 L507.6,471.3 L505.0,472.6 L502.3,474.1 L499.7,475.5 L497.1,477.1 L494.6,478.7 L492.2,480.5 L489.9,482.4 L487.7,484.4 L485.5,486.5 L483.5,488.7 L481.6,491.0 L479.7,493.3 L477.9,495.7 L476.2,498.2 L474.6,500.7 L473.1,503.3 L471.7,506.0 L470.4,508.6 L469.2,511.4 L468.0,514.2 L467.0,517.0 L466.1,519.8 L465.2,522.7 L464.4,525.6 L463.6,528.5 L462.9,531.4 L462.2,534.3 L461.6,537.3 L461.1,540.2 L460.6,543.2 L460.1,546.2 L459.7,549.1 L459.3,552.1 L459.0,555.1 L458.6,558.1 L458.3,561.1 L458.0,564.0 L457.7,567.0 L457.3,570.0 L457.0,573.0" fill="none" stroke="#0a0a0a" stroke-width="7.0" stroke-linecap="round" stroke-linejoin="round" stroke-dasharray="25 25" stroke-dashoffset="0.90" />
<path d="M1274.0,95.0 L1272.3,97.5 L1270.6,99.9 L1268.8,102.4 L1267.1,104.9 L1265.4,107.3 L1263.7,109.8 L1262.0,112.2 L1260.3,114.7 L1258.6,117.2 L1256.9,119.7 L1255.2,122.1 L1253.5,124.6 L1251.8,127.1 L1250.1,129.6 L1248.5,132.1 L1246.8,134.6 L1245.2,137.1 L1243.5,139.7 L1241.9,142.2 L1240.3,144.7 L1238.7,147.3 L1237.1,149.8 L1235.5,152.4 L1233.9,154.9 L1232.3,157.4 L1230.7,160.0 L1229.1,162.5 L1227.5,165.0 L1225.9,167.6 L1224.2,170.1 L1222.6,172.6 L1221.0,175.1 L1219.3,177.6 L1217.7,180.1 L1216.0,182.6 L1214.3,185.2 L1212.7,187.7 L1211.0,190.2 L1209.4,192.7 L1207.7,195.2 L1206.1,197.7 L1204.4,200.2 L1202.7,202.7 L1201.0,205.1 L1199.3,207.6 L1197.6,210.1 L1195.9,212.6 L1194.2,215.0 L1192.4,217.4 L1190.6,219.9 L1188.8,222.3 L1187.0,224.7 L1185.2,227.1 L1183.4,229.4 L1181.5,231.8 L1179.6,234.1 L1177.8,236.5 L1175.9,238.8 L1174.0,241.1 L1172.0,243.4 L1170.1,245.7 L1168.2,248.0 L1166.2,250.3 L1164.2,252.6 L1162.3,254.8 L1160.3,257.1 L1158.3,259.3 L1156.3,261.6 L1154.3,263.8 L1152.2,266.0 L1150.2,268.2 L1148.1,270.4 L1146.0,272.6 L1143.9,274.7 L1141.8,276.8 L1139.7,278.9 L1137.5,281.0 L1135.3,283.1 L1133.1,285.1 L1130.9,287.2 L1128.7,289.1 L1126.4,291.1 L1124.1,293.1 L1121.8,295.0 L1119.5,296.9 L1117.2,298.8 L1114.9,300.7 L1112.5,302.6 L1110.2,304.5 L1107.8,306.3 L1105.4,308.2 L1103.0,310.0 L1100.6,311.7 L1098.1,313.4 L1095.7,315.1 L1093.2,316.8 L1090.6,318.4 L1088.1,320.1 L1085.6,321.7 L1083.1,323.3 L1080.6,325.0 L1078.1,326.7 L1075.6,328.4 L1073.2,330.1 L1070.7,331.9 L1068.3,333.6 L1065.8,335.4 L1063.4,337.1 L1060.9,338.7 L1058.3,340.3 L1055.8,341.9 L1053.2,343.4 L1050.6,344.9 L1048.0,346.4 L1045.4,347.9 L1042.8,349.4 L1040.1,350.9 L1037.5,352.4 L1035.0,353.9 L1032.4,355.4 L1029.8,357.0 L1027.3,358.6 L1024.8,360.3 L1022.3,361.9 L1019.8,363.6 L1017.2,365.2 L1014.7,366.8 L1012.2,368.4 L1009.6,370.0 L1007.0,371.5 L1004.4,373.1 L1001.9,374.6 L999.3,376.1 L996.6,377.6 L994.0,379.0 L991.4,380.4 L988.7,381.8 L986.0,383.1 L983.3,384.4 L980.6,385.7 L977.8,386.9 L975.1,388.1 L972.3,389.3 L969.5,390.4 L966.7,391.5 L963.9,392.6 L961.1,393.7 L958.3,394.7 L955.5,395.7 L952.6,396.6 L949.8,397.6 L946.9,398.5 L944.0,399.4 L941.2,400.2 L938.3,401.0 L935.4,401.8 L932.5,402.5 L929.5,403.3 L926.6,404.0 L923.7,404.7 L920.8,405.4 L917.9,406.1 L914.9,406.7 L912.0,407.4 L909.1,408.0 L906.1,408.6 L903.2,409.3 L900.2,409.9 L897.3,410.5 L894.4,411.1 L891.4,411.7 L888.5,412.3 L885.5,412.9 L882.6,413.5 L879.6,414.0 L876.7,414.6 L873.7,415.1 L870.8,415.7 L867.8,416.2 L864.9,416.7 L861.9,417.2 L858.9,417.7 L856.0,418.1 L853.0,418.6 L850.0,419.0 L847.1,419.5 L844.1,419.9 L841.1,420.3 L838.1,420.7 L835.2,421.1 L832.2,421.5 L829.2,421.8 L826.2,422.2 L823.2,422.5 L820.2,422.9 L817.3,423.2 L814.3,423.6 L811.3,423.9 L808.3,424.3 L805.3,424.6 L802.3,425.0 L799.4,425.4 L796.4,425.8 L793.4,426.2 L790.4,426.6 L787.5,427.0 L784.5,427.4 L781.5,427.9 L778.6,428.3 L775.6,428.7 L772.6,429.2 L769.6,429.6 L766.7,430.1 L763.7,430.5 L760.7,431.0 L757.8,431.5 L754.8,431.9 L751.8,432.4 L748.9,432.9 L745.9,433.3 L742.9,433.8 L740.0,434.3 L737.0,434.7 L734.0,435.2 L731.1,435.7 L728.1,436.2 L725.1,436.7 L722.2,437.2 L719.2,437.7 L716.3,438.2 L713.3,438.6 L710.3,439.1 L707.4,439.6 L704.4,440.1 L701.4,440.5 L698.5,441.0 L695.5,441.4 L692.5,441.8 L689.5,442.3 L686.6,442.7 L683.6,443.2 L680.7,443.7 L677.7,444.3 L674.8,444.9 L671.8,445.5 L668.9,446.1 L665.9,446.8 L663.0,447.4 L660.1,447.9 L657.1,448.5 L654.1,449.0 L651.2,449.5 L648.2,449.9 L645.3,450.4 L642.3,450.9 L639.3,451.4 L636.4,451.9 L633.4,452.5 L630.5,453.1 L627.6,453.8 L624.6,454.5 L621.7,455.2 L618.8,456.0 L615.9,456.7 L613.0,457.5 L610.1,458.1 L607.1,458.8 L604.2,459.4 L601.3,460.0 L598.3,460.6 L595.4,461.3 L592.5,461.9 L589.5,462.6 L586.6,463.3 L583.7,464.2 L580.9,465.1 L578.1,466.2 L575.4,467.4 L572.6,468.6 L569.9,469.9 L567.2,471.2 L564.5,472.4 L561.7,473.4 L558.8,474.4 L555.9,475.2 L553.0,476.0 L550.1,476.8 L547.2,477.5 L544.3,478.3 L541.4,479.1 L538.5,479.9 L535.7,480.8 L532.9,481.9 L530.1,483.0 L527.4,484.4 L524.8,485.8 L522.2,487.3 L519.7,488.9 L517.2,490.6 L514.7,492.2 L512.2,493.8 L509.6,495.4 L507.1,497.0 L504.5,498.6 L501.9,500.2 L499.4,501.8 L496.9,503.4 L494.4,505.0 L491.9,506.7 L489.5,508.5 L487.1,510.3 L484.7,512.2 L482.5,514.1 L480.3,516.2 L478.3,518.4 L476.6,520.8 L475.0,523.3 L473.7,526.0 L472.5,528.8 L471.5,531.6 L470.7,534.4 L469.9,537.3 L469.3,540.3 L468.7,543.2 L468.2,546.2 L467.7,549.1 L467.3,552.1 L466.9,555.1 L466.5,558.1 L466.2,561.1 L465.9,564.0 L465.5,567.0 L465.2,570.0 L465.0,572.0" fill="none" stroke="#0a0a0a" stroke-width="7.0" stroke-linecap="round" stroke-linejoin="round" stroke-dasharray="25 25" stroke-dashoffset="0.83" />
<path d="M1277.0,110.0 L1276.1,112.9 L1275.2,115.7 L1274.2,118.6 L1273.3,121.4 L1272.5,124.3 L1271.5,127.2 L1270.6,130.0 L1269.7,132.9 L1268.8,135.8 L1267.8,138.6 L1266.9,141.4 L1265.9,144.3 L1264.8,147.1 L1263.8,149.9 L1262.7,152.7 L1261.6,155.5 L1260.5,158.3 L1259.3,161.0 L1258.0,163.8 L1256.8,166.5 L1255.4,169.2 L1254.1,171.9 L1252.7,174.5 L1251.3,177.2 L1249.9,179.8 L1248.4,182.5 L1246.9,185.1 L1245.5,187.7 L1243.9,190.3 L1242.4,192.9 L1240.8,195.4 L1239.3,198.0 L1237.7,200.5 L1236.1,203.1 L1234.4,205.6 L1232.8,208.1 L1231.1,210.6 L1229.4,213.1 L1227.7,215.5 L1226.0,218.0 L1224.2,220.4 L1222.4,222.8 L1220.6,225.2 L1218.7,227.6 L1216.8,229.9 L1214.9,232.2 L1213.0,234.5 L1211.1,236.8 L1209.1,239.1 L1207.1,241.4 L1205.2,243.6 L1203.2,245.9 L1201.1,248.1 L1199.1,250.3 L1197.1,252.5 L1195.1,254.7 L1193.0,256.9 L1191.0,259.2 L1189.0,261.4 L1186.9,263.6 L1184.9,265.8 L1182.8,267.9 L1180.7,270.1 L1178.6,272.3 L1176.5,274.4 L1174.4,276.5 L1172.3,278.6 L1170.1,280.7 L1167.9,282.8 L1165.7,284.8 L1163.5,286.8 L1161.2,288.8 L1159.0,290.8 L1156.7,292.8 L1154.4,294.7 L1152.0,296.6 L1149.7,298.4 L1147.3,300.2 L1144.9,302.0 L1142.5,303.8 L1140.1,305.6 L1137.6,307.4 L1135.2,309.1 L1132.8,310.9 L1130.3,312.7 L1127.9,314.4 L1125.5,316.2 L1123.0,317.9 L1120.6,319.7 L1118.1,321.4 L1115.7,323.1 L1113.2,324.8 L1110.7,326.5 L1108.2,328.2 L1105.7,329.9 L1103.2,331.5 L1100.7,333.1 L1098.1,334.7 L1095.5,336.2 L1092.9,337.7 L1090.3,339.2 L1087.7,340.6 L1085.0,342.1 L1082.4,343.5 L1079.8,344.9 L1077.1,346.4 L1074.5,347.8 L1071.9,349.3 L1069.3,350.8 L1066.6,352.2 L1064.0,353.7 L1061.4,355.2 L1058.8,356.6 L1056.2,358.1 L1053.5,359.6 L1050.9,361.0 L1048.3,362.5 L1045.7,364.0 L1043.1,365.5 L1040.4,366.9 L1037.8,368.4 L1035.2,369.9 L1032.6,371.3 L1030.0,372.8 L1027.3,374.3 L1024.7,375.7 L1022.1,377.2 L1019.5,378.7 L1016.9,380.2 L1014.3,381.7 L1011.6,383.1 L1009.0,384.5 L1006.3,385.8 L1003.6,387.1 L1000.8,388.3 L998.1,389.5 L995.3,390.6 L992.5,391.8 L989.7,392.8 L986.9,393.9 L984.1,394.9 L981.2,395.9 L978.4,396.9 L975.5,397.8 L972.7,398.7 L969.8,399.6 L966.9,400.4 L964.0,401.3 L961.1,402.1 L958.2,402.9 L955.3,403.6 L952.4,404.4 L949.5,405.1 L946.6,405.9 L943.7,406.6 L940.8,407.3 L937.9,408.0 L934.9,408.7 L932.0,409.4 L929.1,410.1 L926.2,410.8 L923.3,411.5 L920.3,412.2 L917.4,412.9 L914.5,413.6 L911.5,414.2 L908.6,414.9 L905.7,415.6 L902.8,416.2 L899.8,416.9 L896.9,417.5 L894.0,418.1 L891.0,418.8 L888.1,419.4 L885.1,420.0 L882.2,420.6 L879.3,421.2 L876.3,421.8 L873.4,422.3 L870.4,422.9 L867.5,423.5 L864.5,424.0 L861.6,424.6 L858.6,425.1 L855.7,425.7 L852.7,426.2 L849.7,426.8 L846.8,427.3 L843.8,427.9 L840.9,428.4 L837.9,429.0 L835.0,429.6 L832.0,430.1 L829.1,430.7 L826.1,431.2 L823.2,431.8 L820.2,432.3 L817.3,432.9 L814.3,433.4 L811.4,434.0 L808.4,434.5 L805.5,435.1 L802.5,435.6 L799.6,436.1 L796.6,436.7 L793.6,437.2 L790.7,437.8 L787.7,438.3 L784.8,438.9 L781.8,439.4 L778.9,439.9 L775.9,440.5 L773.0,441.0 L770.0,441.5 L767.0,442.1 L764.1,442.6 L761.1,443.1 L758.2,443.7 L755.2,444.2 L752.3,444.7 L749.3,445.3 L746.4,445.8 L743.4,446.4 L740.5,446.9 L737.5,447.5 L734.6,448.1 L731.6,448.7 L728.7,449.3 L725.7,449.9 L722.8,450.5 L719.8,451.1 L716.9,451.7 L714.0,452.3 L711.0,452.9 L708.1,453.4 L705.1,454.0 L702.2,454.5 L699.2,454.9 L696.2,455.3 L693.2,455.7 L690.2,456.1 L687.3,456.4 L684.3,456.8 L681.3,457.2 L678.4,457.7 L675.4,458.4 L672.5,459.1 L669.7,460.0 L666.8,461.0 L664.0,462.0 L661.2,462.9 L658.3,463.7 L655.4,464.5 L652.4,465.1 L649.5,465.6 L646.5,466.1 L643.6,466.6 L640.6,467.0 L637.6,467.5 L634.7,467.9 L631.7,468.4 L628.7,468.9 L625.8,469.5 L622.9,470.2 L620.0,471.1 L617.2,472.1 L614.4,473.2 L611.6,474.3 L608.8,475.4 L606.0,476.4 L603.2,477.3 L600.3,478.2 L597.4,478.9 L594.5,479.6 L591.5,480.3 L588.6,481.0 L585.7,481.7 L582.8,482.5 L580.0,483.5 L577.2,484.5 L574.4,485.7 L571.7,487.0 L569.0,488.3 L566.4,489.7 L563.7,491.2 L561.1,492.6 L558.5,494.1 L555.8,495.5 L553.1,496.8 L550.4,498.1 L547.7,499.3 L544.9,500.5 L542.1,501.6 L539.4,502.7 L536.6,503.9 L533.9,505.2 L531.2,506.5 L528.6,508.0 L526.1,509.6 L523.6,511.3 L521.3,513.2 L519.1,515.2 L516.9,517.3 L514.8,519.4 L512.8,521.6 L510.8,523.9 L508.9,526.2 L506.9,528.5 L505.0,530.8 L503.1,533.1 L501.2,535.4 L499.3,537.8 L497.5,540.1 L495.7,542.6 L494.0,545.0 L492.3,547.5 L490.8,550.1 L489.3,552.7 L487.9,555.4 L486.6,558.1 L485.4,560.8 L484.2,563.5 L483.0,566.3 L481.9,569.1 L480.8,571.9 L479.7,574.7 L478.6,577.5 L477.5,580.3 L476.4,583.1 L476.0,584.0" fill="none" stroke="#0a0a0a" stroke-width="7.0" stroke-linecap="round" stroke-linejoin="round" stroke-dasharray="25 25" stroke-dashoffset="38.79" />
<line x1="645.9" y1="47.2" x2="722.0" y2="68.0" stroke="#111" stroke-width="1.6"/>
<polygon points="724.2,55.4 717.4,79.9 752.8,75.8" fill="#0a0a0a"/>
<line x1="735.0" y1="171.7" x2="832.0" y2="184.5" stroke="#111" stroke-width="1.6"/>
<polygon points="830.5,174.5 829.0,196.3 861.8,186.7" fill="#0a0a0a"/>
<line x1="545.6" y1="650.4" x2="645.0" y2="624.0" stroke="#111" stroke-width="1.6"/>
<polygon points="637.0,619.0 643.0,634.0 670.0,612.3" fill="#0a0a0a"/>
<text x="189.5" y="64.5" font-size="43.00" textLength="53.6" lengthAdjust="spacingAndGlyphs" fill="#111">(a)</text>
<text x="313.2" y="61.2" font-size="44.16" textLength="129.1" lengthAdjust="spacingAndGlyphs" fill="#111" >LiCoO</text>
<text x="443.7" y="82.0" font-size="26.07" textLength="15.2" lengthAdjust="spacingAndGlyphs" fill="#111" >2</text>
<text x="472.8" y="61.0" font-size="43.61" textLength="159.7" lengthAdjust="spacingAndGlyphs" fill="#111" >vs. Li/Li</text>
<path d="M635.1,31.0 H647.7 M641.4,24.7 V37.3" stroke="#111" stroke-width="3.6" fill="none"/>
<text x="539.3" y="159.0" font-size="35.47" textLength="198.9" lengthAdjust="spacingAndGlyphs" fill="#111" >Output Cell</text>
<text x="580.6" y="200.7" font-size="34.36" textLength="130.5" lengthAdjust="spacingAndGlyphs" fill="#111" >Voltage</text>
<text x="235.8" y="423.7" font-size="43.97" textLength="140.5" lengthAdjust="spacingAndGlyphs" fill="#111" >Mr=6.4</text>
<text x="358.0" y="687.7" font-size="45.96" textLength="271.1" lengthAdjust="spacingAndGlyphs" fill="#111" >CoO Vs. Li/Li</text>
<path d="M631.7,656.8 H643.7 M637.7,650.8 V662.8" stroke="#111" stroke-width="3.6" fill="none"/>
<text x="101.9" y="735.0" font-size="42.50" fill="#111">0</text>
<text x="101.3" y="576.2" font-size="42.50" fill="#111">1</text>
<text x="101.9" y="417.5" font-size="42.50" fill="#111">2</text>
<text x="101.7" y="258.8" font-size="42.50" fill="#111">3</text>
<text x="100.4" y="100.0" font-size="42.50" fill="#111">4</text>
<text x="164.7" y="778.3" font-size="42.50" fill="#111">0</text>
<text x="369.7" y="778.3" font-size="42.50" fill="#111">0.5</text>
<text x="609.9" y="778.3" font-size="42.50" fill="#111">1</text>
<text x="815.2" y="778.3" font-size="42.50" fill="#111">1.5</text>
<text x="1056.8" y="778.3" font-size="42.50" fill="#111">2</text>
<text x="1261.8" y="778.3" font-size="42.50" fill="#111">2.5</text>
<text x="551.9" y="857.5" font-size="54.37" textLength="188.1" lengthAdjust="spacingAndGlyphs" fill="#111" >x in &quot;Li</text>
<text x="741.7" y="889.0" font-size="36.34" textLength="20.5" lengthAdjust="spacingAndGlyphs" fill="#111" >x</text>
<text x="762.6" y="858.5" font-size="57.86" textLength="121.0" lengthAdjust="spacingAndGlyphs" fill="#111" >CoO</text>
<text x="880.7" y="858.5" font-size="54.00" fill="#111">&quot;</text>
<text transform="translate(46.0,581.9) rotate(-90)" x="0" y="0" font-size="61.50" textLength="221.3" lengthAdjust="spacingAndGlyphs" fill="#111">Voltage</text>
<text transform="translate(46.0,325.6) rotate(-90)" x="0" y="0" font-size="62.00" textLength="194.7" lengthAdjust="spacingAndGlyphs" fill="#111">(Volts)</text>
<line x1="218.6" y1="1665.0" x2="218.6" y2="1655.0" stroke="#4a4a4a" stroke-width="1.8"/>
<line x1="218.6" y1="949.5" x2="218.6" y2="959.5" stroke="#4a4a4a" stroke-width="1.8"/>
<line x1="272.8" y1="1665.0" x2="272.8" y2="1655.0" stroke="#4a4a4a" stroke-width="1.8"/>
<line x1="272.8" y1="949.5" x2="272.8" y2="959.5" stroke="#4a4a4a" stroke-width="1.8"/>
<line x1="326.9" y1="1665.0" x2="326.9" y2="1655.0" stroke="#4a4a4a" stroke-width="1.8"/>
<line x1="326.9" y1="949.5" x2="326.9" y2="959.5" stroke="#4a4a4a" stroke-width="1.8"/>
<line x1="381.0" y1="1665.0" x2="381.0" y2="1645.0" stroke="#4a4a4a" stroke-width="1.8"/>
<line x1="381.0" y1="949.5" x2="381.0" y2="969.5" stroke="#4a4a4a" stroke-width="1.8"/>
<line x1="435.1" y1="1665.0" x2="435.1" y2="1655.0" stroke="#4a4a4a" stroke-width="1.8"/>
<line x1="435.1" y1="949.5" x2="435.1" y2="959.5" stroke="#4a4a4a" stroke-width="1.8"/>
<line x1="489.2" y1="1665.0" x2="489.2" y2="1655.0" stroke="#4a4a4a" stroke-width="1.8"/>
<line x1="489.2" y1="949.5" x2="489.2" y2="959.5" stroke="#4a4a4a" stroke-width="1.8"/>
<line x1="543.4" y1="1665.0" x2="543.4" y2="1655.0" stroke="#4a4a4a" stroke-width="1.8"/>
<line x1="543.4" y1="949.5" x2="543.4" y2="959.5" stroke="#4a4a4a" stroke-width="1.8"/>
<line x1="597.5" y1="1665.0" x2="597.5" y2="1645.0" stroke="#4a4a4a" stroke-width="1.8"/>
<line x1="597.5" y1="949.5" x2="597.5" y2="969.5" stroke="#4a4a4a" stroke-width="1.8"/>
<line x1="651.6" y1="1665.0" x2="651.6" y2="1655.0" stroke="#4a4a4a" stroke-width="1.8"/>
<line x1="651.6" y1="949.5" x2="651.6" y2="959.5" stroke="#4a4a4a" stroke-width="1.8"/>
<line x1="705.8" y1="1665.0" x2="705.8" y2="1655.0" stroke="#4a4a4a" stroke-width="1.8"/>
<line x1="705.8" y1="949.5" x2="705.8" y2="959.5" stroke="#4a4a4a" stroke-width="1.8"/>
<line x1="759.9" y1="1665.0" x2="759.9" y2="1655.0" stroke="#4a4a4a" stroke-width="1.8"/>
<line x1="759.9" y1="949.5" x2="759.9" y2="959.5" stroke="#4a4a4a" stroke-width="1.8"/>
<line x1="814.0" y1="1665.0" x2="814.0" y2="1645.0" stroke="#4a4a4a" stroke-width="1.8"/>
<line x1="814.0" y1="949.5" x2="814.0" y2="969.5" stroke="#4a4a4a" stroke-width="1.8"/>
<line x1="868.1" y1="1665.0" x2="868.1" y2="1655.0" stroke="#4a4a4a" stroke-width="1.8"/>
<line x1="868.1" y1="949.5" x2="868.1" y2="959.5" stroke="#4a4a4a" stroke-width="1.8"/>
<line x1="922.2" y1="1665.0" x2="922.2" y2="1655.0" stroke="#4a4a4a" stroke-width="1.8"/>
<line x1="922.2" y1="949.5" x2="922.2" y2="959.5" stroke="#4a4a4a" stroke-width="1.8"/>
<line x1="976.4" y1="1665.0" x2="976.4" y2="1655.0" stroke="#4a4a4a" stroke-width="1.8"/>
<line x1="976.4" y1="949.5" x2="976.4" y2="959.5" stroke="#4a4a4a" stroke-width="1.8"/>
<line x1="1030.5" y1="1665.0" x2="1030.5" y2="1645.0" stroke="#4a4a4a" stroke-width="1.8"/>
<line x1="1030.5" y1="949.5" x2="1030.5" y2="969.5" stroke="#4a4a4a" stroke-width="1.8"/>
<line x1="1084.6" y1="1665.0" x2="1084.6" y2="1655.0" stroke="#4a4a4a" stroke-width="1.8"/>
<line x1="1084.6" y1="949.5" x2="1084.6" y2="959.5" stroke="#4a4a4a" stroke-width="1.8"/>
<line x1="1138.8" y1="1665.0" x2="1138.8" y2="1655.0" stroke="#4a4a4a" stroke-width="1.8"/>
<line x1="1138.8" y1="949.5" x2="1138.8" y2="959.5" stroke="#4a4a4a" stroke-width="1.8"/>
<line x1="1192.9" y1="1665.0" x2="1192.9" y2="1655.0" stroke="#4a4a4a" stroke-width="1.8"/>
<line x1="1192.9" y1="949.5" x2="1192.9" y2="959.5" stroke="#4a4a4a" stroke-width="1.8"/>
<line x1="1247.0" y1="1665.0" x2="1247.0" y2="1645.0" stroke="#4a4a4a" stroke-width="1.8"/>
<line x1="1247.0" y1="949.5" x2="1247.0" y2="969.5" stroke="#4a4a4a" stroke-width="1.8"/>
<line x1="164.5" y1="1633.2" x2="174.5" y2="1633.2" stroke="#4a4a4a" stroke-width="1.6"/>
<line x1="1281.0" y1="1633.2" x2="1271.0" y2="1633.2" stroke="#4a4a4a" stroke-width="1.6"/>
<line x1="164.5" y1="1601.4" x2="174.5" y2="1601.4" stroke="#4a4a4a" stroke-width="1.6"/>
<line x1="1281.0" y1="1601.4" x2="1271.0" y2="1601.4" stroke="#4a4a4a" stroke-width="1.6"/>
<line x1="164.5" y1="1569.6" x2="174.5" y2="1569.6" stroke="#4a4a4a" stroke-width="1.6"/>
<line x1="1281.0" y1="1569.6" x2="1271.0" y2="1569.6" stroke="#4a4a4a" stroke-width="1.6"/>
<line x1="164.5" y1="1537.8" x2="174.5" y2="1537.8" stroke="#4a4a4a" stroke-width="1.6"/>
<line x1="1281.0" y1="1537.8" x2="1271.0" y2="1537.8" stroke="#4a4a4a" stroke-width="1.6"/>
<line x1="164.5" y1="1506.0" x2="184.5" y2="1506.0" stroke="#4a4a4a" stroke-width="1.6"/>
<line x1="1281.0" y1="1506.0" x2="1261.0" y2="1506.0" stroke="#4a4a4a" stroke-width="1.6"/>
<line x1="164.5" y1="1474.2" x2="174.5" y2="1474.2" stroke="#4a4a4a" stroke-width="1.6"/>
<line x1="1281.0" y1="1474.2" x2="1271.0" y2="1474.2" stroke="#4a4a4a" stroke-width="1.6"/>
<line x1="164.5" y1="1442.4" x2="174.5" y2="1442.4" stroke="#4a4a4a" stroke-width="1.6"/>
<line x1="1281.0" y1="1442.4" x2="1271.0" y2="1442.4" stroke="#4a4a4a" stroke-width="1.6"/>
<line x1="164.5" y1="1410.6" x2="174.5" y2="1410.6" stroke="#4a4a4a" stroke-width="1.6"/>
<line x1="1281.0" y1="1410.6" x2="1271.0" y2="1410.6" stroke="#4a4a4a" stroke-width="1.6"/>
<line x1="164.5" y1="1378.8" x2="174.5" y2="1378.8" stroke="#4a4a4a" stroke-width="1.6"/>
<line x1="1281.0" y1="1378.8" x2="1271.0" y2="1378.8" stroke="#4a4a4a" stroke-width="1.6"/>
<line x1="164.5" y1="1347.0" x2="184.5" y2="1347.0" stroke="#4a4a4a" stroke-width="1.6"/>
<line x1="1281.0" y1="1347.0" x2="1261.0" y2="1347.0" stroke="#4a4a4a" stroke-width="1.6"/>
<line x1="164.5" y1="1315.2" x2="174.5" y2="1315.2" stroke="#4a4a4a" stroke-width="1.6"/>
<line x1="1281.0" y1="1315.2" x2="1271.0" y2="1315.2" stroke="#4a4a4a" stroke-width="1.6"/>
<line x1="164.5" y1="1283.4" x2="174.5" y2="1283.4" stroke="#4a4a4a" stroke-width="1.6"/>
<line x1="1281.0" y1="1283.4" x2="1271.0" y2="1283.4" stroke="#4a4a4a" stroke-width="1.6"/>
<line x1="164.5" y1="1251.6" x2="174.5" y2="1251.6" stroke="#4a4a4a" stroke-width="1.6"/>
<line x1="1281.0" y1="1251.6" x2="1271.0" y2="1251.6" stroke="#4a4a4a" stroke-width="1.6"/>
<line x1="164.5" y1="1219.8" x2="174.5" y2="1219.8" stroke="#4a4a4a" stroke-width="1.6"/>
<line x1="1281.0" y1="1219.8" x2="1271.0" y2="1219.8" stroke="#4a4a4a" stroke-width="1.6"/>
<line x1="164.5" y1="1188.0" x2="184.5" y2="1188.0" stroke="#4a4a4a" stroke-width="1.6"/>
<line x1="1281.0" y1="1188.0" x2="1261.0" y2="1188.0" stroke="#4a4a4a" stroke-width="1.6"/>
<line x1="164.5" y1="1156.2" x2="174.5" y2="1156.2" stroke="#4a4a4a" stroke-width="1.6"/>
<line x1="1281.0" y1="1156.2" x2="1271.0" y2="1156.2" stroke="#4a4a4a" stroke-width="1.6"/>
<line x1="164.5" y1="1124.4" x2="174.5" y2="1124.4" stroke="#4a4a4a" stroke-width="1.6"/>
<line x1="1281.0" y1="1124.4" x2="1271.0" y2="1124.4" stroke="#4a4a4a" stroke-width="1.6"/>
<line x1="164.5" y1="1092.6" x2="174.5" y2="1092.6" stroke="#4a4a4a" stroke-width="1.6"/>
<line x1="1281.0" y1="1092.6" x2="1271.0" y2="1092.6" stroke="#4a4a4a" stroke-width="1.6"/>
<line x1="164.5" y1="1060.8" x2="174.5" y2="1060.8" stroke="#4a4a4a" stroke-width="1.6"/>
<line x1="1281.0" y1="1060.8" x2="1271.0" y2="1060.8" stroke="#4a4a4a" stroke-width="1.6"/>
<line x1="164.5" y1="1029.0" x2="184.5" y2="1029.0" stroke="#4a4a4a" stroke-width="1.6"/>
<line x1="1281.0" y1="1029.0" x2="1261.0" y2="1029.0" stroke="#4a4a4a" stroke-width="1.6"/>
<line x1="164.5" y1="997.2" x2="174.5" y2="997.2" stroke="#4a4a4a" stroke-width="1.6"/>
<line x1="1281.0" y1="997.2" x2="1271.0" y2="997.2" stroke="#4a4a4a" stroke-width="1.6"/>
<line x1="164.5" y1="965.4" x2="174.5" y2="965.4" stroke="#4a4a4a" stroke-width="1.6"/>
<line x1="1281.0" y1="965.4" x2="1271.0" y2="965.4" stroke="#4a4a4a" stroke-width="1.6"/>
<rect x="164.5" y="949.5" width="1116.5" height="715.5" fill="none" stroke="#4a4a4a" stroke-width="2.2"/>
<path d="M172.0,1470.0 L172.0,1467.0 L172.1,1464.0 L172.1,1461.0 L172.2,1458.0 L172.2,1455.0 L172.3,1452.0 L172.3,1449.0 L172.4,1446.0 L172.4,1443.0 L172.5,1440.0 L172.5,1437.0 L172.5,1434.0 L172.6,1431.0 L172.6,1428.0 L172.7,1425.0 L172.7,1422.0 L172.8,1419.0 L172.8,1415.9 L172.8,1412.9 L172.9,1409.9 L172.9,1406.9 L173.0,1403.9 L173.0,1400.9 L173.0,1397.9 L173.1,1394.9 L173.1,1391.9 L173.1,1388.9 L173.2,1385.9 L173.2,1382.9 L173.2,1379.9 L173.2,1376.9 L173.3,1373.9 L173.3,1370.9 L173.3,1367.9 L173.4,1364.9 L173.4,1361.9 L173.4,1358.9 L173.4,1355.9 L173.5,1352.9 L173.5,1349.9 L173.5,1346.9 L173.6,1343.9 L173.6,1340.9 L173.6,1337.9 L173.6,1334.9 L173.7,1331.9 L173.7,1328.9 L173.7,1325.9 L173.8,1322.9 L173.8,1319.9 L173.8,1316.9 L173.8,1313.8 L173.9,1310.8 L173.9,1307.8 L173.9,1304.8 L174.0,1301.8 L174.0,1298.8 L174.0,1295.8 L174.1,1292.8 L174.1,1289.8 L174.1,1286.8 L174.2,1283.8 L174.2,1280.8 L174.2,1277.8 L174.3,1274.8 L174.3,1271.8 L174.3,1268.8 L174.4,1265.8 L174.4,1262.8 L174.4,1259.8 L174.5,1256.8 L174.5,1253.8 L174.5,1250.8 L174.6,1247.8 L174.6,1244.8 L174.7,1241.8 L174.7,1238.8 L174.7,1235.8 L174.8,1232.8 L174.8,1229.8 L174.8,1226.8 L174.9,1223.8 L174.9,1220.8 L174.9,1217.8 L175.0,1214.8 L175.0,1211.8 L175.1,1208.7 L175.1,1205.7 L175.1,1202.7 L175.2,1199.7 L175.2,1196.7 L175.3,1193.7 L175.3,1190.7 L175.4,1187.7 L175.4,1184.7 L175.5,1181.7 L175.5,1178.7 L175.6,1175.7 L175.6,1172.7 L175.7,1169.7 L175.7,1166.7 L175.8,1163.7 L175.9,1160.7 L175.9,1157.7 L176.0,1154.7 L176.1,1151.7 L176.1,1148.7 L176.2,1145.7 L176.3,1142.7 L176.3,1139.7 L176.4,1136.7 L176.5,1133.7 L176.6,1130.7 L176.7,1127.7 L176.7,1124.7 L176.8,1121.7 L176.9,1118.7 L177.0,1115.7 L177.1,1112.7 L177.2,1109.7 L177.3,1106.7 L177.4,1103.7 L177.5,1100.7 L177.6,1097.7 L177.7,1094.7 L177.8,1091.7 L177.9,1088.7 L178.0,1085.7 L178.2,1082.7 L178.3,1079.7 L178.5,1076.7 L178.7,1073.7 L179.0,1070.7 L179.2,1067.7 L179.6,1064.7 L179.9,1061.7 L180.4,1058.8 L180.9,1055.8 L181.7,1053.0 L182.6,1050.2 L183.8,1047.6 L185.3,1045.3 L187.2,1043.4 L189.5,1042.1 L192.1,1041.2 L195.0,1040.8 L197.9,1040.4 L200.9,1040.2 L203.9,1040.1 L206.9,1039.9 L209.9,1039.8 L212.9,1039.8 L215.9,1039.7 L218.9,1039.6 L221.9,1039.6 L224.9,1039.6 L227.9,1039.5 L230.9,1039.5 L234.0,1039.5 L237.0,1039.5 L240.0,1039.5 L243.0,1039.5 L246.0,1039.5 L249.0,1039.5 L252.0,1039.5 L255.0,1039.5 L258.0,1039.5 L261.0,1039.5 L264.0,1039.5 L267.0,1039.5 L270.0,1039.5 L273.0,1039.5 L276.0,1039.5 L279.0,1039.5 L282.0,1039.5 L285.0,1039.5 L288.0,1039.5 L291.0,1039.5 L294.0,1039.5 L297.0,1039.5 L300.0,1039.5 L303.0,1039.5 L306.0,1039.5 L309.0,1039.5 L312.0,1039.5 L315.0,1039.5 L318.0,1039.5 L321.0,1039.5 L324.0,1039.5 L327.0,1039.5 L330.0,1039.5 L333.1,1039.5 L336.1,1039.5 L339.1,1039.5 L342.1,1039.5 L345.1,1039.5 L348.1,1039.5 L351.1,1039.5 L354.1,1039.5 L357.1,1039.5 L360.1,1039.5 L363.1,1039.5 L366.1,1039.5 L369.1,1039.5 L372.1,1039.5 L375.1,1039.5 L378.1,1039.5 L381.1,1039.5 L384.1,1039.5 L387.1,1039.5 L390.1,1039.5 L393.1,1039.5 L396.1,1039.5 L399.1,1039.5 L402.1,1039.5 L405.1,1039.5 L408.1,1039.5 L411.1,1039.5 L414.1,1039.5 L417.1,1039.5 L420.1,1039.5 L423.1,1039.5 L426.1,1039.5 L429.2,1039.5 L432.2,1039.5 L435.2,1039.5 L438.2,1039.5 L441.2,1039.5 L444.2,1039.5 L447.2,1039.4 L450.2,1039.4 L453.2,1039.4 L456.2,1039.4 L459.2,1039.4 L462.2,1039.4 L465.2,1039.4 L468.2,1039.4 L471.2,1039.3 L474.2,1039.3 L477.2,1039.3 L480.2,1039.3 L483.2,1039.3 L486.2,1039.3 L489.2,1039.2 L492.2,1039.2 L495.2,1039.2 L498.2,1039.2 L501.2,1039.1 L504.2,1039.1 L507.2,1039.1 L510.2,1039.1 L513.2,1039.0 L516.2,1039.0 L519.2,1039.0 L522.2,1038.9 L525.2,1038.9 L528.3,1038.9 L531.3,1038.8 L534.3,1038.8 L537.3,1038.8 L540.3,1038.7 L543.3,1038.7 L546.3,1038.7 L549.3,1038.6 L552.3,1038.6 L555.3,1038.6 L558.3,1038.5 L561.3,1038.5 L564.3,1038.5 L567.3,1038.4 L570.3,1038.4 L573.3,1038.3 L576.3,1038.3 L579.3,1038.3 L582.3,1038.2 L585.3,1038.2 L588.3,1038.2 L591.3,1038.1 L594.3,1038.1 L597.3,1038.0 L600.3,1038.0 L603.3,1038.0 L606.3,1037.9 L609.3,1037.9 L612.3,1037.9 L615.3,1037.8 L618.3,1037.8 L621.3,1037.8 L624.3,1037.7 L627.3,1037.7 L630.4,1037.7 L633.4,1037.6 L636.4,1037.6 L639.4,1037.6 L642.4,1037.5 L645.4,1037.5 L648.4,1037.5 L651.4,1037.4 L654.4,1037.4 L657.4,1037.4 L660.4,1037.3 L663.4,1037.3 L666.4,1037.3 L669.4,1037.3 L672.4,1037.2 L675.4,1037.2 L678.4,1037.2 L681.4,1037.1 L684.4,1037.1 L687.4,1037.1 L690.4,1037.1 L693.4,1037.1 L696.4,1037.0 L699.4,1037.0 L702.4,1037.0 L705.4,1037.0 L708.4,1036.9 L711.4,1036.9 L714.4,1036.9 L717.4,1036.9 L720.4,1036.9 L723.4,1036.8 L726.4,1036.8 L729.4,1036.8 L732.5,1036.8 L735.5,1036.8 L738.5,1036.7 L741.5,1036.7 L744.5,1036.7 L747.5,1036.7 L750.5,1036.7 L753.5,1036.6 L756.5,1036.6 L759.5,1036.6 L762.5,1036.6 L765.5,1036.6 L768.5,1036.6 L771.5,1036.5 L774.5,1036.5 L777.5,1036.5 L780.5,1036.5 L783.5,1036.5 L786.5,1036.4 L789.5,1036.4 L792.5,1036.4 L795.5,1036.4 L798.5,1036.4 L801.5,1036.4 L804.5,1036.3 L807.5,1036.3 L810.5,1036.3 L813.5,1036.3 L816.5,1036.3 L819.5,1036.3 L822.5,1036.3 L825.5,1036.2 L828.6,1036.2 L831.6,1036.2 L834.6,1036.2 L837.6,1036.2 L840.6,1036.2 L843.6,1036.1 L846.6,1036.1 L849.6,1036.1 L852.6,1036.1 L855.6,1036.1 L858.6,1036.1 L861.6,1036.1 L864.6,1036.0 L867.6,1036.0 L870.6,1036.0 L873.6,1036.0 L876.6,1036.0 L879.6,1036.0 L882.6,1036.0 L885.6,1035.9 L888.6,1035.9 L891.6,1035.9 L894.6,1035.9 L897.6,1035.9 L900.6,1035.9 L903.6,1035.9 L906.6,1035.8 L909.6,1035.8 L912.6,1035.8 L915.6,1035.8 L918.6,1035.8 L921.6,1035.8 L924.6,1035.8 L927.7,1035.8 L930.7,1035.7 L933.7,1035.7 L936.7,1035.7 L939.7,1035.7 L942.7,1035.7 L945.7,1035.7 L948.7,1035.7 L951.7,1035.7 L954.7,1035.7 L957.7,1035.6 L960.7,1035.6 L963.7,1035.6 L966.7,1035.6 L969.7,1035.6 L972.7,1035.6 L975.7,1035.6 L978.7,1035.6 L981.7,1035.6 L984.7,1035.5 L987.7,1035.5 L990.7,1035.5 L993.7,1035.5 L996.7,1035.5 L999.7,1035.5 L1002.7,1035.5 L1005.7,1035.5 L1008.7,1035.5 L1011.7,1035.5 L1014.7,1035.5 L1017.7,1035.5 L1020.7,1035.4 L1023.8,1035.4 L1026.8,1035.4 L1029.8,1035.4 L1032.8,1035.4 L1035.8,1035.4 L1038.8,1035.4 L1041.8,1035.4 L1044.8,1035.4 L1047.8,1035.4 L1050.8,1035.4 L1053.8,1035.4 L1056.8,1035.4 L1059.8,1035.4 L1062.8,1035.4 L1065.8,1035.4 L1068.8,1035.3 L1071.8,1035.3 L1074.8,1035.3 L1077.8,1035.3 L1080.8,1035.3 L1083.8,1035.3 L1086.8,1035.3 L1089.8,1035.3 L1092.8,1035.3 L1095.8,1035.3 L1098.8,1035.3 L1101.8,1035.3 L1104.8,1035.3 L1107.8,1035.3 L1110.8,1035.3 L1113.8,1035.3 L1116.8,1035.3 L1119.9,1035.3 L1122.9,1035.3 L1125.9,1035.3 L1128.9,1035.3 L1131.9,1035.3 L1134.9,1035.3 L1137.9,1035.3 L1140.9,1035.3 L1143.9,1035.3 L1146.9,1035.3 L1149.9,1035.3 L1152.9,1035.3 L1155.9,1035.4 L1158.9,1035.4 L1161.9,1035.4 L1164.9,1035.4 L1167.9,1035.4 L1170.9,1035.4 L1173.9,1035.4 L1176.9,1035.4 L1179.9,1035.4 L1182.9,1035.4 L1185.9,1035.4 L1188.9,1035.4 L1191.9,1035.5 L1194.9,1035.5 L1197.9,1035.5 L1200.9,1035.5 L1203.9,1035.5 L1206.9,1035.5 L1209.9,1035.6 L1212.9,1035.6 L1215.9,1035.6 L1219.0,1035.7 L1222.0,1035.7 L1225.0,1035.7 L1228.0,1035.8 L1231.0,1035.8 L1234.0,1035.9 L1237.0,1035.9 L1240.0,1036.0 L1243.0,1036.0 L1246.0,1036.1 L1249.0,1036.2 L1252.0,1036.2 L1255.0,1036.3 L1258.0,1036.4 L1261.0,1036.5 L1264.0,1036.6 L1267.0,1036.7 L1270.0,1036.7 L1273.0,1036.8 L1276.0,1036.9 L1279.0,1037.0 L1280.0,1037.0" fill="none" stroke="#0d0d0d" stroke-width="7.5" stroke-linecap="butt" stroke-linejoin="round" stroke-dasharray="8.5 3.8" stroke-dashoffset="0.00" />
<path d="M479.0,1051.0 L482.0,1051.0 L485.0,1050.9 L488.0,1050.9 L491.0,1050.9 L494.0,1050.9 L497.0,1050.8 L500.0,1050.8 L503.0,1050.8 L506.0,1050.7 L509.0,1050.7 L512.1,1050.7 L515.1,1050.6 L518.1,1050.6 L521.1,1050.6 L524.1,1050.5 L527.1,1050.5 L530.1,1050.5 L533.1,1050.4 L536.1,1050.4 L539.1,1050.4 L542.1,1050.4 L545.1,1050.3 L548.1,1050.3 L551.1,1050.3 L554.1,1050.2 L557.1,1050.2 L560.1,1050.2 L563.1,1050.1 L566.1,1050.1 L569.1,1050.1 L572.1,1050.0 L575.1,1050.0 L578.2,1050.0 L581.2,1050.0 L584.2,1049.9 L587.2,1049.9 L590.2,1049.9 L593.2,1049.8 L596.2,1049.8 L599.2,1049.8 L602.2,1049.8 L605.2,1049.7 L608.2,1049.7 L611.2,1049.7 L614.2,1049.6 L617.2,1049.6 L620.2,1049.6 L623.2,1049.6 L626.2,1049.5 L629.2,1049.5 L632.2,1049.5 L635.2,1049.5 L638.2,1049.4 L641.3,1049.4 L644.3,1049.4 L647.3,1049.4 L650.3,1049.3 L653.3,1049.3 L656.3,1049.3 L659.3,1049.3 L662.3,1049.3 L665.3,1049.2 L668.3,1049.2 L671.3,1049.2 L674.3,1049.2 L677.3,1049.1 L680.3,1049.1 L683.3,1049.1 L686.3,1049.1 L689.3,1049.1 L692.3,1049.0 L695.3,1049.0 L698.3,1049.0 L701.3,1049.0 L704.4,1049.0 L707.4,1049.0 L710.4,1048.9 L713.4,1048.9 L716.4,1048.9 L719.4,1048.9 L722.4,1048.9 L725.4,1048.9 L728.4,1048.9 L731.4,1048.8 L734.4,1048.8 L737.4,1048.8 L740.4,1048.8 L743.4,1048.8 L746.4,1048.8 L749.4,1048.8 L752.4,1048.8 L755.4,1048.8 L758.4,1048.7 L761.4,1048.7 L764.4,1048.7 L767.5,1048.7 L770.5,1048.7 L773.5,1048.7 L776.5,1048.7 L779.5,1048.7 L782.5,1048.7 L785.5,1048.7 L788.5,1048.7 L791.5,1048.7 L794.5,1048.6 L797.5,1048.6 L800.5,1048.6 L803.5,1048.6 L806.5,1048.6 L809.5,1048.6 L812.5,1048.6 L815.5,1048.6 L818.5,1048.6 L821.5,1048.6 L824.5,1048.6 L827.5,1048.6 L830.6,1048.6 L833.6,1048.5 L836.6,1048.5 L839.6,1048.5 L842.6,1048.5 L845.6,1048.5 L848.6,1048.5 L851.6,1048.5 L854.6,1048.5 L857.6,1048.5 L860.6,1048.5 L863.6,1048.5 L866.6,1048.5 L869.6,1048.5 L872.6,1048.5 L875.6,1048.5 L878.6,1048.4 L881.6,1048.4 L884.6,1048.4 L887.6,1048.4 L890.6,1048.4 L893.7,1048.4 L896.7,1048.4 L899.7,1048.4 L902.7,1048.4 L905.7,1048.4 L908.7,1048.4 L911.7,1048.4 L914.7,1048.4 L917.7,1048.3 L920.7,1048.3 L923.7,1048.3 L926.7,1048.3 L929.7,1048.3 L932.7,1048.3 L935.7,1048.3 L938.7,1048.3 L941.7,1048.3 L944.7,1048.3 L947.7,1048.2 L950.7,1048.2 L953.8,1048.2 L956.8,1048.2 L959.8,1048.2 L962.8,1048.2 L965.8,1048.2 L968.8,1048.2 L971.8,1048.2 L974.8,1048.1 L977.8,1048.1 L980.8,1048.1 L983.8,1048.1 L986.8,1048.1 L989.8,1048.1 L992.8,1048.0 L995.8,1048.0 L998.8,1048.0 L1001.8,1048.0 L1004.8,1048.0 L1007.8,1047.9 L1010.8,1047.9 L1013.8,1047.9 L1016.9,1047.9 L1019.9,1047.9 L1022.9,1047.8 L1025.9,1047.8 L1028.9,1047.8 L1031.9,1047.8 L1034.9,1047.7 L1037.9,1047.7 L1040.9,1047.7 L1043.9,1047.7 L1046.9,1047.6 L1049.9,1047.6 L1052.9,1047.6 L1055.9,1047.6 L1058.9,1047.5 L1061.9,1047.5 L1064.9,1047.5 L1067.9,1047.4 L1070.9,1047.4 L1073.9,1047.4 L1076.9,1047.3 L1079.9,1047.3 L1083.0,1047.3 L1086.0,1047.2 L1089.0,1047.2 L1092.0,1047.2 L1095.0,1047.1 L1098.0,1047.1 L1101.0,1047.0 L1104.0,1047.0 L1107.0,1046.9 L1110.0,1046.9 L1113.0,1046.8 L1116.0,1046.8 L1119.0,1046.7 L1122.0,1046.7 L1125.0,1046.6 L1128.0,1046.5 L1131.0,1046.5 L1134.0,1046.4 L1137.0,1046.3 L1140.0,1046.3 L1143.0,1046.2 L1146.0,1046.1 L1149.0,1046.0 L1152.1,1045.9 L1155.1,1045.8 L1158.1,1045.7 L1161.1,1045.6 L1164.1,1045.5 L1167.1,1045.4 L1170.1,1045.3 L1173.1,1045.1 L1176.1,1045.0 L1179.1,1044.8 L1182.1,1044.7 L1185.1,1044.5 L1188.1,1044.3 L1191.1,1044.1 L1194.1,1043.9 L1197.1,1043.7 L1200.1,1043.4 L1203.1,1043.2 L1206.0,1043.0 L1209.0,1042.8 L1212.0,1042.5 L1215.0,1042.3 L1218.0,1042.1 L1221.0,1041.9 L1224.0,1041.7 L1227.0,1041.6 L1230.0,1041.4 L1233.0,1041.2 L1236.0,1041.0 L1239.0,1040.8 L1242.0,1040.6 L1245.0,1040.4 L1248.0,1040.2 L1251.0,1040.0 L1254.0,1039.8 L1257.0,1039.6 L1260.0,1039.4 L1263.0,1039.2 L1266.0,1039.0 L1269.0,1038.7 L1272.0,1038.5 L1275.0,1038.3 L1278.0,1038.1 L1280.0,1038.0" fill="none" stroke="#0d0d0d" stroke-width="7.5" stroke-linecap="butt" stroke-linejoin="round" stroke-dasharray="8.5 3.8" stroke-dashoffset="4.00" />
<path d="M168.0,1665.0 L168.0,1662.0 L168.0,1659.0 L168.0,1656.0 L168.0,1653.0 L168.0,1650.0 L168.0,1647.0 L168.0,1644.0 L168.0,1641.0 L168.0,1638.0 L168.0,1635.0 L168.0,1632.0 L168.0,1629.0 L168.1,1626.0 L168.1,1623.0 L168.1,1620.0 L168.1,1617.0 L168.1,1614.0 L168.1,1611.0 L168.1,1608.0 L168.1,1605.0 L168.1,1602.0 L168.1,1599.0 L168.1,1595.9 L168.1,1592.9 L168.1,1589.9 L168.1,1586.9 L168.1,1583.9 L168.1,1580.9 L168.1,1577.9 L168.1,1574.9 L168.1,1571.9 L168.1,1568.9 L168.1,1565.9 L168.1,1562.9 L168.1,1559.9 L168.1,1556.9 L168.1,1553.9 L168.1,1550.9 L168.1,1547.9 L168.2,1544.9 L168.2,1541.9 L168.2,1538.9 L168.2,1535.9 L168.2,1532.9 L168.2,1529.9 L168.2,1526.9 L168.2,1523.9 L168.2,1520.9 L168.2,1517.9 L168.2,1514.9 L168.2,1511.9 L168.2,1508.9 L168.2,1505.9 L168.2,1502.9 L168.2,1499.9 L168.2,1496.9 L168.2,1493.9 L168.2,1490.9 L168.2,1487.9 L168.3,1484.9 L168.3,1481.9 L168.3,1478.9 L168.3,1475.9 L168.3,1472.9 L168.3,1469.9 L168.3,1466.9 L168.3,1463.8 L168.3,1460.8 L168.3,1457.8 L168.3,1454.8 L168.3,1451.8 L168.3,1448.8 L168.3,1445.8 L168.3,1442.8 L168.4,1439.8 L168.4,1436.8 L168.4,1433.8 L168.4,1430.8 L168.4,1427.8 L168.4,1424.8 L168.4,1421.8 L168.4,1418.8 L168.4,1415.8 L168.4,1412.8 L168.5,1409.8 L168.5,1406.8 L168.5,1403.8 L168.5,1400.8 L168.5,1397.8 L168.5,1394.8 L168.5,1391.8 L168.6,1388.8 L168.6,1385.8 L168.6,1382.8 L168.6,1379.8 L168.6,1376.8 L168.6,1373.8 L168.7,1370.8 L168.7,1367.8 L168.7,1364.8 L168.7,1361.8 L168.7,1358.8 L168.7,1355.8 L168.8,1352.8 L168.8,1349.8 L168.8,1346.8 L168.8,1343.8 L168.8,1340.8 L168.9,1337.8 L168.9,1334.8 L168.9,1331.8 L168.9,1328.7 L169.0,1325.7 L169.0,1322.7 L169.0,1319.7 L169.0,1316.7 L169.1,1313.7 L169.1,1310.7 L169.1,1307.7 L169.1,1304.7 L169.2,1301.7 L169.2,1298.7 L169.2,1295.7 L169.3,1292.7 L169.3,1289.7 L169.4,1286.7 L169.4,1283.7 L169.4,1280.7 L169.5,1277.7 L169.5,1274.7 L169.6,1271.7 L169.6,1268.7 L169.7,1265.7 L169.7,1262.7 L169.8,1259.7 L169.8,1256.7 L169.9,1253.7 L170.0,1250.7 L170.1,1247.7 L170.2,1244.7 L170.3,1241.7 L170.4,1238.7 L170.7,1235.7 L171.1,1232.8 L171.7,1230.0 L172.7,1227.3 L174.1,1224.9 L176.0,1222.9 L178.3,1221.3 L180.9,1220.3 L183.7,1219.7 L186.6,1219.3 L189.6,1219.2 L192.6,1219.1 L195.6,1219.0 L198.6,1219.0 L201.6,1219.0 L204.6,1219.0 L207.6,1218.9 L210.6,1218.9 L213.6,1218.9 L216.6,1218.8 L219.6,1218.8 L222.6,1218.8 L225.6,1218.8 L228.6,1218.8 L231.6,1218.8 L234.6,1218.7 L237.6,1218.7 L240.6,1218.7 L243.6,1218.7 L246.6,1218.7 L249.6,1218.7 L252.6,1218.7 L255.6,1218.7 L258.7,1218.6 L261.7,1218.6 L264.7,1218.6 L267.7,1218.6 L270.7,1218.6 L273.7,1218.6 L276.7,1218.6 L279.7,1218.6 L282.7,1218.6 L285.7,1218.5 L288.7,1218.5 L291.7,1218.5 L294.7,1218.5 L297.7,1218.5 L300.7,1218.5 L303.7,1218.5 L306.7,1218.5 L309.7,1218.5 L312.7,1218.5 L315.7,1218.5 L318.7,1218.4 L321.7,1218.4 L324.7,1218.4 L327.7,1218.4 L330.7,1218.4 L333.7,1218.4 L336.7,1218.4 L339.7,1218.4 L342.7,1218.4 L345.7,1218.4 L348.7,1218.4 L351.7,1218.4 L354.7,1218.4 L357.7,1218.4 L360.7,1218.3 L363.7,1218.3 L366.7,1218.3 L369.7,1218.3 L372.7,1218.3 L375.7,1218.3 L378.7,1218.3 L381.7,1218.3 L384.7,1218.3 L387.7,1218.3 L390.8,1218.3 L393.8,1218.3 L396.8,1218.3 L399.8,1218.3 L402.8,1218.3 L405.8,1218.3 L408.8,1218.2 L411.8,1218.2 L414.8,1218.2 L417.8,1218.2 L420.8,1218.2 L423.8,1218.2 L426.8,1218.2 L429.8,1218.2 L432.8,1218.2 L435.8,1218.2 L438.8,1218.2 L441.8,1218.2 L444.8,1218.2 L447.8,1218.2 L450.8,1218.2 L453.8,1218.1 L456.8,1218.1 L459.8,1218.1 L462.8,1218.1 L465.8,1218.1 L468.8,1218.1 L471.8,1218.1 L474.8,1218.1 L477.8,1218.1 L480.8,1218.1 L483.8,1218.1 L486.8,1218.0 L489.8,1218.0 L492.8,1218.0 L495.8,1218.0 L498.8,1218.0 L501.8,1218.0 L504.8,1218.0 L507.8,1218.0 L510.8,1218.0 L513.8,1218.0 L516.8,1217.9 L519.8,1217.9 L522.8,1217.9 L525.9,1217.9 L528.9,1217.9 L531.9,1217.9 L534.9,1217.9 L537.9,1217.9 L540.9,1217.9 L543.9,1217.9 L546.9,1217.9 L549.9,1217.9 L552.9,1217.8 L555.9,1217.8 L558.9,1217.8 L561.9,1217.8 L564.9,1217.8 L567.9,1217.8 L570.9,1217.8 L573.9,1217.8 L576.9,1217.8 L579.9,1217.8 L582.9,1217.8 L585.9,1217.8 L588.9,1217.7 L591.9,1217.7 L594.9,1217.7 L597.9,1217.7 L600.9,1217.7 L603.9,1217.7 L606.9,1217.7 L609.9,1217.7 L612.9,1217.7 L615.9,1217.7 L618.9,1217.7 L621.9,1217.6 L624.9,1217.6 L627.9,1217.6 L630.9,1217.6 L633.9,1217.6 L636.9,1217.6 L639.9,1217.6 L642.9,1217.5 L645.9,1217.5 L648.9,1217.5 L651.9,1217.5 L654.9,1217.5 L657.9,1217.5 L661.0,1217.4 L664.0,1217.4 L667.0,1217.4 L670.0,1217.4 L673.0,1217.3 L676.0,1217.3 L679.0,1217.3 L682.0,1217.2 L685.0,1217.2 L688.0,1217.2 L691.0,1217.1 L694.0,1217.1 L697.0,1217.0 L700.0,1217.0 L703.0,1216.9 L706.0,1216.9 L709.0,1216.8 L712.0,1216.7 L715.0,1216.6 L718.0,1216.5 L721.0,1216.4 L724.0,1216.3 L727.0,1216.1 L730.0,1215.9 L733.0,1215.7 L736.0,1215.5 L739.0,1215.2 L741.9,1214.9 L744.9,1214.6 L747.9,1214.3 L750.9,1214.0 L753.9,1213.8 L756.9,1213.6 L759.9,1213.4 L762.9,1213.3 L765.9,1213.2 L768.9,1213.1 L771.9,1213.1 L774.9,1213.0 L777.9,1213.0 L780.9,1212.9 L783.9,1212.7 L786.9,1212.6 L789.9,1212.4 L792.9,1212.2 L795.9,1212.0 L798.9,1211.8 L801.9,1211.6 L804.9,1211.4 L807.9,1211.2 L810.9,1211.0 L813.8,1210.7 L816.8,1210.5 L819.8,1210.2 L822.8,1209.9 L825.8,1209.6 L828.8,1209.2 L831.8,1208.8 L834.7,1208.4 L837.7,1208.0 L840.7,1207.6 L843.6,1207.1 L846.6,1206.6 L849.6,1206.1 L852.5,1205.5 L855.5,1205.0 L858.4,1204.4 L861.3,1203.8 L864.3,1203.2 L867.2,1202.6 L870.1,1201.9 L873.1,1201.2 L876.0,1200.5 L878.9,1199.8 L881.8,1199.0 L884.7,1198.2 L887.6,1197.4 L890.4,1196.5 L893.3,1195.6 L896.1,1194.6 L899.0,1193.6 L901.8,1192.6 L904.6,1191.6 L907.4,1190.5 L910.2,1189.4 L913.0,1188.2 L915.8,1187.1 L918.5,1185.9 L921.3,1184.8 L924.1,1183.6 L926.8,1182.4 L929.6,1181.2 L932.3,1180.0 L935.1,1178.8 L937.8,1177.6 L940.6,1176.4 L943.3,1175.2 L946.0,1173.9 L948.8,1172.7 L951.5,1171.4 L954.2,1170.1 L956.9,1168.8 L959.6,1167.4 L962.3,1166.1 L965.0,1164.8 L967.7,1163.5 L970.4,1162.2 L973.1,1160.9 L975.8,1159.6 L978.5,1158.4 L981.3,1157.1 L984.0,1155.9 L986.7,1154.6 L989.5,1153.4 L992.2,1152.1 L994.9,1150.9 L997.7,1149.6 L1000.4,1148.4 L1003.1,1147.1 L1005.8,1145.9 L1008.6,1144.6 L1011.3,1143.4 L1014.0,1142.1 L1016.7,1140.9 L1019.5,1139.6 L1022.2,1138.3 L1024.9,1137.0 L1027.6,1135.7 L1030.3,1134.4 L1033.0,1133.0 L1035.6,1131.7 L1038.3,1130.3 L1041.0,1128.9 L1043.7,1127.6 L1046.3,1126.2 L1049.0,1124.8 L1051.6,1123.4 L1054.3,1122.0 L1057.0,1120.6 L1059.6,1119.2 L1062.3,1117.9 L1065.0,1116.5 L1067.7,1115.2 L1070.4,1113.9 L1073.1,1112.6 L1075.8,1111.3 L1078.5,1110.0 L1081.3,1108.8 L1084.0,1107.6 L1086.8,1106.4 L1089.6,1105.3 L1092.3,1104.1 L1095.1,1103.0 L1097.9,1101.9 L1100.7,1100.8 L1103.5,1099.8 L1106.3,1098.7 L1109.1,1097.6 L1111.9,1096.5 L1114.7,1095.5 L1117.5,1094.4 L1120.3,1093.3 L1123.1,1092.3 L1125.9,1091.2 L1128.7,1090.1 L1131.5,1089.0 L1134.3,1087.9 L1137.1,1086.8 L1139.9,1085.7 L1142.7,1084.6 L1145.5,1083.4 L1148.3,1082.3 L1151.1,1081.2 L1153.9,1080.1 L1156.6,1079.0 L1159.4,1077.9 L1162.2,1076.8 L1165.0,1075.7 L1167.8,1074.6 L1170.6,1073.4 L1173.4,1072.3 L1176.2,1071.2 L1178.9,1070.1 L1181.7,1069.0 L1184.5,1067.8 L1187.3,1066.7 L1190.1,1065.6 L1192.8,1064.4 L1195.6,1063.2 L1198.4,1062.1 L1201.1,1060.9 L1203.9,1059.7 L1206.7,1058.6 L1209.4,1057.4 L1212.2,1056.3 L1215.0,1055.1 L1217.8,1054.0 L1220.6,1052.9 L1223.4,1051.8 L1226.2,1050.8 L1229.0,1049.7 L1231.8,1048.8 L1234.7,1047.8 L1237.5,1046.9 L1240.4,1046.1 L1243.3,1045.3 L1246.2,1044.5 L1249.1,1043.7 L1252.0,1043.0 L1255.0,1042.3 L1257.9,1041.7 L1260.8,1041.0 L1263.8,1040.4 L1266.7,1039.7 L1269.6,1039.1 L1272.5,1038.4 L1274.5,1038.0" fill="none" stroke="#0a0a0a" stroke-width="7.0" stroke-linecap="round" stroke-linejoin="round" stroke-dasharray="25 25" stroke-dashoffset="19.41" />
<path d="M172.5,1228.0 L172.5,1231.0 L172.5,1234.0 L172.4,1237.0 L172.4,1240.1 L172.4,1243.1 L172.4,1246.1 L172.4,1249.1 L172.3,1252.1 L172.3,1255.1 L172.3,1258.1 L172.3,1261.1 L172.2,1264.2 L172.2,1267.2 L172.2,1270.2 L172.2,1273.2 L172.2,1276.2 L172.1,1279.2 L172.1,1282.2 L172.1,1285.2 L172.1,1288.3 L172.1,1291.3 L172.0,1294.3 L172.0,1297.3 L172.0,1300.3 L172.0,1303.3 L172.0,1306.3 L171.9,1309.3 L171.9,1312.4 L171.9,1315.4 L171.9,1318.4 L171.9,1321.4 L171.8,1324.4 L171.8,1327.4 L171.8,1330.4 L171.8,1333.4 L171.8,1336.5 L171.8,1339.5 L171.7,1342.5 L171.7,1345.5 L171.7,1348.5 L171.7,1351.5 L171.7,1354.5 L171.6,1357.5 L171.6,1360.6 L171.6,1363.6 L171.6,1366.6 L171.6,1369.6 L171.6,1372.6 L171.5,1375.6 L171.5,1378.6 L171.5,1381.6 L171.5,1384.7 L171.4,1387.7 L171.4,1390.7 L171.4,1393.7 L171.4,1396.7 L171.4,1399.7 L171.3,1402.7 L171.3,1405.7 L171.3,1408.8 L171.3,1411.8 L171.2,1414.8 L171.2,1417.8 L171.2,1420.8 L171.2,1423.8 L171.1,1426.8 L171.1,1429.8 L171.1,1432.9 L171.0,1435.9 L171.0,1438.9 L171.0,1441.9 L170.9,1444.9 L170.9,1447.9 L170.8,1450.9 L170.8,1453.9 L170.7,1457.0 L170.7,1460.0 L170.6,1463.0 L170.5,1466.0 L170.5,1468.0" fill="none" stroke="#0d0d0d" stroke-width="9" stroke-linecap="round" stroke-linejoin="round" stroke-dasharray="30 3 14 4 22 3" stroke-dashoffset="0.00" />
<path d="M511.0,1242.0 L510.1,1244.9 L509.2,1247.8 L508.4,1250.7 L507.6,1253.6 L507.0,1256.5 L506.5,1259.5 L506.1,1262.5 L505.9,1265.5 L505.7,1268.5 L505.6,1271.5 L505.5,1274.6 L505.5,1277.6 L505.4,1280.6 L505.4,1283.6 L505.4,1286.6 L505.3,1289.7 L505.3,1292.7 L505.2,1295.7 L505.0,1298.7 L504.9,1301.7 L504.7,1304.8 L504.5,1307.8 L504.3,1310.8 L504.1,1313.8 L503.8,1316.8 L503.6,1319.8 L503.4,1322.8 L503.1,1325.8 L502.8,1328.8 L502.5,1331.9 L502.2,1334.9 L501.9,1337.9 L501.5,1340.9 L501.1,1343.9 L500.7,1346.8 L500.2,1349.8 L499.6,1352.8 L499.1,1355.8 L498.4,1358.7 L497.8,1361.7 L497.1,1364.6 L496.4,1367.5 L495.7,1370.5 L495.0,1373.4 L494.4,1376.4 L493.7,1379.3 L493.0,1382.3 L492.4,1385.2 L491.7,1388.2 L491.0,1391.1 L490.4,1394.1 L489.7,1397.0 L489.0,1399.9 L488.4,1402.9 L487.7,1405.8 L487.1,1408.8 L486.5,1411.8 L486.0,1414.7 L485.4,1417.7 L484.9,1420.7 L484.5,1423.7 L484.1,1426.7 L483.7,1429.7 L483.3,1432.7 L482.9,1435.7 L482.6,1438.7 L482.3,1441.7 L482.0,1444.7 L481.8,1447.7 L481.6,1450.7 L481.4,1453.7 L481.2,1456.7 L481.1,1459.8 L481.0,1462.8 L480.9,1465.8 L480.9,1468.8 L481.0,1471.8 L481.1,1474.8 L481.2,1477.9 L481.4,1480.9 L481.6,1483.9 L481.8,1486.9 L482.0,1489.9 L482.2,1492.9 L482.5,1495.9 L482.8,1499.0 L483.0,1502.0 L483.3,1505.0 L483.6,1508.0 L483.9,1511.0 L484.3,1514.0 L484.6,1517.0 L484.9,1520.0 L485.0,1521.0" fill="none" stroke="#0a0a0a" stroke-width="7.0" stroke-linecap="round" stroke-linejoin="round" stroke-dasharray="25 25" stroke-dashoffset="0.00" />
<path d="M485.0,1521.0 L486.2,1518.2 L487.4,1515.5 L488.6,1512.7 L489.8,1510.0 L491.0,1507.2 L492.3,1504.5 L493.6,1501.8 L494.9,1499.1 L496.3,1496.5 L497.8,1493.8 L499.3,1491.3 L500.9,1488.7 L502.6,1486.2 L504.3,1483.7 L506.1,1481.3 L507.9,1479.0 L509.8,1476.6 L511.8,1474.4 L513.8,1472.1 L515.8,1469.9 L517.9,1467.8 L520.0,1465.6 L522.1,1463.5 L524.3,1461.4 L526.4,1459.3 L528.6,1457.2 L530.8,1455.2 L533.0,1453.1 L535.2,1451.1 L537.4,1449.0 L539.6,1447.0 L541.8,1444.9 L544.0,1442.9 L546.2,1440.9 L548.5,1438.9 L550.8,1436.9 L553.1,1435.0 L555.5,1433.2 L558.0,1431.5 L560.5,1429.9 L563.1,1428.4 L565.7,1427.0 L568.4,1425.7 L571.2,1424.5 L573.9,1423.3 L576.7,1422.1 L579.5,1421.0 L582.3,1419.9 L585.1,1418.7 L587.8,1417.6 L590.6,1416.4 L593.3,1415.2 L596.0,1413.8 L598.7,1412.4 L601.3,1411.0 L603.9,1409.5 L606.5,1407.9 L609.1,1406.4 L611.7,1404.9 L614.3,1403.5 L617.0,1402.2 L619.8,1401.0 L622.6,1399.9 L625.4,1398.8 L628.2,1397.8 L631.0,1396.9 L633.9,1395.9 L636.8,1395.0 L639.6,1394.1 L642.5,1393.2 L645.4,1392.4 L648.3,1391.6 L651.2,1390.7 L654.1,1389.9 L657.0,1389.2 L659.9,1388.4 L662.8,1387.6 L665.7,1386.9 L668.6,1386.2 L671.5,1385.5 L674.5,1384.8 L677.4,1384.1 L680.3,1383.5 L683.3,1382.8 L686.2,1382.2 L689.1,1381.6 L692.1,1381.0 L695.0,1380.4 L698.0,1379.8 L700.9,1379.3 L703.9,1378.7 L706.8,1378.2 L709.8,1377.6 L712.8,1377.1 L715.7,1376.6 L718.7,1376.1 L721.6,1375.6 L724.6,1375.1 L727.6,1374.7 L730.6,1374.2 L733.5,1373.8 L736.5,1373.4 L739.5,1372.9 L742.5,1372.5 L745.4,1372.1 L748.4,1371.7 L751.4,1371.4 L754.4,1371.0 L757.4,1370.6 L760.3,1370.2 L763.3,1369.8 L766.3,1369.4 L769.3,1369.0 L772.2,1368.6 L775.2,1368.2 L778.2,1367.8 L781.2,1367.4 L784.2,1367.0 L787.1,1366.6 L790.1,1366.2 L793.1,1365.8 L796.1,1365.4 L799.0,1365.0 L802.0,1364.6 L805.0,1364.2 L808.0,1363.8 L811.0,1363.4 L813.9,1363.0 L816.9,1362.6 L819.9,1362.2 L822.9,1361.8 L825.9,1361.4 L828.8,1360.9 L831.8,1360.5 L834.8,1360.1 L837.8,1359.7 L840.7,1359.3 L843.7,1358.9 L846.7,1358.5 L849.7,1358.1 L852.6,1357.7 L855.6,1357.3 L858.6,1357.0 L861.6,1356.7 L864.6,1356.4 L867.6,1356.2 L870.6,1356.1 L873.6,1355.9 L876.6,1355.9 L879.6,1355.8 L882.6,1355.8 L885.6,1355.7 L888.6,1355.6 L891.6,1355.5 L894.6,1355.3 L897.6,1355.0 L900.6,1354.7 L903.6,1354.3 L906.5,1353.8 L909.5,1353.2 L912.4,1352.6 L915.3,1351.8 L918.2,1351.1 L921.1,1350.3 L924.0,1349.4 L926.9,1348.5 L929.7,1347.6 L932.6,1346.7 L935.4,1345.7 L938.3,1344.7 L941.1,1343.7 L943.9,1342.7 L946.8,1341.7 L949.6,1340.7 L952.4,1339.6 L955.2,1338.6 L958.0,1337.5 L960.9,1336.5 L963.7,1335.5 L966.5,1334.4 L969.3,1333.4 L972.1,1332.3 L975.0,1331.3 L977.8,1330.3 L980.6,1329.3 L983.4,1328.2 L986.2,1327.2 L989.1,1326.1 L991.9,1325.0 L994.7,1324.0 L997.5,1322.9 L1000.3,1321.7 L1003.0,1320.6 L1005.8,1319.5 L1008.6,1318.3 L1011.3,1317.1 L1014.1,1315.8 L1016.8,1314.6 L1019.5,1313.3 L1022.2,1312.0 L1024.9,1310.6 L1027.6,1309.3 L1030.3,1307.9 L1032.9,1306.5 L1035.6,1305.1 L1038.2,1303.6 L1040.8,1302.2 L1043.4,1300.7 L1046.0,1299.2 L1048.6,1297.7 L1051.2,1296.1 L1053.8,1294.6 L1056.3,1293.0 L1058.9,1291.4 L1061.4,1289.8 L1063.9,1288.2 L1066.4,1286.5 L1068.9,1284.8 L1071.4,1283.1 L1073.8,1281.3 L1076.2,1279.5 L1078.6,1277.6 L1080.9,1275.8 L1083.2,1273.9 L1085.5,1271.9 L1087.8,1270.0 L1090.1,1268.0 L1092.4,1266.1 L1094.7,1264.1 L1097.0,1262.2 L1099.3,1260.3 L1101.6,1258.4 L1103.9,1256.5 L1106.3,1254.6 L1108.6,1252.7 L1110.9,1250.8 L1113.2,1248.8 L1115.5,1246.9 L1117.8,1245.0 L1120.1,1243.0 L1122.4,1241.0 L1124.6,1239.0 L1126.8,1237.0 L1129.0,1234.9 L1131.2,1232.9 L1133.4,1230.8 L1135.6,1228.8 L1137.8,1226.7 L1140.0,1224.6 L1142.2,1222.6 L1144.3,1220.5 L1146.5,1218.5 L1148.7,1216.4 L1150.9,1214.3 L1153.0,1212.2 L1155.2,1210.1 L1157.3,1208.0 L1159.5,1205.9 L1161.6,1203.8 L1163.7,1201.7 L1165.9,1199.5 L1168.0,1197.4 L1170.0,1195.2 L1172.1,1193.1 L1174.2,1190.9 L1176.2,1188.6 L1178.2,1186.4 L1180.2,1184.2 L1182.2,1181.9 L1184.1,1179.6 L1186.0,1177.3 L1187.9,1174.9 L1189.8,1172.6 L1191.6,1170.2 L1193.5,1167.8 L1195.3,1165.5 L1197.1,1163.0 L1198.9,1160.6 L1200.6,1158.2 L1202.4,1155.7 L1204.1,1153.3 L1205.8,1150.8 L1207.6,1148.4 L1209.3,1145.9 L1211.0,1143.4 L1212.7,1140.9 L1214.3,1138.5 L1216.0,1136.0 L1217.7,1133.5 L1219.4,1131.0 L1221.1,1128.5 L1222.8,1126.0 L1224.5,1123.5 L1226.1,1121.0 L1227.8,1118.5 L1229.4,1116.0 L1231.1,1113.5 L1232.7,1111.0 L1234.4,1108.5 L1236.0,1105.9 L1237.6,1103.4 L1239.2,1100.9 L1240.8,1098.3 L1242.4,1095.8 L1244.0,1093.2 L1245.6,1090.7 L1247.2,1088.1 L1248.8,1085.6 L1250.4,1083.0 L1251.9,1080.5 L1253.5,1077.9 L1255.1,1075.3 L1256.7,1072.8 L1258.2,1070.2 L1259.8,1067.7 L1261.4,1065.1 L1262.9,1062.5 L1264.5,1059.9 L1266.0,1057.4 L1267.5,1054.8 L1269.0,1052.2 L1270.5,1049.6 L1272.0,1047.0 L1273.5,1044.3 L1275.0,1041.7 L1276.0,1040.0" fill="none" stroke="#0a0a0a" stroke-width="7.0" stroke-linecap="round" stroke-linejoin="round" stroke-dasharray="25 25" stroke-dashoffset="0.00" />
<path d="M168.0,1240.0 L168.0,1243.0 L168.0,1246.0 L168.0,1249.0 L168.1,1252.1 L168.1,1255.1 L168.1,1258.1 L168.1,1261.1 L168.1,1264.1 L168.1,1267.1 L168.1,1270.1 L168.1,1273.2 L168.2,1276.2 L168.2,1279.2 L168.2,1282.2 L168.2,1285.2 L168.2,1288.2 L168.2,1291.2 L168.2,1294.2 L168.2,1297.3 L168.2,1300.3 L168.3,1303.3 L168.3,1306.3 L168.3,1309.3 L168.3,1312.3 L168.3,1315.3 L168.3,1318.4 L168.3,1321.4 L168.4,1324.4 L168.4,1327.4 L168.4,1330.4 L168.4,1333.4 L168.4,1336.4 L168.4,1339.5 L168.5,1342.5 L168.5,1345.5 L168.5,1348.5 L168.5,1351.5 L168.5,1354.5 L168.5,1357.5 L168.6,1360.6 L168.6,1363.6 L168.6,1366.6 L168.6,1369.6 L168.7,1372.6 L168.7,1375.6 L168.7,1378.6 L168.8,1381.6 L168.8,1384.7 L168.8,1387.7 L168.9,1390.7 L168.9,1393.7 L168.9,1396.7 L169.0,1399.7 L169.1,1402.7 L169.1,1405.8 L169.2,1408.8 L169.2,1411.8 L169.3,1414.8 L169.4,1417.8 L169.5,1420.8 L169.6,1423.8 L169.6,1426.8 L169.7,1429.9 L169.9,1432.9 L170.0,1435.9 L170.1,1438.9 L170.2,1441.9 L170.4,1444.9 L170.5,1447.9 L170.7,1450.9 L170.9,1453.9 L171.1,1456.9 L171.3,1460.0 L171.5,1463.0 L171.7,1466.0 L171.9,1469.0 L172.2,1472.0 L172.5,1475.0 L172.9,1478.0 L173.3,1480.9 L174.0,1483.9 L174.9,1486.7 L175.9,1489.6 L177.0,1492.3 L178.8,1494.0 L181.3,1494.1 L184.0,1492.9 L186.7,1491.6 L189.5,1490.6 L192.3,1489.6 L195.2,1488.8 L198.1,1488.0 L201.1,1487.3 L204.0,1486.7 L207.0,1486.2 L210.0,1485.9 L213.0,1485.5 L216.0,1485.3 L219.0,1485.0 L222.0,1484.8 L225.0,1484.6 L228.0,1484.4 L231.0,1484.2 L233.0,1484.0" fill="none" stroke="#0d0d0d" stroke-width="3.2" stroke-linecap="butt" stroke-linejoin="round" />
<path d="M205.6,1486.4 L208.6,1486.1 L211.6,1485.8 L214.6,1485.5 L217.6,1485.2 L220.6,1485.0 L223.5,1484.7 L226.5,1484.5 L229.5,1484.3 L232.5,1484.1 L235.5,1483.9 L238.5,1483.8 L241.5,1483.7 L244.5,1483.5 L247.5,1483.4 L250.5,1483.3 L253.5,1483.2 L256.5,1483.2 L259.5,1483.1 L262.6,1483.0 L265.6,1483.0 L268.6,1482.9 L271.6,1482.9 L274.6,1482.8 L277.6,1482.8 L280.6,1482.7 L283.6,1482.7 L286.6,1482.7 L289.6,1482.6 L292.6,1482.6 L295.6,1482.6 L298.6,1482.6 L301.6,1482.6 L304.6,1482.6 L307.6,1482.6 L310.6,1482.6 L313.6,1482.7 L316.6,1482.7 L319.6,1482.7 L322.6,1482.7 L325.6,1482.8 L328.6,1482.8 L331.6,1482.8 L334.6,1482.9 L337.6,1482.9 L340.7,1482.9 L343.7,1483.0 L346.7,1483.0 L349.7,1483.0 L352.7,1483.1 L355.7,1483.1 L358.7,1483.2 L361.7,1483.2 L364.7,1483.2 L367.7,1483.3 L370.7,1483.3 L373.7,1483.4 L376.7,1483.4 L379.7,1483.5 L382.7,1483.5 L385.7,1483.5 L388.7,1483.6 L391.7,1483.6 L394.7,1483.7 L397.7,1483.7 L400.7,1483.8 L403.7,1483.8 L406.7,1483.8 L409.7,1483.9 L412.7,1483.9 L415.7,1484.0 L418.8,1484.0 L421.8,1484.1 L424.8,1484.1 L427.8,1484.1 L430.8,1484.2 L433.8,1484.2 L436.8,1484.3 L439.8,1484.3 L442.8,1484.4 L445.8,1484.4 L448.8,1484.4 L451.8,1484.5 L454.8,1484.5 L457.8,1484.6 L460.8,1484.6 L463.8,1484.6 L466.8,1484.7 L469.8,1484.7 L472.8,1484.7 L475.8,1484.8 L478.8,1484.8 L481.8,1484.8 L484.8,1484.9 L487.8,1484.9 L490.8,1484.9 L493.8,1484.9 L496.9,1485.0 L499.9,1485.0 L502.9,1485.0 L505.9,1485.0 L508.9,1485.0 L511.9,1485.0 L514.9,1485.0 L517.9,1485.0 L520.9,1485.0 L523.9,1485.0 L526.9,1485.0 L529.9,1485.0 L532.9,1485.0 L535.9,1485.0 L538.9,1485.0 L541.9,1484.9 L544.9,1484.9 L547.9,1484.9 L550.9,1484.8 L553.9,1484.8 L556.9,1484.8 L559.9,1484.7 L562.9,1484.7 L565.9,1484.7 L568.9,1484.6 L572.0,1484.6 L575.0,1484.6 L578.0,1484.6 L581.0,1484.5 L584.0,1484.5 L587.0,1484.5 L590.0,1484.5 L593.0,1484.5 L596.0,1484.5 L599.0,1484.5 L602.0,1484.5 L605.0,1484.5 L608.0,1484.5 L611.0,1484.5 L614.0,1484.5 L617.0,1484.5 L620.0,1484.5 L623.0,1484.5 L626.0,1484.5 L629.0,1484.5 L632.0,1484.5 L635.0,1484.5 L638.0,1484.5 L641.0,1484.6 L644.0,1484.6 L647.1,1484.6 L650.1,1484.6 L653.1,1484.6 L656.1,1484.7 L659.1,1484.7 L662.1,1484.7 L665.1,1484.8 L668.1,1484.8 L671.1,1484.8 L674.1,1484.9 L677.1,1484.9 L680.1,1485.0 L683.1,1485.0 L686.1,1485.1 L689.1,1485.2 L692.1,1485.2 L695.1,1485.3 L698.1,1485.3 L701.1,1485.4 L704.1,1485.5 L707.1,1485.6 L710.1,1485.6 L713.1,1485.7 L716.1,1485.8 L719.1,1485.9 L722.1,1486.0 L725.1,1486.0 L728.1,1486.1 L731.1,1486.2 L734.2,1486.3 L737.2,1486.4 L740.2,1486.5 L743.2,1486.6 L746.2,1486.8 L749.2,1486.9 L752.2,1487.0 L755.2,1487.1 L758.2,1487.3 L761.2,1487.4 L764.2,1487.6 L767.2,1487.7 L770.2,1487.9 L773.2,1488.1 L776.2,1488.3 L779.2,1488.5 L782.2,1488.7 L785.1,1488.9 L788.1,1489.2 L791.1,1489.5 L794.1,1489.7 L797.1,1490.0 L800.1,1490.3 L803.1,1490.6 L806.1,1490.9 L809.1,1491.3 L812.0,1491.6 L815.0,1491.9 L818.0,1492.3 L821.0,1492.7 L824.0,1493.1 L827.0,1493.5 L829.9,1493.9 L832.9,1494.3 L835.9,1494.7 L838.8,1495.2 L841.8,1495.7 L844.7,1496.3 L847.7,1496.9 L850.6,1497.5 L853.6,1498.1 L856.5,1498.7 L859.4,1499.4 L862.4,1499.9 L865.3,1500.5 L868.3,1501.0 L871.3,1501.6 L874.2,1502.1 L877.2,1502.5 L880.1,1503.0 L883.1,1503.5 L886.1,1504.0 L889.0,1504.6 L892.0,1505.2 L894.9,1505.8 L897.8,1506.4 L900.7,1507.1 L903.6,1507.9 L906.5,1508.8 L909.4,1509.7 L912.2,1510.6 L915.0,1511.6 L917.8,1512.7 L920.6,1513.9 L923.4,1515.0 L926.1,1516.3 L928.8,1517.5 L931.6,1518.8 L934.3,1520.1 L937.0,1521.4 L939.6,1522.8 L942.3,1524.1 L945.0,1525.5 L947.7,1526.8 L950.4,1528.2 L953.1,1529.5 L955.7,1530.9 L958.4,1532.2 L961.1,1533.6 L963.8,1534.9 L966.5,1536.2 L969.2,1537.6 L971.9,1538.9 L974.6,1540.3 L977.2,1541.6 L979.9,1543.0 L982.6,1544.3 L985.3,1545.7 L988.0,1547.1 L990.6,1548.4 L993.3,1549.8 L996.0,1551.1 L998.7,1552.5 L1001.4,1553.8 L1004.0,1555.2 L1006.7,1556.5 L1009.4,1557.9 L1012.1,1559.2 L1014.8,1560.5 L1017.5,1561.9 L1020.2,1563.2 L1022.9,1564.5 L1025.6,1565.8 L1028.3,1567.1 L1031.0,1568.4 L1033.8,1569.6 L1036.5,1570.9 L1039.2,1572.2 L1041.9,1573.4 L1044.7,1574.7 L1047.4,1576.0 L1050.1,1577.2 L1052.9,1578.5 L1055.6,1579.7 L1058.3,1580.9 L1061.1,1582.2 L1063.8,1583.4 L1066.6,1584.6 L1069.3,1585.8 L1072.1,1587.0 L1074.8,1588.2 L1077.6,1589.4 L1080.3,1590.6 L1083.1,1591.8 L1085.8,1593.0 L1088.6,1594.2 L1091.4,1595.4 L1094.1,1596.6 L1096.9,1597.7 L1099.6,1598.9 L1102.4,1600.1 L1105.2,1601.2 L1108.0,1602.4 L1110.7,1603.5 L1113.5,1604.7 L1116.3,1605.8 L1119.1,1606.9 L1121.9,1608.1 L1124.6,1609.2 L1127.4,1610.3 L1130.2,1611.4 L1133.0,1612.5 L1135.8,1613.7 L1138.6,1614.8 L1141.4,1615.8 L1144.2,1616.9 L1147.0,1618.0 L1149.8,1619.1 L1152.6,1620.2 L1155.4,1621.2 L1158.2,1622.3 L1161.0,1623.3 L1163.9,1624.4 L1166.7,1625.4 L1169.5,1626.4 L1172.3,1627.5 L1175.2,1628.5 L1178.0,1629.5 L1180.8,1630.5 L1183.7,1631.5 L1186.5,1632.5 L1189.3,1633.5 L1192.2,1634.4 L1195.0,1635.4 L1197.9,1636.4 L1200.7,1637.4 L1203.5,1638.3 L1206.4,1639.3 L1209.2,1640.3 L1212.1,1641.2 L1214.9,1642.2 L1217.8,1643.2 L1220.6,1644.2 L1223.4,1645.1 L1226.3,1646.1 L1229.1,1647.1 L1232.0,1648.1 L1234.8,1649.0 L1237.6,1650.0 L1240.5,1651.0 L1243.3,1652.0 L1246.2,1652.9 L1249.0,1653.9 L1251.9,1654.9 L1254.7,1655.9 L1257.5,1656.8 L1260.4,1657.8 L1263.2,1658.8 L1266.1,1659.7 L1268.9,1660.7 L1271.8,1661.7 L1272.7,1662.0" fill="none" stroke="#0d0d0d" stroke-width="3.2" stroke-linecap="butt" stroke-linejoin="round" />
<path d="M1272.7,1662.0 L1271.2,1659.4 L1269.6,1656.8 L1268.1,1654.2 L1266.6,1651.7 L1265.0,1649.1 L1263.5,1646.5 L1261.9,1643.9 L1260.4,1641.4 L1258.8,1638.8 L1257.2,1636.3 L1255.5,1633.8 L1253.9,1631.3 L1252.2,1628.8 L1250.6,1626.3 L1248.9,1623.8 L1247.2,1621.3 L1245.5,1618.8 L1243.8,1616.3 L1242.1,1613.8 L1240.4,1611.4 L1238.7,1608.9 L1237.0,1606.4 L1235.3,1604.0 L1233.5,1601.5 L1231.8,1599.1 L1230.0,1596.7 L1228.2,1594.3 L1226.4,1591.8 L1224.6,1589.5 L1222.8,1587.1 L1220.9,1584.7 L1219.1,1582.3 L1217.2,1580.0 L1215.3,1577.6 L1213.5,1575.3 L1211.6,1573.0 L1209.7,1570.7 L1207.7,1568.3 L1205.8,1566.0 L1203.9,1563.7 L1201.9,1561.4 L1200.0,1559.2 L1198.0,1556.9 L1196.1,1554.6 L1194.1,1552.4 L1192.1,1550.1 L1190.1,1547.9 L1188.1,1545.6 L1186.1,1543.4 L1184.0,1541.2 L1182.0,1539.0 L1179.9,1536.8 L1177.8,1534.7 L1175.7,1532.5 L1173.6,1530.4 L1171.5,1528.2 L1169.4,1526.1 L1167.2,1524.0 L1165.1,1522.0 L1162.9,1519.9 L1160.7,1517.9 L1158.5,1515.8 L1156.3,1513.8 L1154.0,1511.8 L1151.8,1509.7 L1149.6,1507.7 L1147.4,1505.7 L1145.1,1503.7 L1142.9,1501.7 L1140.7,1499.7 L1138.5,1497.6 L1136.2,1495.6 L1134.0,1493.6 L1131.8,1491.5 L1129.7,1489.5 L1127.5,1487.4 L1125.3,1485.3 L1123.2,1483.2 L1121.1,1481.1 L1119.0,1478.9 L1116.9,1476.8 L1114.8,1474.6 L1112.7,1472.5 L1110.6,1470.3 L1108.5,1468.1 L1106.5,1466.0 L1104.4,1463.8 L1102.3,1461.6 L1100.2,1459.4 L1098.2,1457.3 L1096.1,1455.1 L1094.0,1453.0 L1091.8,1450.9 L1089.7,1448.8 L1087.5,1446.7 L1085.4,1444.6 L1083.2,1442.5 L1080.9,1440.5 L1078.7,1438.6 L1076.4,1436.6 L1074.1,1434.7 L1071.8,1432.8 L1069.4,1431.0 L1067.0,1429.1 L1064.6,1427.3 L1062.2,1425.6 L1059.7,1423.9 L1057.2,1422.2 L1054.7,1420.5 L1052.2,1418.8 L1049.7,1417.2 L1047.2,1415.6 L1044.6,1414.0 L1042.1,1412.4 L1039.5,1410.8 L1036.9,1409.3 L1034.4,1407.7 L1031.8,1406.2 L1029.2,1404.7 L1026.6,1403.1 L1024.0,1401.6 L1021.5,1400.1 L1018.9,1398.5 L1016.3,1397.0 L1013.7,1395.5 L1011.1,1394.0 L1008.5,1392.5 L1005.9,1391.0 L1003.3,1389.5 L1000.7,1388.0 L998.0,1386.6 L995.4,1385.2 L992.8,1383.7 L990.1,1382.4 L987.4,1381.0 L984.7,1379.7 L982.0,1378.4 L979.3,1377.2 L976.5,1376.0 L973.7,1374.8 L971.0,1373.7 L968.2,1372.6 L965.3,1371.6 L962.5,1370.6 L959.7,1369.7 L956.8,1368.8 L953.9,1367.9 L951.0,1367.1 L948.1,1366.3 L945.2,1365.6 L942.3,1364.8 L939.4,1364.1 L936.4,1363.5 L933.5,1362.8 L930.6,1362.2 L927.6,1361.6 L924.7,1361.0 L921.7,1360.4 L918.8,1359.9 L915.8,1359.3 L912.9,1358.8 L909.9,1358.2 L907.0,1357.7 L904.0,1357.3 L901.0,1356.9 L898.1,1356.5 L895.1,1356.1 L892.1,1355.8 L889.1,1355.6 L886.1,1355.3 L883.1,1355.1 L880.1,1354.9 L877.1,1354.6 L874.1,1354.4 L871.1,1354.2 L868.1,1353.9 L865.1,1353.7 L862.2,1353.4 L859.2,1353.1 L856.2,1352.8 L853.2,1352.5 L850.2,1352.2 L847.2,1351.9 L844.2,1351.7 L841.2,1351.4 L838.2,1351.1 L835.3,1350.8 L832.3,1350.5 L829.3,1350.2 L826.3,1349.9 L823.3,1349.6 L820.3,1349.3 L817.3,1349.0 L814.3,1348.7 L811.4,1348.3 L808.4,1348.0 L805.4,1347.7 L802.4,1347.4 L799.4,1347.0 L796.4,1346.7 L793.4,1346.4 L790.5,1346.0 L787.5,1345.7 L784.5,1345.3 L781.5,1345.0 L778.5,1344.6 L775.5,1344.3 L772.6,1343.9 L769.6,1343.6 L766.6,1343.2 L763.6,1342.8 L760.6,1342.5 L757.7,1342.1 L754.7,1341.7 L751.7,1341.3 L748.7,1340.9 L745.7,1340.5 L742.8,1340.1 L739.8,1339.7 L736.8,1339.3 L733.9,1338.8 L730.9,1338.4 L727.9,1337.9 L724.9,1337.5 L722.0,1337.0 L719.0,1336.5 L716.1,1336.0 L713.1,1335.5 L710.1,1334.9 L707.2,1334.4 L704.2,1333.8 L701.3,1333.2 L698.4,1332.6 L695.4,1332.0 L692.5,1331.4 L689.5,1330.7 L686.6,1330.1 L683.7,1329.4 L680.8,1328.8 L677.8,1328.1 L674.9,1327.4 L672.0,1326.7 L669.1,1326.0 L666.2,1325.3 L663.2,1324.6 L660.3,1323.8 L657.4,1323.1 L654.5,1322.4 L651.6,1321.6 L648.7,1320.9 L645.8,1320.1 L642.9,1319.4 L640.0,1318.6 L637.1,1317.8 L634.2,1316.9 L631.3,1316.0 L628.5,1315.1 L625.6,1314.2 L622.8,1313.2 L620.0,1312.1 L617.2,1311.0 L614.4,1309.8 L611.7,1308.7 L608.9,1307.4 L606.2,1306.2 L603.5,1304.9 L600.7,1303.7 L598.0,1302.4 L595.3,1301.1 L592.6,1299.9 L589.8,1298.6 L587.1,1297.4 L584.4,1296.2 L581.6,1295.0 L578.9,1293.7 L576.2,1292.4 L573.5,1291.1 L570.8,1289.7 L568.2,1288.3 L565.6,1286.8 L563.0,1285.3 L560.4,1283.8 L557.8,1282.2 L555.3,1280.6 L552.7,1279.0 L550.2,1277.4 L547.7,1275.8 L545.2,1274.1 L542.8,1272.3 L540.3,1270.6 L537.9,1268.8 L535.6,1266.9 L533.2,1265.0 L531.0,1263.1 L528.7,1261.1 L526.5,1259.0 L524.4,1256.9 L522.3,1254.8 L520.2,1252.6 L518.1,1250.5 L516.1,1248.2 L514.1,1246.0 L512.2,1243.7 L510.3,1241.4 L508.4,1239.0 L506.6,1236.7 L504.8,1234.2 L503.1,1231.8 L501.4,1229.3 L499.8,1226.8 L498.2,1224.2 L496.7,1221.6 L495.2,1219.0 L493.8,1216.4 L492.4,1213.7 L491.1,1211.0 L489.8,1208.3 L488.5,1205.6 L487.2,1202.9 L486.0,1200.1 L484.9,1197.3 L483.8,1194.6 L482.7,1191.8 L481.6,1188.9 L481.3,1188.0" fill="none" stroke="#0d0d0d" stroke-width="3.2" stroke-linecap="butt" stroke-linejoin="round" />
<path d="M481.3,1188.0 L481.2,1191.0 L481.1,1194.0 L481.0,1197.1 L481.0,1200.1 L480.9,1203.1 L480.8,1206.1 L480.8,1209.1 L480.7,1212.2 L480.7,1215.2 L480.7,1218.2 L480.7,1221.2 L480.7,1224.2 L480.8,1227.3 L480.8,1230.3 L480.8,1233.3 L480.8,1236.3 L480.9,1239.4 L480.9,1242.4 L481.0,1245.4 L481.0,1248.4 L481.1,1251.4 L481.2,1254.5 L481.3,1257.5 L481.4,1260.5 L481.5,1263.5 L481.7,1266.5 L481.8,1269.5 L482.1,1272.6 L482.3,1275.6 L482.6,1278.6 L482.9,1281.6 L483.3,1284.6 L483.7,1287.6 L484.2,1290.6 L484.7,1293.5 L485.3,1296.5 L485.9,1299.4 L486.6,1302.4 L487.4,1305.3 L488.3,1308.2 L489.4,1311.0 L490.6,1313.8 L491.9,1316.5 L493.2,1319.2 L494.2,1322.1 L495.2,1324.9 L496.1,1327.8 L497.0,1330.7 L497.8,1333.6 L498.5,1336.5 L499.2,1339.5 L499.9,1342.4 L500.4,1345.4 L500.9,1348.4 L501.3,1351.4 L501.7,1354.4 L502.0,1357.4 L502.2,1360.4 L502.5,1363.4 L502.6,1366.4 L502.8,1369.4 L503.0,1372.4 L503.1,1375.5 L503.3,1378.5 L503.4,1381.5 L503.6,1384.5 L503.7,1387.5 L503.9,1390.6 L504.0,1393.6 L504.1,1396.6 L504.3,1399.6 L504.4,1402.6 L504.5,1405.6 L504.7,1408.7 L504.8,1411.7 L504.9,1414.7 L505.0,1417.7 L505.1,1420.7 L505.2,1423.8 L505.4,1426.8 L505.5,1429.8 L505.6,1432.8 L505.7,1435.8 L505.8,1438.9 L505.9,1441.9 L506.1,1444.9 L506.2,1447.9 L506.3,1450.9 L506.4,1453.9 L506.5,1457.0 L506.6,1460.0 L506.7,1462.0" fill="none" stroke="#0d0d0d" stroke-width="2.8" stroke-linecap="butt" stroke-linejoin="round" />
<circle cx="748.8" cy="1214.7" r="5.2" fill="#fff" stroke="#000" stroke-width="2.2"/>
<circle cx="493.4" cy="1378" r="5" fill="#fff" stroke="#000" stroke-width="2.2"/>
<line x1="846.4" y1="999.3" x2="931.0" y2="1022.5" stroke="#111" stroke-width="1.6"/>
<polygon points="931.5,1009.6 926.3,1030.3 959.9,1026.7" fill="#0a0a0a"/>
<line x1="689.0" y1="1169.6" x2="816.0" y2="1183.0" stroke="#111" stroke-width="1.6"/>
<polygon points="814.7,1171.5 810.8,1195.0 846.2,1186.2" fill="#0a0a0a"/>
<line x1="745.0" y1="1551.6" x2="820.0" y2="1508.0" stroke="#111" stroke-width="1.6"/>
<polygon points="807.0,1503.0 817.9,1522.2 837.0,1499.0" fill="#0a0a0a"/>
<text x="181.6" y="1002.5" font-size="44.00" textLength="57.4" lengthAdjust="spacingAndGlyphs" fill="#111">(b)</text>
<text x="505.2" y="1009.8" font-size="44.85" textLength="129.5" lengthAdjust="spacingAndGlyphs" fill="#111" >LiCoO</text>
<text x="634.6" y="1030.4" font-size="25.78" textLength="15.7" lengthAdjust="spacingAndGlyphs" fill="#111" >2</text>
<text x="667.4" y="1009.8" font-size="44.85" textLength="158.3" lengthAdjust="spacingAndGlyphs" fill="#111" >vs. Li/Li</text>
<path d="M828.2,979.4 H839.4 M833.8,973.8 V985.0" stroke="#111" stroke-width="3.6" fill="none"/>
<text x="478.4" y="1150.0" font-size="37.95" textLength="203.9" lengthAdjust="spacingAndGlyphs" fill="#111" >Output Cell</text>
<text x="519.6" y="1194.9" font-size="37.95" textLength="134.7" lengthAdjust="spacingAndGlyphs" fill="#111" >Voltage</text>
<text x="236.4" y="1370.0" font-size="45.83" textLength="140.9" lengthAdjust="spacingAndGlyphs" fill="#111" >Mr=8.5</text>
<text x="627.4" y="1585.7" font-size="46.83" textLength="58.4" lengthAdjust="spacingAndGlyphs" fill="#111" >Co</text>
<text x="685.7" y="1606.9" font-size="27.35" textLength="14.9" lengthAdjust="spacingAndGlyphs" fill="#111" >3</text>
<text x="701.3" y="1585.7" font-size="46.83" textLength="34.9" lengthAdjust="spacingAndGlyphs" fill="#111" >O</text>
<text x="736.1" y="1606.9" font-size="27.76" textLength="13.1" lengthAdjust="spacingAndGlyphs" fill="#111" >4</text>
<text x="760.0" y="1585.5" font-size="45.82" textLength="166.3" lengthAdjust="spacingAndGlyphs" fill="#111" >Vs. Li/Li</text>
<path d="M929.4,1555.5 H940.6 M935.0,1549.9 V1561.1" stroke="#111" stroke-width="3.6" fill="none"/>
<text x="113.6" y="1677.5" font-size="44.00" fill="#111">0</text>
<text x="113.1" y="1518.5" font-size="44.00" fill="#111">1</text>
<text x="113.6" y="1359.5" font-size="44.00" fill="#111">2</text>
<text x="114.2" y="1200.5" font-size="42.50" fill="#111">3</text>
<text x="112.9" y="1041.5" font-size="42.50" fill="#111">4</text>
<text x="152.7" y="1718.0" font-size="42.50" fill="#111">0</text>
<text x="369.3" y="1718.0" font-size="42.50" fill="#111">2</text>
<text x="585.5" y="1718.0" font-size="42.50" fill="#111">4</text>
<text x="802.2" y="1718.0" font-size="42.50" fill="#111">6</text>
<text x="1018.7" y="1718.0" font-size="42.50" fill="#111">8</text>
<text x="1222.9" y="1718.0" font-size="42.50" fill="#111">10</text>
<text x="544.7" y="1768.4" font-size="55.06" textLength="188.6" lengthAdjust="spacingAndGlyphs" fill="#111" >x in &quot;Li</text>
<text x="733.9" y="1799.5" font-size="34.45" textLength="18.0" lengthAdjust="spacingAndGlyphs" fill="#111" >x</text>
<text x="754.2" y="1769.0" font-size="58.00" textLength="67.7" lengthAdjust="spacingAndGlyphs" fill="#111" >Co</text>
<text x="826.9" y="1802.3" font-size="37.95" textLength="21.4" lengthAdjust="spacingAndGlyphs" fill="#111" >3</text>
<text x="848.7" y="1769.0" font-size="58.00" textLength="40.1" lengthAdjust="spacingAndGlyphs" fill="#111" >O</text>
<text x="890.8" y="1802.3" font-size="38.52" textLength="19.8" lengthAdjust="spacingAndGlyphs" fill="#111" >4</text>
<text x="914.6" y="1769.0" font-size="56.50" fill="#111">&quot;</text>
<text transform="translate(49.6,1530.5) rotate(-90)" x="0" y="0" font-size="62.00" textLength="226.0" lengthAdjust="spacingAndGlyphs" fill="#111">Voltage</text>
<text transform="translate(49.6,1287.9) rotate(-90)" x="0" y="0" font-size="62.00" textLength="197.6" lengthAdjust="spacingAndGlyphs" fill="#111">(Volts)</text>
</g>
<defs><filter id="soft" x="0" y="0" width="100%" height="100%"><feGaussianBlur stdDeviation="0.8"/></filter></defs>
</svg>
</body></html>
